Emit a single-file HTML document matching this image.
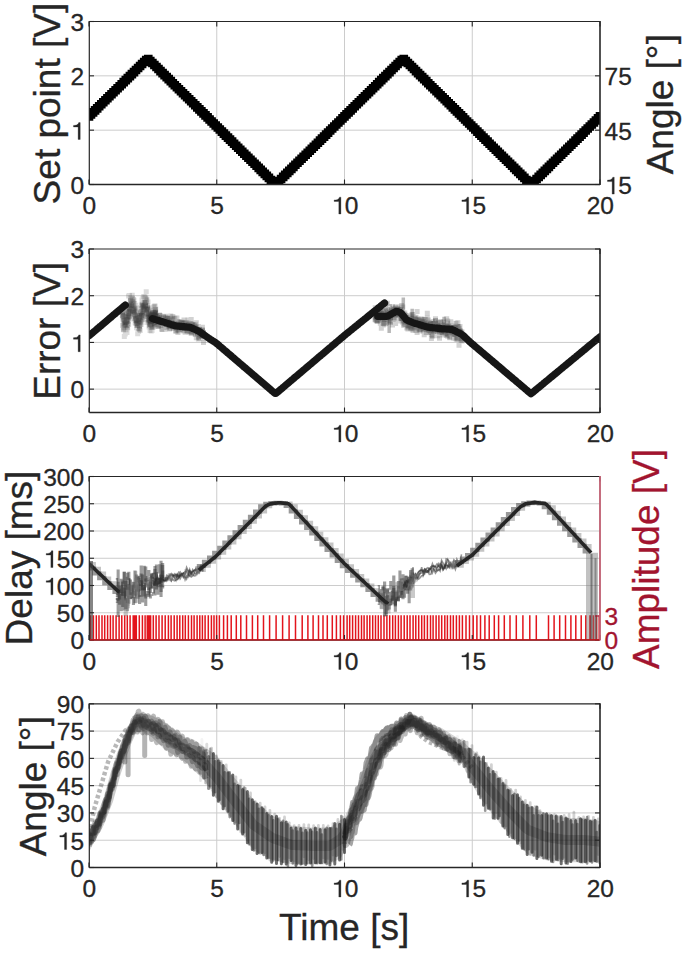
<!DOCTYPE html>
<html><head><meta charset="utf-8"><style>
html,body{margin:0;padding:0;background:#fff;}
svg{display:block;}
.tk{font-family:"Liberation Sans",sans-serif;font-size:24.5px;fill:#262626;stroke:#262626;stroke-width:0.3px;}
.lb{font-family:"Liberation Sans",sans-serif;font-size:37px;fill:#262626;stroke:#262626;stroke-width:0.3px;}
</style></head><body>
<svg width="685" height="953" viewBox="0 0 685 953">
<rect width="685" height="953" fill="#fff"/>
<defs>
<clipPath id="c0"><rect x="89.0" y="21.5" width="511.0" height="163.0"/></clipPath>
<clipPath id="c1"><rect x="89.0" y="249.0" width="511.0" height="163.5"/></clipPath>
<clipPath id="c2"><rect x="89.0" y="476.5" width="511.0" height="163.5"/></clipPath>
<clipPath id="c3"><rect x="89.0" y="703.8" width="511.0" height="163.70000000000005"/></clipPath>
</defs>
<line x1="216.75" y1="21.5" x2="216.75" y2="184.5" stroke="#cccccc" stroke-width="1"/>
<line x1="344.50" y1="21.5" x2="344.50" y2="184.5" stroke="#cccccc" stroke-width="1"/>
<line x1="472.25" y1="21.5" x2="472.25" y2="184.5" stroke="#cccccc" stroke-width="1"/>
<line x1="89.0" y1="130.17" x2="600.0" y2="130.17" stroke="#cccccc" stroke-width="1"/>
<line x1="89.0" y1="75.83" x2="600.0" y2="75.83" stroke="#cccccc" stroke-width="1"/>
<g clip-path="url(#c0)"><path d="M84.7 112.1h8.6v8.6h-8.6zM86.7 110.1h8.6v8.6h-8.6zM88.8 108.1h8.6v8.6h-8.6zM90.8 106.1h8.6v8.6h-8.6zM92.9 104.1h8.6v8.6h-8.6zM94.9 102.0h8.6v8.6h-8.6zM97.0 100.0h8.6v8.6h-8.6zM99.0 98.0h8.6v8.6h-8.6zM101.1 96.0h8.6v8.6h-8.6zM103.1 94.0h8.6v8.6h-8.6zM105.1 92.0h8.6v8.6h-8.6zM107.2 89.9h8.6v8.6h-8.6zM109.2 87.9h8.6v8.6h-8.6zM111.3 85.9h8.6v8.6h-8.6zM113.3 83.9h8.6v8.6h-8.6zM115.4 81.9h8.6v8.6h-8.6zM117.4 79.9h8.6v8.6h-8.6zM119.4 77.8h8.6v8.6h-8.6zM121.5 75.8h8.6v8.6h-8.6zM123.5 73.8h8.6v8.6h-8.6zM125.6 71.8h8.6v8.6h-8.6zM127.6 69.8h8.6v8.6h-8.6zM129.7 67.8h8.6v8.6h-8.6zM131.7 65.7h8.6v8.6h-8.6zM133.8 63.7h8.6v8.6h-8.6zM135.8 61.7h8.6v8.6h-8.6zM137.8 59.7h8.6v8.6h-8.6zM139.9 57.7h8.6v8.6h-8.6zM141.9 55.7h8.6v8.6h-8.6zM144.0 54.7h8.6v8.6h-8.6zM146.0 56.7h8.6v8.6h-8.6zM148.1 58.7h8.6v8.6h-8.6zM150.1 60.7h8.6v8.6h-8.6zM152.2 62.7h8.6v8.6h-8.6zM154.2 64.7h8.6v8.6h-8.6zM156.2 66.8h8.6v8.6h-8.6zM158.3 68.8h8.6v8.6h-8.6zM160.3 70.8h8.6v8.6h-8.6zM162.4 72.8h8.6v8.6h-8.6zM164.4 74.8h8.6v8.6h-8.6zM166.5 76.8h8.6v8.6h-8.6zM168.5 78.9h8.6v8.6h-8.6zM170.5 80.9h8.6v8.6h-8.6zM172.6 82.9h8.6v8.6h-8.6zM174.6 84.9h8.6v8.6h-8.6zM176.7 86.9h8.6v8.6h-8.6zM178.7 88.9h8.6v8.6h-8.6zM180.8 91.0h8.6v8.6h-8.6zM182.8 93.0h8.6v8.6h-8.6zM184.9 95.0h8.6v8.6h-8.6zM186.9 97.0h8.6v8.6h-8.6zM188.9 99.0h8.6v8.6h-8.6zM191.0 101.0h8.6v8.6h-8.6zM193.0 103.1h8.6v8.6h-8.6zM195.1 105.1h8.6v8.6h-8.6zM197.1 107.1h8.6v8.6h-8.6zM199.2 109.1h8.6v8.6h-8.6zM201.2 111.1h8.6v8.6h-8.6zM203.3 113.1h8.6v8.6h-8.6zM205.3 115.2h8.6v8.6h-8.6zM207.3 117.2h8.6v8.6h-8.6zM209.4 119.2h8.6v8.6h-8.6zM211.4 121.2h8.6v8.6h-8.6zM213.5 123.2h8.6v8.6h-8.6zM215.5 125.2h8.6v8.6h-8.6zM217.6 127.3h8.6v8.6h-8.6zM219.6 129.3h8.6v8.6h-8.6zM221.6 131.3h8.6v8.6h-8.6zM223.7 133.3h8.6v8.6h-8.6zM225.7 135.3h8.6v8.6h-8.6zM227.8 137.3h8.6v8.6h-8.6zM229.8 139.4h8.6v8.6h-8.6zM231.9 141.4h8.6v8.6h-8.6zM233.9 143.4h8.6v8.6h-8.6zM236.0 145.4h8.6v8.6h-8.6zM238.0 147.4h8.6v8.6h-8.6zM240.0 149.4h8.6v8.6h-8.6zM242.1 151.5h8.6v8.6h-8.6zM244.1 153.5h8.6v8.6h-8.6zM246.2 155.5h8.6v8.6h-8.6zM248.2 157.5h8.6v8.6h-8.6zM250.3 159.5h8.6v8.6h-8.6zM252.3 161.5h8.6v8.6h-8.6zM254.4 163.6h8.6v8.6h-8.6zM256.4 165.6h8.6v8.6h-8.6zM258.4 167.6h8.6v8.6h-8.6zM260.5 169.6h8.6v8.6h-8.6zM262.5 171.6h8.6v8.6h-8.6zM264.6 173.6h8.6v8.6h-8.6zM266.6 175.7h8.6v8.6h-8.6zM268.7 177.7h8.6v8.6h-8.6zM270.7 179.7h8.6v8.6h-8.6zM272.7 178.7h8.6v8.6h-8.6zM274.8 176.7h8.6v8.6h-8.6zM276.8 174.7h8.6v8.6h-8.6zM278.9 172.6h8.6v8.6h-8.6zM280.9 170.6h8.6v8.6h-8.6zM283.0 168.6h8.6v8.6h-8.6zM285.0 166.6h8.6v8.6h-8.6zM287.1 164.6h8.6v8.6h-8.6zM289.1 162.6h8.6v8.6h-8.6zM291.1 160.5h8.6v8.6h-8.6zM293.2 158.5h8.6v8.6h-8.6zM295.2 156.5h8.6v8.6h-8.6zM297.3 154.5h8.6v8.6h-8.6zM299.3 152.5h8.6v8.6h-8.6zM301.4 150.5h8.6v8.6h-8.6zM303.4 148.4h8.6v8.6h-8.6zM305.5 146.4h8.6v8.6h-8.6zM307.5 144.4h8.6v8.6h-8.6zM309.5 142.4h8.6v8.6h-8.6zM311.6 140.4h8.6v8.6h-8.6zM313.6 138.4h8.6v8.6h-8.6zM315.7 136.3h8.6v8.6h-8.6zM317.7 134.3h8.6v8.6h-8.6zM319.8 132.3h8.6v8.6h-8.6zM321.8 130.3h8.6v8.6h-8.6zM323.8 128.3h8.6v8.6h-8.6zM325.9 126.2h8.6v8.6h-8.6zM327.9 124.2h8.6v8.6h-8.6zM330.0 122.2h8.6v8.6h-8.6zM332.0 120.2h8.6v8.6h-8.6zM334.1 118.2h8.6v8.6h-8.6zM336.1 116.2h8.6v8.6h-8.6zM338.2 114.1h8.6v8.6h-8.6zM340.2 112.1h8.6v8.6h-8.6zM342.2 110.1h8.6v8.6h-8.6zM344.3 108.1h8.6v8.6h-8.6zM346.3 106.1h8.6v8.6h-8.6zM348.4 104.1h8.6v8.6h-8.6zM350.4 102.0h8.6v8.6h-8.6zM352.5 100.0h8.6v8.6h-8.6zM354.5 98.0h8.6v8.6h-8.6zM356.6 96.0h8.6v8.6h-8.6zM358.6 94.0h8.6v8.6h-8.6zM360.6 92.0h8.6v8.6h-8.6zM362.7 89.9h8.6v8.6h-8.6zM364.7 87.9h8.6v8.6h-8.6zM366.8 85.9h8.6v8.6h-8.6zM368.8 83.9h8.6v8.6h-8.6zM370.9 81.9h8.6v8.6h-8.6zM372.9 79.9h8.6v8.6h-8.6zM374.9 77.8h8.6v8.6h-8.6zM377.0 75.8h8.6v8.6h-8.6zM379.0 73.8h8.6v8.6h-8.6zM381.1 71.8h8.6v8.6h-8.6zM383.1 69.8h8.6v8.6h-8.6zM385.2 67.8h8.6v8.6h-8.6zM387.2 65.7h8.6v8.6h-8.6zM389.3 63.7h8.6v8.6h-8.6zM391.3 61.7h8.6v8.6h-8.6zM393.3 59.7h8.6v8.6h-8.6zM395.4 57.7h8.6v8.6h-8.6zM397.4 55.7h8.6v8.6h-8.6zM399.5 54.7h8.6v8.6h-8.6zM401.5 56.7h8.6v8.6h-8.6zM403.6 58.7h8.6v8.6h-8.6zM405.6 60.7h8.6v8.6h-8.6zM407.7 62.7h8.6v8.6h-8.6zM409.7 64.7h8.6v8.6h-8.6zM411.7 66.8h8.6v8.6h-8.6zM413.8 68.8h8.6v8.6h-8.6zM415.8 70.8h8.6v8.6h-8.6zM417.9 72.8h8.6v8.6h-8.6zM419.9 74.8h8.6v8.6h-8.6zM422.0 76.8h8.6v8.6h-8.6zM424.0 78.9h8.6v8.6h-8.6zM426.0 80.9h8.6v8.6h-8.6zM428.1 82.9h8.6v8.6h-8.6zM430.1 84.9h8.6v8.6h-8.6zM432.2 86.9h8.6v8.6h-8.6zM434.2 88.9h8.6v8.6h-8.6zM436.3 91.0h8.6v8.6h-8.6zM438.3 93.0h8.6v8.6h-8.6zM440.4 95.0h8.6v8.6h-8.6zM442.4 97.0h8.6v8.6h-8.6zM444.4 99.0h8.6v8.6h-8.6zM446.5 101.0h8.6v8.6h-8.6zM448.5 103.1h8.6v8.6h-8.6zM450.6 105.1h8.6v8.6h-8.6zM452.6 107.1h8.6v8.6h-8.6zM454.7 109.1h8.6v8.6h-8.6zM456.7 111.1h8.6v8.6h-8.6zM458.8 113.1h8.6v8.6h-8.6zM460.8 115.2h8.6v8.6h-8.6zM462.8 117.2h8.6v8.6h-8.6zM464.9 119.2h8.6v8.6h-8.6zM466.9 121.2h8.6v8.6h-8.6zM469.0 123.2h8.6v8.6h-8.6zM471.0 125.2h8.6v8.6h-8.6zM473.1 127.3h8.6v8.6h-8.6zM475.1 129.3h8.6v8.6h-8.6zM477.1 131.3h8.6v8.6h-8.6zM479.2 133.3h8.6v8.6h-8.6zM481.2 135.3h8.6v8.6h-8.6zM483.3 137.3h8.6v8.6h-8.6zM485.3 139.4h8.6v8.6h-8.6zM487.4 141.4h8.6v8.6h-8.6zM489.4 143.4h8.6v8.6h-8.6zM491.5 145.4h8.6v8.6h-8.6zM493.5 147.4h8.6v8.6h-8.6zM495.5 149.4h8.6v8.6h-8.6zM497.6 151.5h8.6v8.6h-8.6zM499.6 153.5h8.6v8.6h-8.6zM501.7 155.5h8.6v8.6h-8.6zM503.7 157.5h8.6v8.6h-8.6zM505.8 159.5h8.6v8.6h-8.6zM507.8 161.5h8.6v8.6h-8.6zM509.9 163.6h8.6v8.6h-8.6zM511.9 165.6h8.6v8.6h-8.6zM513.9 167.6h8.6v8.6h-8.6zM516.0 169.6h8.6v8.6h-8.6zM518.0 171.6h8.6v8.6h-8.6zM520.1 173.6h8.6v8.6h-8.6zM522.1 175.7h8.6v8.6h-8.6zM524.2 177.7h8.6v8.6h-8.6zM526.2 179.7h8.6v8.6h-8.6zM528.2 178.7h8.6v8.6h-8.6zM530.3 176.7h8.6v8.6h-8.6zM532.3 174.7h8.6v8.6h-8.6zM534.4 172.6h8.6v8.6h-8.6zM536.4 170.6h8.6v8.6h-8.6zM538.5 168.6h8.6v8.6h-8.6zM540.5 166.6h8.6v8.6h-8.6zM542.6 164.6h8.6v8.6h-8.6zM544.6 162.6h8.6v8.6h-8.6zM546.6 160.5h8.6v8.6h-8.6zM548.7 158.5h8.6v8.6h-8.6zM550.7 156.5h8.6v8.6h-8.6zM552.8 154.5h8.6v8.6h-8.6zM554.8 152.5h8.6v8.6h-8.6zM556.9 150.5h8.6v8.6h-8.6zM558.9 148.4h8.6v8.6h-8.6zM561.0 146.4h8.6v8.6h-8.6zM563.0 144.4h8.6v8.6h-8.6zM565.0 142.4h8.6v8.6h-8.6zM567.1 140.4h8.6v8.6h-8.6zM569.1 138.4h8.6v8.6h-8.6zM571.2 136.3h8.6v8.6h-8.6zM573.2 134.3h8.6v8.6h-8.6zM575.3 132.3h8.6v8.6h-8.6zM577.3 130.3h8.6v8.6h-8.6zM579.3 128.3h8.6v8.6h-8.6zM581.4 126.2h8.6v8.6h-8.6zM583.4 124.2h8.6v8.6h-8.6zM585.5 122.2h8.6v8.6h-8.6zM587.5 120.2h8.6v8.6h-8.6zM589.6 118.2h8.6v8.6h-8.6zM591.6 116.2h8.6v8.6h-8.6zM593.7 114.1h8.6v8.6h-8.6zM595.7 112.1h8.6v8.6h-8.6z" fill="#000"/></g>
<line x1="89.00" y1="184.5" x2="89.00" y2="179.5" stroke="#262626" stroke-width="1.1"/>
<line x1="89.00" y1="21.5" x2="89.00" y2="26.5" stroke="#262626" stroke-width="1.1"/>
<line x1="216.75" y1="184.5" x2="216.75" y2="179.5" stroke="#262626" stroke-width="1.1"/>
<line x1="216.75" y1="21.5" x2="216.75" y2="26.5" stroke="#262626" stroke-width="1.1"/>
<line x1="344.50" y1="184.5" x2="344.50" y2="179.5" stroke="#262626" stroke-width="1.1"/>
<line x1="344.50" y1="21.5" x2="344.50" y2="26.5" stroke="#262626" stroke-width="1.1"/>
<line x1="472.25" y1="184.5" x2="472.25" y2="179.5" stroke="#262626" stroke-width="1.1"/>
<line x1="472.25" y1="21.5" x2="472.25" y2="26.5" stroke="#262626" stroke-width="1.1"/>
<line x1="600.00" y1="184.5" x2="600.00" y2="179.5" stroke="#262626" stroke-width="1.1"/>
<line x1="600.00" y1="21.5" x2="600.00" y2="26.5" stroke="#262626" stroke-width="1.1"/>
<line x1="89.3" y1="184.50" x2="94.0" y2="184.50" stroke="#262626" stroke-width="1.1"/>
<line x1="89.3" y1="130.17" x2="94.0" y2="130.17" stroke="#262626" stroke-width="1.1"/>
<line x1="89.3" y1="75.83" x2="94.0" y2="75.83" stroke="#262626" stroke-width="1.1"/>
<line x1="89.3" y1="21.50" x2="94.0" y2="21.50" stroke="#262626" stroke-width="1.1"/>
<line x1="600.0" y1="184.50" x2="595.0" y2="184.50" stroke="#262626" stroke-width="1.1"/>
<line x1="600.0" y1="130.17" x2="595.0" y2="130.17" stroke="#262626" stroke-width="1.1"/>
<line x1="600.0" y1="75.83" x2="595.0" y2="75.83" stroke="#262626" stroke-width="1.1"/>
<polyline points="600.0,21.5 89.3,21.5 89.3,184.5" fill="none" stroke="#262626" stroke-width="1.2"/>
<line x1="89.3" y1="184.5" x2="600.0" y2="184.5" stroke="#262626" stroke-width="1.35"/>
<line x1="600.0" y1="20.9" x2="600.0" y2="185.1" stroke="#262626" stroke-width="1.6"/>
<text x="82.49" y="214.00" class="tk">0</text>
<text x="210.24" y="214.00" class="tk">5</text>
<path d="M640 0L815 0L815 1409L690 1409C670 1290 560 1190 380 1180L250 1175L250 1045L640 1045Z" transform="translate(331.17,214.00) scale(0.01196,-0.01196)" fill="#262626" stroke="#262626" stroke-width="25.1"/>
<text x="344.80" y="214.00" class="tk">0</text>
<path d="M640 0L815 0L815 1409L690 1409C670 1290 560 1190 380 1180L250 1175L250 1045L640 1045Z" transform="translate(458.92,214.00) scale(0.01196,-0.01196)" fill="#262626" stroke="#262626" stroke-width="25.1"/>
<text x="472.55" y="214.00" class="tk">5</text>
<text x="586.67" y="214.00" class="tk">2</text>
<text x="600.30" y="214.00" class="tk">0</text>
<text x="70.47" y="193.80" class="tk">0</text>
<path d="M640 0L815 0L815 1409L690 1409C670 1290 560 1190 380 1180L250 1175L250 1045L640 1045Z" transform="translate(70.47,139.47) scale(0.01196,-0.01196)" fill="#262626" stroke="#262626" stroke-width="25.1"/>
<text x="70.47" y="85.13" class="tk">2</text>
<text x="70.47" y="30.80" class="tk">3</text>
<path d="M640 0L815 0L815 1409L690 1409C670 1290 560 1190 380 1180L250 1175L250 1045L640 1045Z" transform="translate(604.50,194.10) scale(0.01196,-0.01196)" fill="#262626" stroke="#262626" stroke-width="25.1"/>
<text x="618.13" y="194.10" class="tk">5</text>
<text x="604.50" y="139.77" class="tk">4</text>
<text x="618.13" y="139.77" class="tk">5</text>
<text x="604.50" y="85.43" class="tk">7</text>
<text x="618.13" y="85.43" class="tk">5</text>
<text transform="translate(59.5,103.6) rotate(-90)" text-anchor="middle" class="lb">Set point [V]</text>
<text transform="translate(673.2,104.2) rotate(-90)" text-anchor="middle" class="lb">Angle [°]</text>
<line x1="216.75" y1="249.0" x2="216.75" y2="412.5" stroke="#cccccc" stroke-width="1"/>
<line x1="344.50" y1="249.0" x2="344.50" y2="412.5" stroke="#cccccc" stroke-width="1"/>
<line x1="472.25" y1="249.0" x2="472.25" y2="412.5" stroke="#cccccc" stroke-width="1"/>
<line x1="89.0" y1="389.14" x2="600.0" y2="389.14" stroke="#cccccc" stroke-width="1"/>
<line x1="89.0" y1="342.43" x2="600.0" y2="342.43" stroke="#cccccc" stroke-width="1"/>
<line x1="89.0" y1="295.71" x2="600.0" y2="295.71" stroke="#cccccc" stroke-width="1"/>
<g clip-path="url(#c1)">
<path d="M120.0 310.1h5v5h-5zM120.9 314.8h5v5h-5zM121.8 314.0h5v5h-5zM122.7 321.9h5v5h-5zM123.6 318.7h5v5h-5zM124.5 318.9h5v5h-5zM125.4 316.1h5v5h-5zM126.3 310.9h5v5h-5zM127.2 306.4h5v5h-5zM128.1 303.1h5v5h-5zM129.0 301.4h5v5h-5zM129.9 296.6h5v5h-5zM130.8 302.0h5v5h-5zM131.7 311.6h5v5h-5zM132.6 310.1h5v5h-5zM133.4 315.9h5v5h-5zM134.3 318.6h5v5h-5zM135.2 315.3h5v5h-5zM136.1 320.0h5v5h-5zM137.0 323.7h5v5h-5zM137.9 314.9h5v5h-5zM138.8 313.3h5v5h-5zM139.7 312.2h5v5h-5zM140.6 308.3h5v5h-5zM141.5 305.2h5v5h-5zM142.4 302.7h5v5h-5zM143.3 304.6h5v5h-5zM144.2 305.3h5v5h-5zM145.1 303.5h5v5h-5zM146.0 314.4h5v5h-5zM146.9 317.8h5v5h-5zM147.8 318.8h5v5h-5zM148.6 315.4h5v5h-5zM149.5 319.2h5v5h-5zM150.4 311.2h5v5h-5zM151.3 316.5h5v5h-5zM152.2 313.9h5v5h-5zM153.1 310.1h5v5h-5z" fill="#2a2a2a" fill-opacity="0.17"/>
<path d="M120.3 312.9h5v5h-5zM121.2 316.6h5v5h-5zM122.1 314.1h5v5h-5zM123.0 317.9h5v5h-5zM123.9 319.8h5v5h-5zM124.8 314.7h5v5h-5zM125.7 318.7h5v5h-5zM126.6 313.2h5v5h-5zM127.5 309.2h5v5h-5zM128.4 308.8h5v5h-5zM129.3 308.9h5v5h-5zM130.2 305.9h5v5h-5zM131.1 309.1h5v5h-5zM132.0 311.0h5v5h-5zM132.9 314.6h5v5h-5zM133.8 310.7h5v5h-5zM134.6 318.3h5v5h-5zM135.5 315.3h5v5h-5zM136.4 318.2h5v5h-5zM137.3 319.6h5v5h-5zM138.2 315.5h5v5h-5zM139.1 314.4h5v5h-5zM140.0 312.1h5v5h-5zM140.9 313.8h5v5h-5zM141.8 307.8h5v5h-5zM142.7 304.5h5v5h-5zM143.6 305.7h5v5h-5zM144.5 305.4h5v5h-5zM145.4 306.1h5v5h-5zM146.3 311.7h5v5h-5zM147.2 309.9h5v5h-5zM148.1 321.7h5v5h-5zM149.0 318.7h5v5h-5zM149.8 324.6h5v5h-5zM150.7 314.0h5v5h-5zM151.6 314.5h5v5h-5zM152.5 308.7h5v5h-5zM153.4 313.6h5v5h-5z" fill="#2a2a2a" fill-opacity="0.17"/>
<path d="M121.4 311.3h5v5h-5zM122.3 313.3h5v5h-5zM123.2 319.7h5v5h-5zM124.1 319.3h5v5h-5zM125.0 324.8h5v5h-5zM125.9 312.6h5v5h-5zM126.8 314.0h5v5h-5zM127.6 309.1h5v5h-5zM128.5 303.5h5v5h-5zM129.4 301.1h5v5h-5zM130.3 298.9h5v5h-5zM131.2 301.8h5v5h-5zM132.1 301.1h5v5h-5zM133.0 302.8h5v5h-5zM133.9 305.3h5v5h-5zM134.8 313.1h5v5h-5zM135.7 316.3h5v5h-5zM136.6 318.2h5v5h-5zM137.5 318.4h5v5h-5zM138.4 318.3h5v5h-5zM139.3 316.7h5v5h-5zM140.2 313.4h5v5h-5zM141.1 304.4h5v5h-5zM142.0 302.6h5v5h-5zM142.8 300.4h5v5h-5zM143.7 289.3h5v5h-5zM144.6 297.2h5v5h-5zM145.5 299.6h5v5h-5zM146.4 305.3h5v5h-5zM147.3 313.0h5v5h-5zM148.2 311.1h5v5h-5zM149.1 316.7h5v5h-5zM150.0 316.7h5v5h-5zM150.9 312.7h5v5h-5zM151.8 310.7h5v5h-5zM152.7 310.6h5v5h-5z" fill="#2a2a2a" fill-opacity="0.17"/>
<path d="M120.7 312.1h5v5h-5zM121.6 317.7h5v5h-5zM122.5 320.1h5v5h-5zM123.4 318.1h5v5h-5zM124.3 317.0h5v5h-5zM125.2 307.8h5v5h-5zM126.1 307.7h5v5h-5zM127.0 302.4h5v5h-5zM127.9 295.5h5v5h-5zM128.8 297.7h5v5h-5zM129.7 292.8h5v5h-5zM130.6 297.6h5v5h-5zM131.5 297.8h5v5h-5zM132.4 308.5h5v5h-5zM133.3 310.3h5v5h-5zM134.1 320.6h5v5h-5zM135.0 320.5h5v5h-5zM135.9 320.4h5v5h-5zM136.8 317.9h5v5h-5zM137.7 310.5h5v5h-5zM138.6 306.2h5v5h-5zM139.5 309.8h5v5h-5zM140.4 303.2h5v5h-5zM141.3 293.9h5v5h-5zM142.2 294.4h5v5h-5zM143.1 300.0h5v5h-5zM144.0 297.5h5v5h-5zM144.9 306.3h5v5h-5zM145.8 310.8h5v5h-5zM146.7 317.1h5v5h-5zM147.6 318.4h5v5h-5zM148.5 312.8h5v5h-5zM149.4 316.7h5v5h-5zM150.2 315.2h5v5h-5zM151.1 304.4h5v5h-5zM152.0 309.8h5v5h-5zM152.9 307.0h5v5h-5z" fill="#2a2a2a" fill-opacity="0.17"/>
<path d="M121.1 310.5h5v5h-5zM122.0 318.1h5v5h-5zM122.9 320.8h5v5h-5zM123.8 323.3h5v5h-5zM124.7 320.8h5v5h-5zM125.5 313.6h5v5h-5zM126.4 314.4h5v5h-5zM127.3 302.5h5v5h-5zM128.2 298.0h5v5h-5zM129.1 295.4h5v5h-5zM130.0 295.9h5v5h-5zM130.9 296.9h5v5h-5zM131.8 303.0h5v5h-5zM132.7 305.6h5v5h-5zM133.6 317.5h5v5h-5zM134.5 315.1h5v5h-5zM135.4 323.2h5v5h-5zM136.3 320.2h5v5h-5zM137.2 321.2h5v5h-5zM138.1 317.4h5v5h-5zM139.0 313.3h5v5h-5zM139.9 301.8h5v5h-5zM140.8 303.5h5v5h-5zM141.6 300.3h5v5h-5zM142.5 294.8h5v5h-5zM143.4 295.6h5v5h-5zM144.3 299.4h5v5h-5zM145.2 307.0h5v5h-5zM146.1 311.6h5v5h-5zM147.0 312.6h5v5h-5zM147.9 322.0h5v5h-5zM148.8 318.0h5v5h-5zM149.7 316.0h5v5h-5zM150.6 314.6h5v5h-5zM151.5 314.8h5v5h-5zM152.4 303.3h5v5h-5zM153.3 306.6h5v5h-5z" fill="#2a2a2a" fill-opacity="0.17"/>
<path d="M120.5 316.5h5v5h-5zM121.4 322.6h5v5h-5zM122.3 321.8h5v5h-5zM123.2 318.9h5v5h-5zM124.1 319.3h5v5h-5zM125.0 317.6h5v5h-5zM125.9 310.4h5v5h-5zM126.8 306.7h5v5h-5zM127.6 303.2h5v5h-5zM128.5 305.7h5v5h-5zM129.4 307.9h5v5h-5zM130.3 301.8h5v5h-5zM131.2 306.7h5v5h-5zM132.1 311.7h5v5h-5zM133.0 313.5h5v5h-5zM133.9 319.8h5v5h-5zM134.8 323.0h5v5h-5zM135.7 317.3h5v5h-5zM136.6 326.1h5v5h-5zM137.5 316.9h5v5h-5zM138.4 312.9h5v5h-5zM139.3 306.6h5v5h-5zM140.2 306.9h5v5h-5zM141.1 303.1h5v5h-5zM142.0 305.5h5v5h-5zM142.9 303.1h5v5h-5zM143.7 310.9h5v5h-5zM144.6 309.9h5v5h-5zM145.5 312.5h5v5h-5zM146.4 316.8h5v5h-5zM147.3 321.2h5v5h-5zM148.2 318.2h5v5h-5zM149.1 325.1h5v5h-5zM150.0 318.1h5v5h-5zM150.9 316.9h5v5h-5zM151.8 313.1h5v5h-5zM152.7 311.4h5v5h-5z" fill="#2a2a2a" fill-opacity="0.17"/>
<path d="M121.0 327.2h5v5h-5zM121.9 320.9h5v5h-5zM122.8 321.3h5v5h-5zM123.7 317.7h5v5h-5zM124.6 306.3h5v5h-5zM125.5 314.7h5v5h-5zM126.4 304.5h5v5h-5zM127.3 305.8h5v5h-5zM128.1 298.0h5v5h-5zM129.0 303.4h5v5h-5zM129.9 310.3h5v5h-5zM130.8 311.1h5v5h-5zM131.7 312.5h5v5h-5zM132.6 315.8h5v5h-5zM133.5 321.0h5v5h-5zM134.4 320.1h5v5h-5zM135.3 320.1h5v5h-5zM136.2 315.5h5v5h-5zM137.1 313.2h5v5h-5zM138.0 309.9h5v5h-5zM138.9 308.9h5v5h-5zM139.8 302.6h5v5h-5zM140.7 305.0h5v5h-5zM141.6 305.9h5v5h-5zM142.5 306.3h5v5h-5zM143.4 308.7h5v5h-5zM144.2 312.0h5v5h-5zM145.1 319.9h5v5h-5zM146.0 313.5h5v5h-5zM146.9 317.2h5v5h-5zM147.8 315.6h5v5h-5zM148.7 318.4h5v5h-5zM149.6 312.6h5v5h-5zM150.5 311.6h5v5h-5zM151.4 310.1h5v5h-5zM152.3 304.1h5v5h-5zM153.2 310.8h5v5h-5z" fill="#2a2a2a" fill-opacity="0.17"/>
<path d="M120.0 323.1h5v5h-5zM120.9 326.7h5v5h-5zM121.8 333.9h5v5h-5zM122.7 331.6h5v5h-5zM123.6 326.3h5v5h-5zM124.5 330.1h5v5h-5zM125.4 314.4h5v5h-5zM126.3 308.8h5v5h-5zM127.2 308.5h5v5h-5zM128.1 307.0h5v5h-5zM129.0 305.4h5v5h-5zM129.9 306.3h5v5h-5zM130.8 308.2h5v5h-5zM131.7 305.2h5v5h-5zM132.6 320.2h5v5h-5zM133.5 320.4h5v5h-5zM134.3 323.1h5v5h-5zM135.2 331.2h5v5h-5zM136.1 328.9h5v5h-5zM137.0 323.4h5v5h-5zM137.9 322.4h5v5h-5zM138.8 311.4h5v5h-5zM139.7 303.2h5v5h-5zM140.6 304.8h5v5h-5zM141.5 304.3h5v5h-5zM142.4 300.1h5v5h-5zM143.3 303.0h5v5h-5zM144.2 310.3h5v5h-5zM145.1 314.1h5v5h-5zM146.0 319.2h5v5h-5zM146.9 323.0h5v5h-5zM147.8 324.5h5v5h-5zM148.7 328.6h5v5h-5zM149.5 328.1h5v5h-5zM150.4 325.1h5v5h-5zM151.3 311.6h5v5h-5zM152.2 315.1h5v5h-5zM153.1 313.8h5v5h-5z" fill="#2a2a2a" fill-opacity="0.17"/>
<path d="M121.6 325.3h5v5h-5zM122.5 322.3h5v5h-5zM123.4 314.4h5v5h-5zM124.3 309.3h5v5h-5zM125.2 303.5h5v5h-5zM126.1 293.4h5v5h-5zM127.0 292.9h5v5h-5zM127.9 299.0h5v5h-5zM128.7 296.6h5v5h-5zM129.6 300.3h5v5h-5zM130.5 309.5h5v5h-5zM131.4 306.9h5v5h-5zM132.3 316.1h5v5h-5zM133.2 318.1h5v5h-5zM134.1 325.2h5v5h-5zM135.0 325.8h5v5h-5zM135.9 316.9h5v5h-5zM136.8 314.4h5v5h-5zM137.7 309.6h5v5h-5zM138.6 302.6h5v5h-5zM139.5 297.6h5v5h-5zM140.4 295.7h5v5h-5zM141.3 297.1h5v5h-5zM142.2 298.1h5v5h-5zM143.1 296.0h5v5h-5zM144.0 306.7h5v5h-5zM144.8 317.2h5v5h-5zM145.7 314.8h5v5h-5zM146.6 324.6h5v5h-5zM147.5 327.9h5v5h-5zM148.4 324.3h5v5h-5zM149.3 321.3h5v5h-5zM150.2 307.7h5v5h-5zM151.1 310.4h5v5h-5zM152.0 309.5h5v5h-5zM152.9 307.1h5v5h-5z" fill="#2a2a2a" fill-opacity="0.17"/>
<path d="M120.0 313.5h5v5h-5zM120.9 321.7h5v5h-5zM121.8 320.4h5v5h-5zM122.7 322.8h5v5h-5zM123.6 321.8h5v5h-5zM124.5 323.0h5v5h-5zM125.4 321.6h5v5h-5zM126.3 311.7h5v5h-5zM127.2 308.8h5v5h-5zM128.1 309.1h5v5h-5zM129.0 307.5h5v5h-5zM129.9 303.0h5v5h-5zM130.8 300.7h5v5h-5zM131.7 308.2h5v5h-5zM132.5 305.9h5v5h-5zM133.4 316.1h5v5h-5zM134.3 319.5h5v5h-5zM135.2 321.5h5v5h-5zM136.1 320.6h5v5h-5zM137.0 326.9h5v5h-5zM137.9 319.8h5v5h-5zM138.8 313.1h5v5h-5zM139.7 317.1h5v5h-5zM140.6 308.3h5v5h-5zM141.5 304.1h5v5h-5zM142.4 300.1h5v5h-5zM143.3 301.0h5v5h-5zM144.2 307.5h5v5h-5zM145.1 304.9h5v5h-5zM146.0 317.8h5v5h-5zM146.9 322.5h5v5h-5zM147.8 317.9h5v5h-5zM148.6 320.5h5v5h-5zM149.5 324.6h5v5h-5zM150.4 316.2h5v5h-5zM151.3 314.3h5v5h-5zM152.2 312.5h5v5h-5zM153.1 314.5h5v5h-5z" fill="#2a2a2a" fill-opacity="0.17"/>
<path d="M119.8 312.7h5v5h-5zM120.7 317.2h5v5h-5zM121.6 317.2h5v5h-5zM122.5 326.4h5v5h-5zM123.4 327.2h5v5h-5zM124.3 319.6h5v5h-5zM125.2 325.2h5v5h-5zM126.1 321.9h5v5h-5zM126.9 312.9h5v5h-5zM127.8 316.6h5v5h-5zM128.7 303.2h5v5h-5zM129.6 309.0h5v5h-5zM130.5 307.2h5v5h-5zM131.4 309.7h5v5h-5zM132.3 311.7h5v5h-5zM133.2 315.1h5v5h-5zM134.1 314.8h5v5h-5zM135.0 321.6h5v5h-5zM135.9 320.4h5v5h-5zM136.8 323.2h5v5h-5zM137.7 328.1h5v5h-5zM138.6 322.1h5v5h-5zM139.5 320.1h5v5h-5zM140.4 315.2h5v5h-5zM141.3 309.5h5v5h-5zM142.1 305.6h5v5h-5zM143.0 303.7h5v5h-5zM143.9 311.2h5v5h-5zM144.8 307.6h5v5h-5zM145.7 312.0h5v5h-5zM146.6 309.7h5v5h-5zM147.5 320.0h5v5h-5zM148.4 322.3h5v5h-5zM149.3 323.0h5v5h-5zM150.2 319.9h5v5h-5zM151.1 323.3h5v5h-5zM152.0 318.0h5v5h-5zM152.9 315.9h5v5h-5z" fill="#2a2a2a" fill-opacity="0.17"/>
<path d="M147.8 315.5h5v5h-5zM148.8 316.6h5v5h-5zM149.9 317.9h5v5h-5zM150.9 316.2h5v5h-5zM151.9 321.1h5v5h-5zM152.9 311.8h5v5h-5zM154.0 317.4h5v5h-5zM155.0 323.7h5v5h-5zM156.0 319.0h5v5h-5zM157.0 315.3h5v5h-5zM158.0 319.3h5v5h-5zM159.1 319.5h5v5h-5zM160.1 326.9h5v5h-5zM161.1 315.0h5v5h-5zM162.1 319.8h5v5h-5zM163.2 326.8h5v5h-5zM164.2 322.1h5v5h-5zM165.2 316.1h5v5h-5zM166.2 320.0h5v5h-5zM167.2 326.5h5v5h-5zM168.3 323.7h5v5h-5zM169.3 321.4h5v5h-5zM170.3 315.7h5v5h-5zM171.3 322.1h5v5h-5zM172.3 320.8h5v5h-5zM173.4 324.5h5v5h-5zM174.4 323.4h5v5h-5zM175.4 327.0h5v5h-5zM176.4 328.1h5v5h-5zM177.5 328.3h5v5h-5zM178.5 325.9h5v5h-5zM179.5 319.9h5v5h-5zM180.5 324.3h5v5h-5zM181.5 320.3h5v5h-5zM182.6 321.8h5v5h-5zM183.6 323.9h5v5h-5zM184.6 326.2h5v5h-5zM185.6 317.5h5v5h-5zM186.7 321.0h5v5h-5zM187.7 320.7h5v5h-5zM188.7 317.1h5v5h-5zM189.7 320.7h5v5h-5zM190.7 325.5h5v5h-5zM191.8 325.4h5v5h-5zM192.8 325.3h5v5h-5zM193.8 320.2h5v5h-5zM194.8 331.4h5v5h-5zM195.9 334.5h5v5h-5zM196.9 330.7h5v5h-5zM197.9 329.8h5v5h-5zM198.9 332.5h5v5h-5zM199.9 328.2h5v5h-5zM201.0 330.0h5v5h-5z" fill="#333" fill-opacity="0.22"/>
<path d="M147.8 315.5h5v5h-5zM148.8 315.5h5v5h-5zM149.9 309.8h5v5h-5zM150.9 309.8h5v5h-5zM151.9 311.0h5v5h-5zM152.9 318.3h5v5h-5zM154.0 313.3h5v5h-5zM155.0 321.5h5v5h-5zM156.0 324.1h5v5h-5zM157.0 312.7h5v5h-5zM158.0 315.8h5v5h-5zM159.1 316.7h5v5h-5zM160.1 314.6h5v5h-5zM161.1 314.1h5v5h-5zM162.1 319.0h5v5h-5zM163.2 319.3h5v5h-5zM164.2 318.6h5v5h-5zM165.2 318.1h5v5h-5zM166.2 320.6h5v5h-5zM167.2 325.9h5v5h-5zM168.3 313.6h5v5h-5zM169.3 324.6h5v5h-5zM170.3 324.4h5v5h-5zM171.3 320.8h5v5h-5zM172.3 323.3h5v5h-5zM173.4 321.6h5v5h-5zM174.4 315.5h5v5h-5zM175.4 318.9h5v5h-5zM176.4 325.2h5v5h-5zM177.5 322.7h5v5h-5zM178.5 324.1h5v5h-5zM179.5 319.8h5v5h-5zM180.5 327.0h5v5h-5zM181.5 327.3h5v5h-5zM182.6 329.8h5v5h-5zM183.6 322.7h5v5h-5zM184.6 323.2h5v5h-5zM185.6 322.2h5v5h-5zM186.7 321.9h5v5h-5zM187.7 328.7h5v5h-5zM188.7 326.4h5v5h-5zM189.7 329.2h5v5h-5zM190.7 322.1h5v5h-5zM191.8 323.7h5v5h-5zM192.8 331.8h5v5h-5zM193.8 325.7h5v5h-5zM194.8 327.6h5v5h-5zM195.9 328.0h5v5h-5zM196.9 326.7h5v5h-5zM197.9 331.7h5v5h-5zM198.9 331.5h5v5h-5zM199.9 333.4h5v5h-5zM201.0 334.1h5v5h-5z" fill="#333" fill-opacity="0.22"/>
<path d="M147.8 318.8h5v5h-5zM148.8 311.9h5v5h-5zM149.9 314.1h5v5h-5zM150.9 317.2h5v5h-5zM151.9 322.1h5v5h-5zM152.9 309.5h5v5h-5zM154.0 317.2h5v5h-5zM155.0 317.0h5v5h-5zM156.0 315.8h5v5h-5zM157.0 312.7h5v5h-5zM158.0 319.6h5v5h-5zM159.1 326.7h5v5h-5zM160.1 320.3h5v5h-5zM161.1 319.6h5v5h-5zM162.1 321.8h5v5h-5zM163.2 315.4h5v5h-5zM164.2 322.0h5v5h-5zM165.2 319.8h5v5h-5zM166.2 323.8h5v5h-5zM167.2 319.0h5v5h-5zM168.3 324.1h5v5h-5zM169.3 319.4h5v5h-5zM170.3 322.0h5v5h-5zM171.3 322.2h5v5h-5zM172.3 322.0h5v5h-5zM173.4 328.6h5v5h-5zM174.4 324.9h5v5h-5zM175.4 322.8h5v5h-5zM176.4 324.9h5v5h-5zM177.5 319.8h5v5h-5zM178.5 321.0h5v5h-5zM179.5 326.3h5v5h-5zM180.5 320.2h5v5h-5zM181.5 324.9h5v5h-5zM182.6 322.4h5v5h-5zM183.6 320.3h5v5h-5zM184.6 328.1h5v5h-5zM185.6 327.2h5v5h-5zM186.7 324.8h5v5h-5zM187.7 325.5h5v5h-5zM188.7 330.7h5v5h-5zM189.7 323.5h5v5h-5zM190.7 325.6h5v5h-5zM191.8 325.9h5v5h-5zM192.8 326.0h5v5h-5zM193.8 325.1h5v5h-5zM194.8 330.6h5v5h-5zM195.9 327.4h5v5h-5zM196.9 330.4h5v5h-5zM197.9 331.3h5v5h-5zM198.9 333.3h5v5h-5zM199.9 327.2h5v5h-5zM201.0 339.9h5v5h-5z" fill="#333" fill-opacity="0.22"/>
<path d="M147.8 317.7h5v5h-5zM148.8 313.4h5v5h-5zM149.9 317.1h5v5h-5zM150.9 318.5h5v5h-5zM151.9 313.2h5v5h-5zM152.9 320.1h5v5h-5zM154.0 318.2h5v5h-5zM155.0 316.3h5v5h-5zM156.0 319.7h5v5h-5zM157.0 320.0h5v5h-5zM158.0 318.4h5v5h-5zM159.1 315.7h5v5h-5zM160.1 322.3h5v5h-5zM161.1 317.8h5v5h-5zM162.1 320.1h5v5h-5zM163.2 321.3h5v5h-5zM164.2 324.9h5v5h-5zM165.2 315.2h5v5h-5zM166.2 319.3h5v5h-5zM167.2 320.6h5v5h-5zM168.3 322.8h5v5h-5zM169.3 316.8h5v5h-5zM170.3 324.6h5v5h-5zM171.3 326.1h5v5h-5zM172.3 325.7h5v5h-5zM173.4 323.5h5v5h-5zM174.4 322.4h5v5h-5zM175.4 330.1h5v5h-5zM176.4 322.7h5v5h-5zM177.5 322.9h5v5h-5zM178.5 320.3h5v5h-5zM179.5 325.0h5v5h-5zM180.5 319.2h5v5h-5zM181.5 317.6h5v5h-5zM182.6 326.0h5v5h-5zM183.6 325.2h5v5h-5zM184.6 321.2h5v5h-5zM185.6 320.6h5v5h-5zM186.7 324.6h5v5h-5zM187.7 321.0h5v5h-5zM188.7 330.3h5v5h-5zM189.7 322.6h5v5h-5zM190.7 324.7h5v5h-5zM191.8 323.6h5v5h-5zM192.8 325.4h5v5h-5zM193.8 325.3h5v5h-5zM194.8 329.4h5v5h-5zM195.9 323.9h5v5h-5zM196.9 335.8h5v5h-5zM197.9 328.9h5v5h-5zM198.9 332.5h5v5h-5zM199.9 324.8h5v5h-5zM201.0 335.6h5v5h-5z" fill="#333" fill-opacity="0.22"/>
<path d="M147.8 314.9h5v5h-5zM148.8 315.8h5v5h-5zM149.9 313.4h5v5h-5zM150.9 316.4h5v5h-5zM151.9 320.2h5v5h-5zM152.9 317.4h5v5h-5zM154.0 313.5h5v5h-5zM155.0 315.1h5v5h-5zM156.0 320.3h5v5h-5zM157.0 322.4h5v5h-5zM158.0 322.8h5v5h-5zM159.1 319.3h5v5h-5zM160.1 319.7h5v5h-5zM161.1 320.7h5v5h-5zM162.1 321.6h5v5h-5zM163.2 319.6h5v5h-5zM164.2 316.2h5v5h-5zM165.2 317.5h5v5h-5zM166.2 322.6h5v5h-5zM167.2 318.9h5v5h-5zM168.3 322.6h5v5h-5zM169.3 317.9h5v5h-5zM170.3 319.1h5v5h-5zM171.3 319.7h5v5h-5zM172.3 315.8h5v5h-5zM173.4 319.9h5v5h-5zM174.4 320.4h5v5h-5zM175.4 319.0h5v5h-5zM176.4 327.0h5v5h-5zM177.5 324.8h5v5h-5zM178.5 324.9h5v5h-5zM179.5 321.1h5v5h-5zM180.5 323.9h5v5h-5zM181.5 328.2h5v5h-5zM182.6 326.7h5v5h-5zM183.6 325.0h5v5h-5zM184.6 325.9h5v5h-5zM185.6 326.0h5v5h-5zM186.7 329.4h5v5h-5zM187.7 324.3h5v5h-5zM188.7 329.4h5v5h-5zM189.7 326.9h5v5h-5zM190.7 328.1h5v5h-5zM191.8 327.6h5v5h-5zM192.8 322.3h5v5h-5zM193.8 328.9h5v5h-5zM194.8 329.3h5v5h-5zM195.9 336.5h5v5h-5zM196.9 331.9h5v5h-5zM197.9 328.9h5v5h-5zM198.9 331.5h5v5h-5zM199.9 328.6h5v5h-5zM201.0 332.8h5v5h-5z" fill="#333" fill-opacity="0.22"/>
<path d="M147.8 312.7h5v5h-5zM148.8 314.8h5v5h-5zM149.9 312.5h5v5h-5zM150.9 317.2h5v5h-5zM151.9 313.7h5v5h-5zM152.9 318.5h5v5h-5zM154.0 319.8h5v5h-5zM155.0 313.9h5v5h-5zM156.0 322.4h5v5h-5zM157.0 321.3h5v5h-5zM158.0 313.2h5v5h-5zM159.1 318.3h5v5h-5zM160.1 318.0h5v5h-5zM161.1 318.8h5v5h-5zM162.1 320.0h5v5h-5zM163.2 313.7h5v5h-5zM164.2 320.4h5v5h-5zM165.2 316.1h5v5h-5zM166.2 321.2h5v5h-5zM167.2 323.7h5v5h-5zM168.3 322.7h5v5h-5zM169.3 321.9h5v5h-5zM170.3 314.0h5v5h-5zM171.3 324.7h5v5h-5zM172.3 321.6h5v5h-5zM173.4 328.4h5v5h-5zM174.4 321.6h5v5h-5zM175.4 324.0h5v5h-5zM176.4 322.3h5v5h-5zM177.5 323.4h5v5h-5zM178.5 325.3h5v5h-5zM179.5 323.7h5v5h-5zM180.5 324.0h5v5h-5zM181.5 320.7h5v5h-5zM182.6 324.4h5v5h-5zM183.6 324.7h5v5h-5zM184.6 328.7h5v5h-5zM185.6 321.6h5v5h-5zM186.7 325.2h5v5h-5zM187.7 327.7h5v5h-5zM188.7 321.2h5v5h-5zM189.7 322.6h5v5h-5zM190.7 326.2h5v5h-5zM191.8 326.4h5v5h-5zM192.8 331.4h5v5h-5zM193.8 335.2h5v5h-5zM194.8 327.5h5v5h-5zM195.9 333.3h5v5h-5zM196.9 326.9h5v5h-5zM197.9 330.9h5v5h-5zM198.9 329.7h5v5h-5zM199.9 333.0h5v5h-5zM201.0 330.5h5v5h-5z" fill="#333" fill-opacity="0.22"/>
<path d="M372.7 311.8h5v5h-5zM373.7 314.1h5v5h-5zM374.7 310.8h5v5h-5zM375.7 310.5h5v5h-5zM376.7 314.3h5v5h-5zM377.8 320.8h5v5h-5zM378.8 311.0h5v5h-5zM379.8 316.2h5v5h-5zM380.8 318.0h5v5h-5zM381.9 321.5h5v5h-5zM382.9 321.2h5v5h-5zM383.9 308.1h5v5h-5zM384.9 306.2h5v5h-5zM385.9 307.5h5v5h-5zM387.0 304.0h5v5h-5zM388.0 320.0h5v5h-5zM389.0 308.3h5v5h-5zM390.0 316.7h5v5h-5zM391.1 316.5h5v5h-5zM392.1 307.1h5v5h-5zM393.1 305.2h5v5h-5zM394.1 312.7h5v5h-5zM395.1 316.1h5v5h-5zM396.2 316.1h5v5h-5zM397.2 310.7h5v5h-5zM398.2 306.5h5v5h-5zM399.2 303.0h5v5h-5zM400.3 310.8h5v5h-5zM401.3 318.3h5v5h-5zM402.3 319.8h5v5h-5zM403.3 316.3h5v5h-5zM404.3 314.9h5v5h-5zM405.4 326.6h5v5h-5zM406.4 317.3h5v5h-5zM407.4 321.6h5v5h-5zM408.4 315.8h5v5h-5zM409.5 326.8h5v5h-5zM410.5 316.2h5v5h-5zM411.5 314.6h5v5h-5zM412.5 315.0h5v5h-5zM413.5 314.7h5v5h-5zM414.6 321.0h5v5h-5zM415.6 321.4h5v5h-5zM416.6 326.8h5v5h-5zM417.6 322.6h5v5h-5zM418.6 326.1h5v5h-5zM419.7 320.5h5v5h-5zM420.7 320.2h5v5h-5zM421.7 324.2h5v5h-5zM422.7 317.2h5v5h-5zM423.8 329.9h5v5h-5zM424.8 326.9h5v5h-5zM425.8 317.6h5v5h-5zM426.8 326.0h5v5h-5zM427.8 322.1h5v5h-5zM428.9 335.9h5v5h-5zM429.9 319.0h5v5h-5zM430.9 328.3h5v5h-5zM431.9 328.3h5v5h-5zM433.0 321.5h5v5h-5zM434.0 325.4h5v5h-5zM435.0 333.2h5v5h-5zM436.0 320.3h5v5h-5zM437.0 330.1h5v5h-5zM438.1 327.7h5v5h-5zM439.1 329.0h5v5h-5zM440.1 328.3h5v5h-5zM441.1 328.3h5v5h-5zM442.2 328.0h5v5h-5zM443.2 328.6h5v5h-5zM444.2 316.2h5v5h-5zM445.2 325.5h5v5h-5zM446.2 324.2h5v5h-5zM447.3 329.4h5v5h-5zM448.3 319.3h5v5h-5zM449.3 324.7h5v5h-5zM450.3 327.0h5v5h-5zM451.4 330.3h5v5h-5zM452.4 325.1h5v5h-5zM453.4 336.2h5v5h-5zM454.4 332.4h5v5h-5zM455.4 331.4h5v5h-5zM456.5 329.0h5v5h-5zM457.5 330.4h5v5h-5zM458.5 337.7h5v5h-5zM459.5 329.6h5v5h-5z" fill="#333" fill-opacity="0.22"/>
<path d="M372.7 317.2h5v5h-5zM373.7 316.9h5v5h-5zM374.7 313.6h5v5h-5zM375.7 315.2h5v5h-5zM376.7 315.7h5v5h-5zM377.8 315.5h5v5h-5zM378.8 311.0h5v5h-5zM379.8 313.7h5v5h-5zM380.8 312.9h5v5h-5zM381.9 316.6h5v5h-5zM382.9 309.0h5v5h-5zM383.9 313.3h5v5h-5zM384.9 317.0h5v5h-5zM385.9 308.7h5v5h-5zM387.0 318.5h5v5h-5zM388.0 315.1h5v5h-5zM389.0 308.2h5v5h-5zM390.0 312.8h5v5h-5zM391.1 311.7h5v5h-5zM392.1 311.4h5v5h-5zM393.1 309.2h5v5h-5zM394.1 307.0h5v5h-5zM395.1 306.7h5v5h-5zM396.2 312.4h5v5h-5zM397.2 312.0h5v5h-5zM398.2 318.5h5v5h-5zM399.2 313.6h5v5h-5zM400.3 310.8h5v5h-5zM401.3 313.9h5v5h-5zM402.3 310.4h5v5h-5zM403.3 317.8h5v5h-5zM404.3 316.6h5v5h-5zM405.4 314.5h5v5h-5zM406.4 323.3h5v5h-5zM407.4 313.3h5v5h-5zM408.4 325.2h5v5h-5zM409.5 321.0h5v5h-5zM410.5 327.9h5v5h-5zM411.5 321.8h5v5h-5zM412.5 325.1h5v5h-5zM413.5 317.2h5v5h-5zM414.6 330.0h5v5h-5zM415.6 319.9h5v5h-5zM416.6 320.6h5v5h-5zM417.6 320.1h5v5h-5zM418.6 318.6h5v5h-5zM419.7 319.6h5v5h-5zM420.7 327.2h5v5h-5zM421.7 321.1h5v5h-5zM422.7 327.1h5v5h-5zM423.8 327.1h5v5h-5zM424.8 325.8h5v5h-5zM425.8 326.9h5v5h-5zM426.8 327.5h5v5h-5zM427.8 320.8h5v5h-5zM428.9 324.9h5v5h-5zM429.9 333.2h5v5h-5zM430.9 328.7h5v5h-5zM431.9 327.6h5v5h-5zM433.0 316.2h5v5h-5zM434.0 324.7h5v5h-5zM435.0 328.1h5v5h-5zM436.0 324.1h5v5h-5zM437.0 335.7h5v5h-5zM438.1 319.8h5v5h-5zM439.1 327.7h5v5h-5zM440.1 330.4h5v5h-5zM441.1 323.1h5v5h-5zM442.2 329.8h5v5h-5zM443.2 331.2h5v5h-5zM444.2 323.3h5v5h-5zM445.2 318.5h5v5h-5zM446.2 328.2h5v5h-5zM447.3 327.1h5v5h-5zM448.3 327.4h5v5h-5zM449.3 325.2h5v5h-5zM450.3 329.2h5v5h-5zM451.4 327.4h5v5h-5zM452.4 331.7h5v5h-5zM453.4 329.5h5v5h-5zM454.4 326.1h5v5h-5zM455.4 336.3h5v5h-5zM456.5 327.5h5v5h-5zM457.5 323.9h5v5h-5zM458.5 334.4h5v5h-5zM459.5 333.6h5v5h-5z" fill="#333" fill-opacity="0.22"/>
<path d="M372.7 314.8h5v5h-5zM373.7 314.9h5v5h-5zM374.7 318.6h5v5h-5zM375.7 310.4h5v5h-5zM376.7 311.2h5v5h-5zM377.8 309.6h5v5h-5zM378.8 310.9h5v5h-5zM379.8 316.3h5v5h-5zM380.8 314.5h5v5h-5zM381.9 316.4h5v5h-5zM382.9 303.1h5v5h-5zM383.9 315.4h5v5h-5zM384.9 310.1h5v5h-5zM385.9 307.0h5v5h-5zM387.0 313.2h5v5h-5zM388.0 311.1h5v5h-5zM389.0 309.8h5v5h-5zM390.0 304.3h5v5h-5zM391.1 315.4h5v5h-5zM392.1 308.6h5v5h-5zM393.1 307.4h5v5h-5zM394.1 307.0h5v5h-5zM395.1 312.5h5v5h-5zM396.2 305.7h5v5h-5zM397.2 307.9h5v5h-5zM398.2 314.3h5v5h-5zM399.2 315.8h5v5h-5zM400.3 304.5h5v5h-5zM401.3 316.6h5v5h-5zM402.3 321.8h5v5h-5zM403.3 314.9h5v5h-5zM404.3 322.2h5v5h-5zM405.4 318.2h5v5h-5zM406.4 316.4h5v5h-5zM407.4 322.7h5v5h-5zM408.4 325.2h5v5h-5zM409.5 312.0h5v5h-5zM410.5 325.6h5v5h-5zM411.5 325.4h5v5h-5zM412.5 321.0h5v5h-5zM413.5 319.4h5v5h-5zM414.6 321.9h5v5h-5zM415.6 325.5h5v5h-5zM416.6 318.3h5v5h-5zM417.6 327.0h5v5h-5zM418.6 326.1h5v5h-5zM419.7 320.3h5v5h-5zM420.7 319.1h5v5h-5zM421.7 321.7h5v5h-5zM422.7 320.2h5v5h-5zM423.8 322.6h5v5h-5zM424.8 321.2h5v5h-5zM425.8 327.8h5v5h-5zM426.8 327.9h5v5h-5zM427.8 322.7h5v5h-5zM428.9 321.0h5v5h-5zM429.9 326.9h5v5h-5zM430.9 328.5h5v5h-5zM431.9 326.1h5v5h-5zM433.0 321.1h5v5h-5zM434.0 326.1h5v5h-5zM435.0 326.9h5v5h-5zM436.0 326.5h5v5h-5zM437.0 327.2h5v5h-5zM438.1 324.0h5v5h-5zM439.1 328.0h5v5h-5zM440.1 325.8h5v5h-5zM441.1 327.4h5v5h-5zM442.2 329.7h5v5h-5zM443.2 326.4h5v5h-5zM444.2 325.4h5v5h-5zM445.2 333.8h5v5h-5zM446.2 325.7h5v5h-5zM447.3 325.8h5v5h-5zM448.3 327.3h5v5h-5zM449.3 331.2h5v5h-5zM450.3 330.1h5v5h-5zM451.4 325.1h5v5h-5zM452.4 332.1h5v5h-5zM453.4 324.8h5v5h-5zM454.4 331.1h5v5h-5zM455.4 328.5h5v5h-5zM456.5 342.8h5v5h-5zM457.5 328.7h5v5h-5zM458.5 330.8h5v5h-5zM459.5 338.6h5v5h-5z" fill="#333" fill-opacity="0.22"/>
<path d="M372.7 311.1h5v5h-5zM373.7 316.7h5v5h-5zM374.7 318.9h5v5h-5zM375.7 308.1h5v5h-5zM376.7 308.0h5v5h-5zM377.8 309.5h5v5h-5zM378.8 310.3h5v5h-5zM379.8 309.1h5v5h-5zM380.8 321.0h5v5h-5zM381.9 314.4h5v5h-5zM382.9 308.0h5v5h-5zM383.9 311.4h5v5h-5zM384.9 313.2h5v5h-5zM385.9 314.2h5v5h-5zM387.0 314.0h5v5h-5zM388.0 315.2h5v5h-5zM389.0 311.9h5v5h-5zM390.0 322.6h5v5h-5zM391.1 306.0h5v5h-5zM392.1 309.7h5v5h-5zM393.1 321.1h5v5h-5zM394.1 308.8h5v5h-5zM395.1 308.3h5v5h-5zM396.2 310.0h5v5h-5zM397.2 307.0h5v5h-5zM398.2 306.9h5v5h-5zM399.2 309.0h5v5h-5zM400.3 319.7h5v5h-5zM401.3 322.9h5v5h-5zM402.3 318.5h5v5h-5zM403.3 312.9h5v5h-5zM404.3 325.4h5v5h-5zM405.4 320.2h5v5h-5zM406.4 320.9h5v5h-5zM407.4 319.5h5v5h-5zM408.4 326.0h5v5h-5zM409.5 317.4h5v5h-5zM410.5 321.3h5v5h-5zM411.5 316.8h5v5h-5zM412.5 320.3h5v5h-5zM413.5 321.3h5v5h-5zM414.6 317.3h5v5h-5zM415.6 316.4h5v5h-5zM416.6 320.0h5v5h-5zM417.6 325.3h5v5h-5zM418.6 321.2h5v5h-5zM419.7 318.6h5v5h-5zM420.7 320.0h5v5h-5zM421.7 316.8h5v5h-5zM422.7 319.0h5v5h-5zM423.8 325.7h5v5h-5zM424.8 315.6h5v5h-5zM425.8 321.8h5v5h-5zM426.8 322.0h5v5h-5zM427.8 324.1h5v5h-5zM428.9 330.1h5v5h-5zM429.9 333.4h5v5h-5zM430.9 322.5h5v5h-5zM431.9 321.2h5v5h-5zM433.0 318.5h5v5h-5zM434.0 329.1h5v5h-5zM435.0 326.1h5v5h-5zM436.0 327.9h5v5h-5zM437.0 323.2h5v5h-5zM438.1 329.2h5v5h-5zM439.1 329.6h5v5h-5zM440.1 332.4h5v5h-5zM441.1 327.1h5v5h-5zM442.2 322.3h5v5h-5zM443.2 331.5h5v5h-5zM444.2 328.3h5v5h-5zM445.2 320.7h5v5h-5zM446.2 329.9h5v5h-5zM447.3 335.3h5v5h-5zM448.3 330.7h5v5h-5zM449.3 323.5h5v5h-5zM450.3 327.2h5v5h-5zM451.4 331.7h5v5h-5zM452.4 331.1h5v5h-5zM453.4 323.7h5v5h-5zM454.4 335.1h5v5h-5zM455.4 324.1h5v5h-5zM456.5 332.1h5v5h-5zM457.5 328.5h5v5h-5zM458.5 335.9h5v5h-5zM459.5 335.6h5v5h-5z" fill="#333" fill-opacity="0.22"/>
<path d="M372.7 305.2h5v5h-5zM373.7 315.3h5v5h-5zM374.7 318.1h5v5h-5zM375.7 311.6h5v5h-5zM376.7 316.7h5v5h-5zM377.8 317.8h5v5h-5zM378.8 317.4h5v5h-5zM379.8 316.0h5v5h-5zM380.8 308.1h5v5h-5zM381.9 320.6h5v5h-5zM382.9 312.0h5v5h-5zM383.9 320.5h5v5h-5zM384.9 311.3h5v5h-5zM385.9 315.3h5v5h-5zM387.0 310.0h5v5h-5zM388.0 313.1h5v5h-5zM389.0 307.5h5v5h-5zM390.0 308.0h5v5h-5zM391.1 308.6h5v5h-5zM392.1 307.1h5v5h-5zM393.1 311.1h5v5h-5zM394.1 310.3h5v5h-5zM395.1 312.4h5v5h-5zM396.2 307.1h5v5h-5zM397.2 308.2h5v5h-5zM398.2 310.8h5v5h-5zM399.2 316.2h5v5h-5zM400.3 313.0h5v5h-5zM401.3 312.0h5v5h-5zM402.3 312.0h5v5h-5zM403.3 319.1h5v5h-5zM404.3 314.6h5v5h-5zM405.4 323.1h5v5h-5zM406.4 320.3h5v5h-5zM407.4 323.3h5v5h-5zM408.4 318.4h5v5h-5zM409.5 323.5h5v5h-5zM410.5 323.2h5v5h-5zM411.5 316.2h5v5h-5zM412.5 316.5h5v5h-5zM413.5 328.1h5v5h-5zM414.6 317.0h5v5h-5zM415.6 318.2h5v5h-5zM416.6 318.2h5v5h-5zM417.6 324.2h5v5h-5zM418.6 317.0h5v5h-5zM419.7 320.5h5v5h-5zM420.7 328.8h5v5h-5zM421.7 332.3h5v5h-5zM422.7 328.1h5v5h-5zM423.8 322.1h5v5h-5zM424.8 310.8h5v5h-5zM425.8 330.3h5v5h-5zM426.8 322.7h5v5h-5zM427.8 324.3h5v5h-5zM428.9 324.4h5v5h-5zM429.9 322.4h5v5h-5zM430.9 320.9h5v5h-5zM431.9 325.0h5v5h-5zM433.0 318.1h5v5h-5zM434.0 322.2h5v5h-5zM435.0 320.7h5v5h-5zM436.0 320.7h5v5h-5zM437.0 329.8h5v5h-5zM438.1 319.2h5v5h-5zM439.1 329.9h5v5h-5zM440.1 325.6h5v5h-5zM441.1 327.3h5v5h-5zM442.2 330.0h5v5h-5zM443.2 326.8h5v5h-5zM444.2 332.9h5v5h-5zM445.2 324.1h5v5h-5zM446.2 327.0h5v5h-5zM447.3 329.6h5v5h-5zM448.3 326.0h5v5h-5zM449.3 325.4h5v5h-5zM450.3 327.9h5v5h-5zM451.4 335.7h5v5h-5zM452.4 326.5h5v5h-5zM453.4 327.7h5v5h-5zM454.4 321.1h5v5h-5zM455.4 320.2h5v5h-5zM456.5 325.5h5v5h-5zM457.5 328.6h5v5h-5zM458.5 329.6h5v5h-5zM459.5 333.8h5v5h-5z" fill="#333" fill-opacity="0.22"/>
<path d="M372.7 316.8h5v5h-5zM373.7 318.1h5v5h-5zM374.7 317.0h5v5h-5zM375.7 317.4h5v5h-5zM376.7 308.5h5v5h-5zM377.8 306.5h5v5h-5zM378.8 325.7h5v5h-5zM379.8 313.8h5v5h-5zM380.8 322.6h5v5h-5zM381.9 319.8h5v5h-5zM382.9 314.6h5v5h-5zM383.9 315.0h5v5h-5zM384.9 300.7h5v5h-5zM385.9 312.8h5v5h-5zM387.0 316.4h5v5h-5zM388.0 318.5h5v5h-5zM389.0 309.4h5v5h-5zM390.0 314.3h5v5h-5zM391.1 312.0h5v5h-5zM392.1 315.6h5v5h-5zM393.1 304.3h5v5h-5zM394.1 306.9h5v5h-5zM395.1 304.3h5v5h-5zM396.2 311.8h5v5h-5zM397.2 309.5h5v5h-5zM398.2 311.7h5v5h-5zM399.2 315.7h5v5h-5zM400.3 310.2h5v5h-5zM401.3 321.6h5v5h-5zM402.3 318.0h5v5h-5zM403.3 322.0h5v5h-5zM404.3 317.3h5v5h-5zM405.4 324.3h5v5h-5zM406.4 319.2h5v5h-5zM407.4 322.6h5v5h-5zM408.4 321.3h5v5h-5zM409.5 321.6h5v5h-5zM410.5 312.0h5v5h-5zM411.5 324.6h5v5h-5zM412.5 315.6h5v5h-5zM413.5 322.8h5v5h-5zM414.6 309.1h5v5h-5zM415.6 320.9h5v5h-5zM416.6 317.8h5v5h-5zM417.6 328.2h5v5h-5zM418.6 316.4h5v5h-5zM419.7 323.4h5v5h-5zM420.7 326.5h5v5h-5zM421.7 323.3h5v5h-5zM422.7 317.0h5v5h-5zM423.8 326.7h5v5h-5zM424.8 323.6h5v5h-5zM425.8 319.8h5v5h-5zM426.8 320.4h5v5h-5zM427.8 329.1h5v5h-5zM428.9 331.6h5v5h-5zM429.9 321.0h5v5h-5zM430.9 323.1h5v5h-5zM431.9 322.1h5v5h-5zM433.0 321.2h5v5h-5zM434.0 325.3h5v5h-5zM435.0 322.8h5v5h-5zM436.0 328.2h5v5h-5zM437.0 326.9h5v5h-5zM438.1 325.4h5v5h-5zM439.1 328.7h5v5h-5zM440.1 327.1h5v5h-5zM441.1 319.4h5v5h-5zM442.2 326.8h5v5h-5zM443.2 323.0h5v5h-5zM444.2 325.4h5v5h-5zM445.2 331.9h5v5h-5zM446.2 323.6h5v5h-5zM447.3 334.6h5v5h-5zM448.3 325.1h5v5h-5zM449.3 327.3h5v5h-5zM450.3 331.0h5v5h-5zM451.4 325.0h5v5h-5zM452.4 330.3h5v5h-5zM453.4 320.7h5v5h-5zM454.4 337.0h5v5h-5zM455.4 324.0h5v5h-5zM456.5 326.3h5v5h-5zM457.5 329.0h5v5h-5zM458.5 336.6h5v5h-5zM459.5 337.3h5v5h-5z" fill="#333" fill-opacity="0.22"/>
<line x1="403.3" y1="309.7" x2="403.3" y2="297.6" stroke="#333" stroke-opacity="0.35" stroke-width="3.5"/>
<line x1="412.2" y1="319.1" x2="412.2" y2="308.8" stroke="#333" stroke-opacity="0.35" stroke-width="3.5"/>
<line x1="389.2" y1="316.7" x2="389.2" y2="333.1" stroke="#333" stroke-opacity="0.35" stroke-width="3.5"/>
<line x1="444.1" y1="326.1" x2="444.1" y2="316.7" stroke="#333" stroke-opacity="0.35" stroke-width="3.5"/>
<polyline points="89.0,335.9 90.0,335.0 91.0,334.2 92.1,333.3 93.1,332.4 94.1,331.5 95.1,330.7 96.2,329.8 97.2,328.9 98.2,328.1 99.2,327.2 100.2,326.3 101.3,325.5 102.3,324.6 103.3,323.7 104.3,322.9 105.4,322.0 106.4,321.1 107.4,320.3 108.4,319.4 109.4,318.5 110.5,317.7 111.5,316.8 112.5,315.9 113.5,315.0 114.6,314.2 115.6,313.3 116.6,312.4 117.6,311.6 118.6,310.7 119.7,309.8 120.7,309.0 121.7,308.1 122.7,307.2 123.7,306.4 124.8,305.5 125.3,305.1" fill="none" stroke="#161616" stroke-width="7.2" stroke-linejoin="round" stroke-linecap="round"/>
<polyline points="152.4,318.6 153.4,318.9 154.4,319.2 155.4,319.6 156.5,319.9 157.5,320.2 158.5,320.5 159.5,320.8 160.5,321.2 161.6,321.5 162.6,321.8 163.6,322.1 164.6,322.4 165.7,322.8 166.7,323.1 167.7,323.4 168.7,323.7 169.7,324.0 170.8,324.4 171.8,324.7 172.8,325.0 173.8,325.3 174.8,325.7 175.9,325.9 176.9,326.0 177.9,326.1 178.9,326.2 180.0,326.3 181.0,326.4 182.0,326.5 183.0,326.6 184.0,326.7 185.1,326.8 186.1,326.9 187.1,327.0 188.1,327.1 189.2,327.2 190.2,327.3 191.2,327.8 192.2,328.2 193.2,328.7 194.3,329.1 195.3,329.6 196.3,330.1 197.3,330.5 198.4,331.0 199.4,331.6 200.4,332.3 201.4,333.0 202.4,333.7 203.5,334.5 204.5,335.2 205.5,335.9 206.5,336.6 207.6,337.4 208.6,338.1 209.6,338.8 210.6,339.5 211.6,340.1 212.7,340.8 213.7,341.4 214.7,342.1 215.7,342.7 216.8,343.6 217.8,344.4 218.8,345.3 219.8,346.2 220.8,347.0 221.9,347.9 222.9,348.8 223.9,349.7 224.9,350.5 225.9,351.4 227.0,352.3 228.0,353.2 229.0,354.0 230.0,354.9 231.1,355.8 232.1,356.7 233.1,357.5 234.1,358.4 235.1,359.3 236.2,360.2 237.2,361.0 238.2,361.9 239.2,362.8 240.3,363.7 241.3,364.5 242.3,365.4 243.3,366.3 244.3,367.2 245.4,368.0 246.4,368.9 247.4,369.8 248.4,370.6 249.5,371.5 250.5,372.4 251.5,373.3 252.5,374.1 253.5,375.0 254.6,375.9 255.6,376.8 256.6,377.6 257.6,378.5 258.7,379.4 259.7,380.3 260.7,381.1 261.7,382.0 262.7,382.9 263.8,383.8 264.8,384.6 265.8,385.5 266.8,386.4 267.9,387.3 268.9,388.1 269.9,389.0 270.9,389.9 271.9,390.8 273.0,391.6 274.0,392.5 275.0,393.4 276.0,393.4 277.0,392.5 278.1,391.7 279.1,390.8 280.1,389.9 281.1,389.1 282.2,388.2 283.2,387.3 284.2,386.5 285.2,385.6 286.2,384.7 287.3,383.9 288.3,383.0 289.3,382.1 290.3,381.3 291.4,380.4 292.4,379.5 293.4,378.7 294.4,377.8 295.4,376.9 296.5,376.1 297.5,375.2 298.5,374.4 299.5,373.5 300.6,372.6 301.6,371.8 302.6,370.9 303.6,370.0 304.6,369.2 305.7,368.3 306.7,367.4 307.7,366.6 308.7,365.7 309.8,364.8 310.8,364.0 311.8,363.1 312.8,362.2 313.8,361.4 314.9,360.5 315.9,359.6 316.9,358.8 317.9,357.9 318.9,357.0 320.0,356.2 321.0,355.3 322.0,354.5 323.0,353.6 324.1,352.7 325.1,351.9 326.1,351.0 327.1,350.1 328.1,349.3 329.2,348.4 330.2,347.5 331.2,346.7 332.2,345.8 333.3,344.9 334.3,344.1 335.3,343.2 336.3,342.3 337.3,341.5 338.4,340.6 339.4,339.7 340.4,338.9 341.4,338.0 342.5,337.2 343.5,336.3 344.5,335.4 345.5,334.6 346.5,333.8 347.6,332.9 348.6,332.1 349.6,331.3 350.6,330.5 351.7,329.6 352.7,328.8 353.7,328.0 354.7,327.1 355.7,326.3 356.8,325.5 357.8,324.7 358.8,323.8 359.8,323.0 360.9,322.2 361.9,321.4 362.9,320.5 363.9,319.7 364.9,318.9 366.0,318.1 367.0,317.2 368.0,316.4 369.0,315.6 370.0,314.7 371.1,313.9 372.1,313.1 373.1,312.3 374.1,311.4 375.2,310.6 376.2,309.8 377.2,309.0 378.2,308.1 379.2,307.3 380.3,306.5 381.3,305.6 382.3,304.8 383.3,304.0 384.4,303.2 384.6,303.0" fill="none" stroke="#161616" stroke-width="7.2" stroke-linejoin="round" stroke-linecap="round"/>
<polyline points="377.7,316.3 378.7,316.3 379.8,316.3 380.8,316.3 381.8,316.3 382.8,316.3 383.8,316.3 384.9,316.3 385.9,316.3 386.9,316.3 387.9,316.0 389.0,315.4 390.0,314.8 391.0,314.3 392.0,313.7 393.0,313.1 394.1,312.6 395.1,312.0 396.1,311.4 397.1,311.5 398.2,311.8 399.2,312.2 400.2,312.5 401.2,313.3 402.2,314.6 403.3,315.9 404.3,317.1 405.3,318.4 406.3,319.7 407.4,320.3 408.4,320.8 409.4,321.2 410.4,321.6 411.4,322.0 412.5,322.5 413.5,322.9 414.5,323.2 415.5,323.5 416.6,323.8 417.6,324.1 418.6,324.4 419.6,324.7 420.6,325.0 421.7,325.3 422.7,325.6 423.7,325.9 424.7,326.2 425.7,326.5 426.8,326.8 427.8,327.1 428.8,327.3 429.8,327.5 430.9,327.6 431.9,327.7 432.9,327.8 433.9,327.9 434.9,328.0 436.0,328.1 437.0,328.2 438.0,328.3 439.0,328.4 440.1,328.6 441.1,328.7 442.1,328.8 443.1,328.9 444.1,328.9 445.2,329.0 446.2,329.0 447.2,329.1 448.2,329.2 449.3,329.2 450.3,329.3 451.3,329.3 452.3,329.6 453.3,330.1 454.4,330.6 455.4,331.1 456.4,331.7 457.4,332.2 458.5,332.7 459.5,333.2 460.5,333.7 461.5,334.2 462.5,335.0 463.6,335.9 464.6,336.9 465.6,337.9 466.6,338.8 467.7,339.8 468.7,340.8 469.7,341.7 470.7,342.6 471.7,343.5 472.8,344.3 473.8,345.2 474.8,346.1 475.8,347.0 476.8,347.8 477.9,348.7 478.9,349.6 479.9,350.4 480.9,351.3 482.0,352.2 483.0,353.0 484.0,353.9 485.0,354.8 486.0,355.6 487.1,356.5 488.1,357.4 489.1,358.2 490.1,359.1 491.2,360.0 492.2,360.8 493.2,361.7 494.2,362.6 495.2,363.4 496.3,364.3 497.3,365.2 498.3,366.0 499.3,366.9 500.4,367.8 501.4,368.6 502.4,369.5 503.4,370.4 504.4,371.3 505.5,372.1 506.5,373.0 507.5,373.9 508.5,374.7 509.6,375.6 510.6,376.5 511.6,377.3 512.6,378.2 513.6,379.1 514.7,379.9 515.7,380.8 516.7,381.7 517.7,382.5 518.8,383.4 519.8,384.3 520.8,385.1 521.8,386.0 522.8,386.9 523.9,387.7 524.9,388.6 525.9,389.5 526.9,390.3 527.9,391.2 529.0,392.1 530.0,392.9 531.0,393.8 532.0,393.0 533.1,392.1 534.1,391.3 535.1,390.4 536.1,389.6 537.1,388.7 538.2,387.9 539.2,387.1 540.2,386.2 541.2,385.4 542.3,384.5 543.3,383.7 544.3,382.8 545.3,382.0 546.3,381.1 547.4,380.3 548.4,379.5 549.4,378.6 550.4,377.8 551.5,376.9 552.5,376.1 553.5,375.2 554.5,374.4 555.5,373.6 556.6,372.7 557.6,371.9 558.6,371.0 559.6,370.2 560.7,369.3 561.7,368.5 562.7,367.6 563.7,366.8 564.7,366.0 565.8,365.1 566.8,364.3 567.8,363.4 568.8,362.6 569.9,361.7 570.9,360.9 571.9,360.0 572.9,359.2 573.9,358.4 575.0,357.5 576.0,356.7 577.0,355.8 578.0,355.0 579.0,354.1 580.1,353.3 581.1,352.4 582.1,351.6 583.1,350.8 584.2,349.9 585.2,349.1 586.2,348.2 587.2,347.4 588.2,346.5 589.3,345.7 590.3,344.8 591.3,344.0 592.3,343.2 593.4,342.3 594.4,341.5 595.4,340.6 596.4,339.8 597.4,338.9 598.5,338.1 599.5,337.2 600.0,336.8" fill="none" stroke="#161616" stroke-width="7.2" stroke-linejoin="round" stroke-linecap="round"/>
</g>
<line x1="89.00" y1="412.5" x2="89.00" y2="407.5" stroke="#262626" stroke-width="1.1"/>
<line x1="89.00" y1="249.0" x2="89.00" y2="254.0" stroke="#262626" stroke-width="1.1"/>
<line x1="216.75" y1="412.5" x2="216.75" y2="407.5" stroke="#262626" stroke-width="1.1"/>
<line x1="216.75" y1="249.0" x2="216.75" y2="254.0" stroke="#262626" stroke-width="1.1"/>
<line x1="344.50" y1="412.5" x2="344.50" y2="407.5" stroke="#262626" stroke-width="1.1"/>
<line x1="344.50" y1="249.0" x2="344.50" y2="254.0" stroke="#262626" stroke-width="1.1"/>
<line x1="472.25" y1="412.5" x2="472.25" y2="407.5" stroke="#262626" stroke-width="1.1"/>
<line x1="472.25" y1="249.0" x2="472.25" y2="254.0" stroke="#262626" stroke-width="1.1"/>
<line x1="600.00" y1="412.5" x2="600.00" y2="407.5" stroke="#262626" stroke-width="1.1"/>
<line x1="600.00" y1="249.0" x2="600.00" y2="254.0" stroke="#262626" stroke-width="1.1"/>
<line x1="89.3" y1="389.14" x2="94.0" y2="389.14" stroke="#262626" stroke-width="1.1"/>
<line x1="600.0" y1="389.14" x2="595.0" y2="389.14" stroke="#262626" stroke-width="1.1"/>
<line x1="89.3" y1="342.43" x2="94.0" y2="342.43" stroke="#262626" stroke-width="1.1"/>
<line x1="600.0" y1="342.43" x2="595.0" y2="342.43" stroke="#262626" stroke-width="1.1"/>
<line x1="89.3" y1="295.71" x2="94.0" y2="295.71" stroke="#262626" stroke-width="1.1"/>
<line x1="600.0" y1="295.71" x2="595.0" y2="295.71" stroke="#262626" stroke-width="1.1"/>
<line x1="89.3" y1="249.00" x2="94.0" y2="249.00" stroke="#262626" stroke-width="1.1"/>
<line x1="600.0" y1="249.00" x2="595.0" y2="249.00" stroke="#262626" stroke-width="1.1"/>
<polyline points="600.0,249.0 89.3,249.0 89.3,412.5" fill="none" stroke="#262626" stroke-width="1.2"/>
<line x1="89.3" y1="412.5" x2="600.0" y2="412.5" stroke="#262626" stroke-width="1.35"/>
<line x1="600.0" y1="248.4" x2="600.0" y2="413.1" stroke="#262626" stroke-width="1.6"/>
<text x="82.49" y="442.00" class="tk">0</text>
<text x="210.24" y="442.00" class="tk">5</text>
<path d="M640 0L815 0L815 1409L690 1409C670 1290 560 1190 380 1180L250 1175L250 1045L640 1045Z" transform="translate(331.17,442.00) scale(0.01196,-0.01196)" fill="#262626" stroke="#262626" stroke-width="25.1"/>
<text x="344.80" y="442.00" class="tk">0</text>
<path d="M640 0L815 0L815 1409L690 1409C670 1290 560 1190 380 1180L250 1175L250 1045L640 1045Z" transform="translate(458.92,442.00) scale(0.01196,-0.01196)" fill="#262626" stroke="#262626" stroke-width="25.1"/>
<text x="472.55" y="442.00" class="tk">5</text>
<text x="586.67" y="442.00" class="tk">2</text>
<text x="600.30" y="442.00" class="tk">0</text>
<text x="70.47" y="398.44" class="tk">0</text>
<path d="M640 0L815 0L815 1409L690 1409C670 1290 560 1190 380 1180L250 1175L250 1045L640 1045Z" transform="translate(70.47,351.73) scale(0.01196,-0.01196)" fill="#262626" stroke="#262626" stroke-width="25.1"/>
<text x="70.47" y="305.01" class="tk">2</text>
<text x="70.47" y="258.30" class="tk">3</text>
<text transform="translate(59.5,330.9) rotate(-90)" text-anchor="middle" class="lb">Error [V]</text>
<line x1="216.75" y1="476.5" x2="216.75" y2="640.0" stroke="#cccccc" stroke-width="1"/>
<line x1="344.50" y1="476.5" x2="344.50" y2="640.0" stroke="#cccccc" stroke-width="1"/>
<line x1="472.25" y1="476.5" x2="472.25" y2="640.0" stroke="#cccccc" stroke-width="1"/>
<line x1="89.0" y1="612.75" x2="600.0" y2="612.75" stroke="#cccccc" stroke-width="1"/>
<line x1="89.0" y1="585.50" x2="600.0" y2="585.50" stroke="#cccccc" stroke-width="1"/>
<line x1="89.0" y1="558.25" x2="600.0" y2="558.25" stroke="#cccccc" stroke-width="1"/>
<line x1="89.0" y1="531.00" x2="600.0" y2="531.00" stroke="#cccccc" stroke-width="1"/>
<line x1="89.0" y1="503.75" x2="600.0" y2="503.75" stroke="#cccccc" stroke-width="1"/>
<g clip-path="url(#c2)">
<path d="M90.5 615.2V640M93.4 615.2V640M96.3 615.2V640M99.0 615.2V640M102.0 615.2V640M104.7 615.2V640M107.6 615.2V640M110.4 615.2V640M113.1 615.2V640M116.1 615.2V640M119.1 615.2V640M121.8 615.2V640M124.7 615.2V640M127.3 615.2V640M130.1 615.2V640M133.2 615.2V640M136.3 615.2V640M139.3 615.2V640M142.4 615.2V640M145.1 615.2V640M147.8 615.2V640M150.6 615.2V640M153.3 615.2V640M156.1 615.2V640M159.0 615.2V640M162.1 615.2V640M165.2 615.2V640M168.4 615.2V640M171.1 615.2V640M174.2 615.2V640M177.1 615.2V640M179.8 615.2V640M182.7 615.2V640M185.3 615.2V640M188.4 615.2V640M191.5 615.2V640M194.1 615.2V640M197.1 615.2V640M199.8 615.2V640M202.4 615.2V640M205.1 615.2V640M208.3 615.2V640M211.4 615.2V640M214.0 615.2V640M216.6 615.2V640M219.4 615.2V640M223.6 615.2V640M227.4 615.2V640M231.2 615.2V640M236.3 615.2V640M240.8 615.2V640M246.5 615.2V640M252.4 615.2V640M257.7 615.2V640M263.5 615.2V640M269.6 615.2V640M276.1 615.2V640M282.6 615.2V640M289.1 615.2V640M295.5 615.2V640M302.2 615.2V640M307.9 615.2V640M313.1 615.2V640M318.5 615.2V640M323.0 615.2V640M327.3 615.2V640M332.3 615.2V640M336.4 615.2V640M340.4 615.2V640M343.6 615.2V640M347.1 615.2V640M349.7 615.2V640M352.6 615.2V640M355.6 615.2V640M358.5 615.2V640M361.5 615.2V640M364.1 615.2V640M367.1 615.2V640M369.8 615.2V640M372.7 615.2V640M375.5 615.2V640M378.3 615.2V640M381.0 615.2V640M384.0 615.2V640M386.9 615.2V640M389.7 615.2V640M392.7 615.2V640M395.4 615.2V640M398.4 615.2V640M401.1 615.2V640M404.2 615.2V640M407.2 615.2V640M410.0 615.2V640M413.1 615.2V640M415.8 615.2V640M418.7 615.2V640M421.7 615.2V640M424.4 615.2V640M427.4 615.2V640M430.5 615.2V640M433.1 615.2V640M436.1 615.2V640M438.9 615.2V640M441.7 615.2V640M444.8 615.2V640M447.4 615.2V640M450.5 615.2V640M453.3 615.2V640M456.4 615.2V640M459.4 615.2V640M462.4 615.2V640M466.0 615.2V640M469.5 615.2V640M473.2 615.2V640M476.9 615.2V640M480.5 615.2V640M484.9 615.2V640M489.2 615.2V640M494.3 615.2V640M498.6 615.2V640M504.3 615.2V640M510.0 615.2V640M516.3 615.2V640M522.9 615.2V640M529.8 615.2V640M536.3 615.2V640M548.5 615.2V640M554.1 615.2V640M559.7 615.2V640M565.5 615.2V640M570.9 615.2V640M575.8 615.2V640M581.2 615.2V640M585.8 615.2V640M589.9 615.2V640M133.7 615.2V640M134.7 615.2V640M135.8 615.2V640M147.3 615.2V640M148.3 615.2V640M149.3 615.2V640M590.3 615.2V640M593.4 615.2V640M596.4 615.2V640M599.2 615.2V640" stroke="#e3141c" stroke-width="1.5" fill="none"/>
<polyline points="115.8,598.8 117.4,598.8 117.4,600.0 118.9,600.0 118.9,586.6 120.4,586.6 120.4,610.5 122.0,610.5 122.0,592.6 123.5,592.6 123.5,609.6 125.0,609.6 125.0,581.8 126.6,581.8 126.6,588.9 128.1,588.9 128.1,579.1 129.6,579.1 129.6,594.0 131.2,594.0 131.2,586.2 132.7,586.2 132.7,591.3 134.2,591.3 134.2,594.6 135.8,594.6 135.8,586.9 137.3,586.9 137.3,597.9 138.8,597.9 138.8,590.0 140.4,590.0 140.4,580.9 141.9,580.9 141.9,585.7 143.4,585.7 143.4,589.1 145.0,589.1 145.0,567.3 146.5,567.3 146.5,584.3 148.0,584.3 148.0,589.1 149.6,589.1 149.6,582.5 151.1,582.5 151.1,587.6 152.6,587.6 152.6,586.0 154.2,586.0 154.2,585.3 155.7,585.3 155.7,565.4 157.2,565.4 157.2,581.3 158.8,581.3 158.8,579.6 160.3,579.6 160.3,575.0 161.8,575.0 161.8,563.7 163.4,563.7 163.4,581.6" fill="none" stroke="#3a3a3a" stroke-opacity="0.5" stroke-width="1.6"/>
<polyline points="115.8,594.2 117.4,594.2 117.4,570.4 118.9,570.4 118.9,604.0 120.4,604.0 120.4,594.7 122.0,594.7 122.0,586.0 123.5,586.0 123.5,572.5 125.0,572.5 125.0,598.6 126.6,598.6 126.6,610.4 128.1,610.4 128.1,584.8 129.6,584.8 129.6,594.2 131.2,594.2 131.2,592.6 132.7,592.6 132.7,585.2 134.2,585.2 134.2,586.7 135.8,586.7 135.8,585.7 137.3,585.7 137.3,591.1 138.8,591.1 138.8,576.6 140.4,576.6 140.4,574.3 141.9,574.3 141.9,585.9 143.4,585.9 143.4,589.4 145.0,589.4 145.0,579.2 146.5,579.2 146.5,580.9 148.0,580.9 148.0,592.8 149.6,592.8 149.6,587.6 151.1,587.6 151.1,574.8 152.6,574.8 152.6,583.7 154.2,583.7 154.2,585.1 155.7,585.1 155.7,580.2 157.2,580.2 157.2,581.7 158.8,581.7 158.8,581.0 160.3,581.0 160.3,596.3 161.8,596.3 161.8,565.9 163.4,565.9 163.4,578.1" fill="none" stroke="#3a3a3a" stroke-opacity="0.5" stroke-width="1.6"/>
<polyline points="115.8,596.3 117.4,596.3 117.4,582.6 118.9,582.6 118.9,589.5 120.4,589.5 120.4,591.6 122.0,591.6 122.0,582.9 123.5,582.9 123.5,572.6 125.0,572.6 125.0,586.3 126.6,586.3 126.6,577.6 128.1,577.6 128.1,572.6 129.6,572.6 129.6,598.3 131.2,598.3 131.2,593.7 132.7,593.7 132.7,582.7 134.2,582.7 134.2,602.5 135.8,602.5 135.8,590.2 137.3,590.2 137.3,577.0 138.8,577.0 138.8,578.6 140.4,578.6 140.4,581.9 141.9,581.9 141.9,601.7 143.4,601.7 143.4,566.5 145.0,566.5 145.0,580.7 146.5,580.7 146.5,578.5 148.0,578.5 148.0,580.2 149.6,580.2 149.6,597.8 151.1,597.8 151.1,595.1 152.6,595.1 152.6,592.8 154.2,592.8 154.2,566.7 155.7,566.7 155.7,588.7 157.2,588.7 157.2,583.4 158.8,583.4 158.8,583.1 160.3,583.1 160.3,575.9 161.8,575.9 161.8,576.1 163.4,576.1 163.4,577.6" fill="none" stroke="#3a3a3a" stroke-opacity="0.5" stroke-width="1.6"/>
<polyline points="115.8,599.4 117.4,599.4 117.4,616.2 118.9,616.2 118.9,590.7 120.4,590.7 120.4,589.5 122.0,589.5 122.0,581.4 123.5,581.4 123.5,592.0 125.0,592.0 125.0,595.8 126.6,595.8 126.6,587.2 128.1,587.2 128.1,602.9 129.6,602.9 129.6,598.4 131.2,598.4 131.2,597.7 132.7,597.7 132.7,586.6 134.2,586.6 134.2,571.4 135.8,571.4 135.8,581.8 137.3,581.8 137.3,578.2 138.8,578.2 138.8,585.2 140.4,585.2 140.4,584.4 141.9,584.4 141.9,589.8 143.4,589.8 143.4,588.0 145.0,588.0 145.0,605.1 146.5,605.1 146.5,594.6 148.0,594.6 148.0,594.8 149.6,594.8 149.6,577.0 151.1,577.0 151.1,577.9 152.6,577.9 152.6,573.5 154.2,573.5 154.2,569.7 155.7,569.7 155.7,584.4 157.2,584.4 157.2,572.8 158.8,572.8 158.8,565.0 160.3,565.0 160.3,580.6 161.8,580.6 161.8,571.3 163.4,571.3 163.4,581.1" fill="none" stroke="#3a3a3a" stroke-opacity="0.5" stroke-width="1.6"/>
<polyline points="115.8,602.3 117.4,602.3 117.4,589.6 118.9,589.6 118.9,598.8 120.4,598.8 120.4,590.8 122.0,590.8 122.0,595.2 123.5,595.2 123.5,588.5 125.0,588.5 125.0,608.3 126.6,608.3 126.6,573.5 128.1,573.5 128.1,579.1 129.6,579.1 129.6,592.8 131.2,592.8 131.2,596.9 132.7,596.9 132.7,589.0 134.2,589.0 134.2,583.0 135.8,583.0 135.8,584.6 137.3,584.6 137.3,584.3 138.8,584.3 138.8,603.2 140.4,603.2 140.4,595.9 141.9,595.9 141.9,575.2 143.4,575.2 143.4,583.7 145.0,583.7 145.0,597.7 146.5,597.7 146.5,591.9 148.0,591.9 148.0,596.1 149.6,596.1 149.6,592.2 151.1,592.2 151.1,573.7 152.6,573.7 152.6,584.7 154.2,584.7 154.2,573.2 155.7,573.2 155.7,580.4 157.2,580.4 157.2,593.9 158.8,593.9 158.8,586.4 160.3,586.4 160.3,561.6 161.8,561.6 161.8,586.5 163.4,586.5 163.4,588.5" fill="none" stroke="#3a3a3a" stroke-opacity="0.5" stroke-width="1.6"/>
<polyline points="115.8,578.9 117.4,578.9 117.4,589.8 118.9,589.8 118.9,592.1 120.4,592.1 120.4,579.5 122.0,579.5 122.0,606.1 123.5,606.1 123.5,587.7 125.0,587.7 125.0,599.6 126.6,599.6 126.6,602.2 128.1,602.2 128.1,597.0 129.6,597.0 129.6,580.3 131.2,580.3 131.2,590.6 132.7,590.6 132.7,604.3 134.2,604.3 134.2,597.8 135.8,597.8 135.8,575.3 137.3,575.3 137.3,579.0 138.8,579.0 138.8,596.2 140.4,596.2 140.4,566.4 141.9,566.4 141.9,589.2 143.4,589.2 143.4,595.7 145.0,595.7 145.0,586.4 146.5,586.4 146.5,576.9 148.0,576.9 148.0,570.8 149.6,570.8 149.6,575.2 151.1,575.2 151.1,586.9 152.6,586.9 152.6,587.6 154.2,587.6 154.2,594.6 155.7,594.6 155.7,582.5 157.2,582.5 157.2,586.4 158.8,586.4 158.8,578.9 160.3,578.9 160.3,591.1 161.8,591.1 161.8,584.5 163.4,584.5 163.4,587.1" fill="none" stroke="#3a3a3a" stroke-opacity="0.5" stroke-width="1.6"/>
<rect x="146.1" y="577.4" width="5.2" height="10.3" fill="#777" fill-opacity="0.4"/>
<rect x="123.6" y="598.3" width="4.3" height="17.8" fill="#777" fill-opacity="0.4"/>
<rect x="126.5" y="590.1" width="3.1" height="15.7" fill="#777" fill-opacity="0.4"/>
<rect x="126.8" y="596.7" width="3.2" height="11.6" fill="#777" fill-opacity="0.4"/>
<rect x="131.2" y="581.5" width="3.1" height="15.6" fill="#777" fill-opacity="0.4"/>
<rect x="134.3" y="577.7" width="4.8" height="17.1" fill="#777" fill-opacity="0.4"/>
<rect x="127.4" y="584.6" width="4.2" height="13.3" fill="#777" fill-opacity="0.4"/>
<rect x="135.7" y="582.8" width="3.3" height="20.0" fill="#777" fill-opacity="0.4"/>
<rect x="134.0" y="571.1" width="3.3" height="16.5" fill="#777" fill-opacity="0.4"/>
<polyline points="377.7,592.6 379.2,592.6 379.2,601.2 380.8,601.2 380.8,589.8 382.3,589.8 382.3,586.5 383.8,586.5 383.8,603.9 385.4,603.9 385.4,613.3 386.9,613.3 386.9,596.1 388.4,596.1 388.4,605.1 390.0,605.1 390.0,604.6 391.5,604.6 391.5,591.7 393.0,591.7 393.0,588.7 394.6,588.7 394.6,610.9 396.1,610.9 396.1,599.9 397.6,599.9 397.6,581.9 399.2,581.9 399.2,591.7 400.7,591.7 400.7,597.1 402.2,597.1 402.2,575.1 403.8,575.1 403.8,582.7 405.3,582.7 405.3,585.1 406.8,585.1 406.8,593.0 408.4,593.0 408.4,586.9 409.9,586.9 409.9,575.6 411.4,575.6 411.4,573.2 413.0,573.2 413.0,574.5" fill="none" stroke="#3a3a3a" stroke-opacity="0.5" stroke-width="1.6"/>
<polyline points="377.7,599.1 379.2,599.1 379.2,600.9 380.8,600.9 380.8,595.6 382.3,595.6 382.3,604.0 383.8,604.0 383.8,582.2 385.4,582.2 385.4,615.1 386.9,615.1 386.9,590.0 388.4,590.0 388.4,592.7 390.0,592.7 390.0,604.2 391.5,604.2 391.5,598.9 393.0,598.9 393.0,576.2 394.6,576.2 394.6,601.9 396.1,601.9 396.1,592.8 397.6,592.8 397.6,600.0 399.2,600.0 399.2,571.3 400.7,571.3 400.7,594.0 402.2,594.0 402.2,586.9 403.8,586.9 403.8,589.7 405.3,589.7 405.3,584.6 406.8,584.6 406.8,589.6 408.4,589.6 408.4,588.3 409.9,588.3 409.9,585.3 411.4,585.3 411.4,569.0 413.0,569.0 413.0,579.3" fill="none" stroke="#3a3a3a" stroke-opacity="0.5" stroke-width="1.6"/>
<polyline points="377.7,595.8 379.2,595.8 379.2,601.8 380.8,601.8 380.8,598.8 382.3,598.8 382.3,587.8 383.8,587.8 383.8,605.4 385.4,605.4 385.4,601.8 386.9,601.8 386.9,596.8 388.4,596.8 388.4,588.9 390.0,588.9 390.0,581.7 391.5,581.7 391.5,600.3 393.0,600.3 393.0,586.8 394.6,586.8 394.6,604.6 396.1,604.6 396.1,591.3 397.6,591.3 397.6,600.7 399.2,600.7 399.2,596.9 400.7,596.9 400.7,579.4 402.2,579.4 402.2,579.1 403.8,579.1 403.8,588.9 405.3,588.9 405.3,576.8 406.8,576.8 406.8,587.1 408.4,587.1 408.4,577.9 409.9,577.9 409.9,589.7 411.4,589.7 411.4,582.4 413.0,582.4 413.0,587.4" fill="none" stroke="#3a3a3a" stroke-opacity="0.5" stroke-width="1.6"/>
<polyline points="377.7,585.8 379.2,585.8 379.2,597.9 380.8,597.9 380.8,598.7 382.3,598.7 382.3,599.2 383.8,599.2 383.8,592.7 385.4,592.7 385.4,589.1 386.9,589.1 386.9,609.8 388.4,609.8 388.4,602.0 390.0,602.0 390.0,599.6 391.5,599.6 391.5,596.4 393.0,596.4 393.0,603.5 394.6,603.5 394.6,604.4 396.1,604.4 396.1,598.0 397.6,598.0 397.6,596.9 399.2,596.9 399.2,595.8 400.7,595.8 400.7,582.3 402.2,582.3 402.2,590.9 403.8,590.9 403.8,596.9 405.3,596.9 405.3,576.4 406.8,576.4 406.8,582.1 408.4,582.1 408.4,577.4 409.9,577.4 409.9,580.7 411.4,580.7 411.4,583.2 413.0,583.2 413.0,574.2" fill="none" stroke="#3a3a3a" stroke-opacity="0.5" stroke-width="1.6"/>
<polyline points="377.7,604.2 379.2,604.2 379.2,601.5 380.8,601.5 380.8,595.3 382.3,595.3 382.3,596.1 383.8,596.1 383.8,615.8 385.4,615.8 385.4,596.9 386.9,596.9 386.9,596.1 388.4,596.1 388.4,608.8 390.0,608.8 390.0,601.8 391.5,601.8 391.5,599.7 393.0,599.7 393.0,592.5 394.6,592.5 394.6,605.6 396.1,605.6 396.1,599.6 397.6,599.6 397.6,586.7 399.2,586.7 399.2,587.7 400.7,587.7 400.7,582.9 402.2,582.9 402.2,598.5 403.8,598.5 403.8,587.0 405.3,587.0 405.3,586.5 406.8,586.5 406.8,587.4 408.4,587.4 408.4,602.4 409.9,602.4 409.9,570.9 411.4,570.9 411.4,581.0 413.0,581.0 413.0,566.9" fill="none" stroke="#3a3a3a" stroke-opacity="0.5" stroke-width="1.6"/>
<rect x="385.6" y="592.2" width="4.9" height="21.4" fill="#777" fill-opacity="0.4"/>
<rect x="403.2" y="576.8" width="5.8" height="11.8" fill="#777" fill-opacity="0.4"/>
<rect x="399.6" y="579.1" width="4.2" height="11.9" fill="#777" fill-opacity="0.4"/>
<rect x="400.0" y="579.9" width="4.1" height="10.9" fill="#777" fill-opacity="0.4"/>
<rect x="379.8" y="590.3" width="4.7" height="18.9" fill="#777" fill-opacity="0.4"/>
<rect x="409.1" y="571.5" width="3.9" height="17.2" fill="#777" fill-opacity="0.4"/>
<rect x="395.2" y="582.2" width="5.8" height="14.5" fill="#777" fill-opacity="0.4"/>
<rect x="379.7" y="592.7" width="4.9" height="16.1" fill="#777" fill-opacity="0.4"/>
<rect x="410.3" y="580.5" width="4.7" height="17.5" fill="#777" fill-opacity="0.4"/>
<polyline points="152.9,577.1 154.4,579.4 155.9,578.9 157.5,579.3 159.0,579.4 160.5,578.3 162.1,579.3 163.6,580.2 165.1,580.2 166.7,580.3 168.2,577.1 169.7,576.1 171.3,573.6 172.8,575.4 174.3,575.5 175.9,574.4 177.4,575.3 178.9,578.5 180.5,572.5 182.0,575.0 183.5,573.3 185.1,573.9 186.6,567.3 188.1,570.4 189.7,571.4 191.2,574.0 192.7,569.7 194.3,572.8 195.8,568.4 197.3,573.3 198.9,569.2 200.4,566.0 201.9,568.3 203.5,565.1" fill="none" stroke="#2e2e2e" stroke-opacity="0.5" stroke-width="1.6"/>
<polyline points="152.9,580.1 154.4,582.4 155.9,579.6 157.5,576.4 159.0,583.0 160.5,581.3 162.1,578.3 163.6,580.2 165.1,581.1 166.7,575.3 168.2,575.8 169.7,575.1 171.3,574.8 172.8,575.1 174.3,577.8 175.9,580.5 177.4,574.4 178.9,577.2 180.5,574.5 182.0,573.5 183.5,576.4 185.1,574.2 186.6,569.7 188.1,571.2 189.7,575.6 191.2,572.4 192.7,571.6 194.3,570.1 195.8,569.3 197.3,570.6 198.9,569.7 200.4,566.2 201.9,569.6 203.5,563.2" fill="none" stroke="#2e2e2e" stroke-opacity="0.5" stroke-width="1.6"/>
<polyline points="152.9,582.5 154.4,582.2 155.9,580.1 157.5,583.0 159.0,584.3 160.5,578.4 162.1,575.9 163.6,578.8 165.1,578.0 166.7,577.7 168.2,579.3 169.7,576.2 171.3,575.0 172.8,576.1 174.3,574.0 175.9,577.5 177.4,574.6 178.9,576.2 180.5,575.3 182.0,573.4 183.5,573.3 185.1,571.5 186.6,571.5 188.1,574.8 189.7,569.5 191.2,574.8 192.7,571.5 194.3,570.4 195.8,570.7 197.3,569.2 198.9,568.9 200.4,569.7 201.9,564.9 203.5,565.4" fill="none" stroke="#2e2e2e" stroke-opacity="0.5" stroke-width="1.6"/>
<polyline points="152.9,584.7 154.4,584.4 155.9,583.2 157.5,584.5 159.0,582.6 160.5,582.8 162.1,579.0 163.6,582.4 165.1,578.8 166.7,581.1 168.2,578.4 169.7,575.7 171.3,580.6 172.8,579.2 174.3,580.8 175.9,580.1 177.4,579.4 178.9,577.7 180.5,575.7 182.0,575.4 183.5,577.7 185.1,576.1 186.6,578.9 188.1,574.5 189.7,575.7 191.2,577.0 192.7,575.9 194.3,573.0 195.8,573.5 197.3,572.1 198.9,573.0 200.4,570.6 201.9,570.1 203.5,571.4" fill="none" stroke="#2e2e2e" stroke-opacity="0.5" stroke-width="1.6"/>
<polyline points="152.9,583.4 154.4,584.0 155.9,580.7 157.5,577.6 159.0,578.5 160.5,580.7 162.1,582.7 163.6,580.4 165.1,580.9 166.7,579.0 168.2,576.6 169.7,578.6 171.3,580.9 172.8,575.2 174.3,577.3 175.9,574.4 177.4,578.3 178.9,571.4 180.5,578.2 182.0,575.2 183.5,573.5 185.1,579.7 186.6,575.9 188.1,577.1 189.7,570.3 191.2,571.9 192.7,574.7 194.3,575.8 195.8,575.5 197.3,571.4 198.9,572.0 200.4,568.5 201.9,569.0 203.5,570.0" fill="none" stroke="#2e2e2e" stroke-opacity="0.5" stroke-width="1.6"/>
<rect x="196.2" y="566.2" width="4" height="8" fill="#888" fill-opacity="0.35"/>
<rect x="168.8" y="573.0" width="4" height="8" fill="#888" fill-opacity="0.35"/>
<rect x="167.7" y="573.2" width="4" height="8" fill="#888" fill-opacity="0.35"/>
<rect x="184.2" y="569.1" width="4" height="8" fill="#888" fill-opacity="0.35"/>
<rect x="195.9" y="566.2" width="4" height="8" fill="#888" fill-opacity="0.35"/>
<polyline points="403.3,584.3 404.8,585.5 406.3,580.9 407.9,582.8 409.4,579.7 410.9,578.3 412.5,578.2 414.0,574.2 415.5,577.7 417.1,573.7 418.6,572.1 420.1,570.3 421.7,570.7 423.2,571.6 424.7,570.4 426.3,568.6 427.8,567.8 429.3,569.4 430.9,568.4 432.4,563.7 433.9,568.1 435.5,566.1 437.0,564.0 438.5,566.3 440.1,567.7 441.6,560.3 443.1,563.0 444.7,566.7 446.2,563.4 447.7,559.7 449.3,565.9 450.8,564.8 452.3,564.8 453.9,559.9 455.4,561.6 456.9,563.7 458.5,562.7 460.0,562.4 461.5,554.3" fill="none" stroke="#2e2e2e" stroke-opacity="0.5" stroke-width="1.6"/>
<polyline points="403.3,586.5 404.8,586.7 406.3,586.8 407.9,585.4 409.4,580.7 410.9,580.4 412.5,577.6 414.0,582.4 415.5,577.6 417.1,577.7 418.6,579.2 420.1,577.7 421.7,575.7 423.2,575.6 424.7,569.6 426.3,572.2 427.8,571.0 429.3,574.4 430.9,574.2 432.4,568.6 433.9,569.6 435.5,573.1 437.0,571.1 438.5,570.3 440.1,569.3 441.6,566.6 443.1,569.1 444.7,565.8 446.2,565.3 447.7,565.4 449.3,567.8 450.8,566.0 452.3,566.8 453.9,564.6 455.4,569.3 456.9,564.7 458.5,563.9 460.0,563.1 461.5,563.1" fill="none" stroke="#2e2e2e" stroke-opacity="0.5" stroke-width="1.6"/>
<polyline points="403.3,585.2 404.8,585.0 406.3,580.8 407.9,581.3 409.4,581.3 410.9,583.5 412.5,580.5 414.0,578.5 415.5,574.5 417.1,577.9 418.6,577.1 420.1,573.4 421.7,567.2 423.2,575.3 424.7,571.3 426.3,572.2 427.8,572.2 429.3,569.0 430.9,568.7 432.4,566.9 433.9,565.6 435.5,567.3 437.0,570.5 438.5,569.1 440.1,571.1 441.6,564.5 443.1,570.1 444.7,568.2 446.2,563.5 447.7,567.2 449.3,563.5 450.8,565.7 452.3,567.7 453.9,562.3 455.4,566.4 456.9,564.9 458.5,564.4 460.0,564.4 461.5,558.8" fill="none" stroke="#2e2e2e" stroke-opacity="0.5" stroke-width="1.6"/>
<polyline points="403.3,588.6 404.8,582.4 406.3,585.8 407.9,581.3 409.4,579.6 410.9,577.0 412.5,580.4 414.0,576.7 415.5,573.9 417.1,576.5 418.6,571.7 420.1,570.7 421.7,569.8 423.2,570.7 424.7,568.9 426.3,570.7 427.8,570.4 429.3,571.6 430.9,566.8 432.4,565.8 433.9,566.5 435.5,566.5 437.0,567.4 438.5,566.5 440.1,563.6 441.6,565.5 443.1,568.2 444.7,568.2 446.2,558.9 447.7,559.7 449.3,561.5 450.8,563.1 452.3,566.6 453.9,567.9 455.4,566.0 456.9,559.3 458.5,563.1 460.0,562.5 461.5,558.9" fill="none" stroke="#2e2e2e" stroke-opacity="0.5" stroke-width="1.6"/>
<polyline points="403.3,586.2 404.8,582.7 406.3,585.4 407.9,579.4 409.4,582.8 410.9,577.9 412.5,577.8 414.0,577.5 415.5,577.7 417.1,579.5 418.6,574.8 420.1,573.2 421.7,573.0 423.2,570.9 424.7,573.8 426.3,569.8 427.8,572.0 429.3,568.1 430.9,569.4 432.4,572.9 433.9,569.3 435.5,571.2 437.0,568.4 438.5,564.0 440.1,568.1 441.6,563.0 443.1,569.0 444.7,565.3 446.2,568.8 447.7,565.8 449.3,566.9 450.8,563.2 452.3,565.3 453.9,566.7 455.4,566.4 456.9,565.7 458.5,565.2 460.0,561.9 461.5,564.1" fill="none" stroke="#2e2e2e" stroke-opacity="0.5" stroke-width="1.6"/>
<rect x="413.5" y="574.1" width="4" height="8" fill="#888" fill-opacity="0.35"/>
<rect x="411.9" y="575.2" width="4" height="8" fill="#888" fill-opacity="0.35"/>
<rect x="451.6" y="561.2" width="4" height="8" fill="#888" fill-opacity="0.35"/>
<rect x="408.5" y="577.5" width="4" height="8" fill="#888" fill-opacity="0.35"/>
<rect x="449.9" y="561.4" width="4" height="8" fill="#888" fill-opacity="0.35"/>
<polyline points="89.0,563.7 89.0,568.5 94.1,568.5 94.1,573.4 99.2,573.4 99.2,578.2 104.3,578.2 104.3,583.1 109.4,583.1 109.4,587.9 114.5,587.9 114.5,591.9 119.7,591.9" fill="none" stroke="#555" stroke-opacity="0.6" stroke-width="4.2"/>
<polyline points="89.0,563.7 94.1,563.7 94.1,568.5 99.2,568.5 99.2,573.4 104.3,573.4 104.3,578.2 109.4,578.2 109.4,583.1 114.5,583.1 114.5,587.9 119.7,587.9 119.7,591.9" fill="none" stroke="#555" stroke-opacity="0.35" stroke-width="3.6"/>
<polyline points="89.0,563.7 90.3,564.9 91.6,566.1 92.8,567.3 94.1,568.5 95.4,569.8 96.7,571.0 97.9,572.2 99.2,573.4 100.5,574.6 101.8,575.8 103.1,577.0 104.3,578.2 105.6,579.4 106.9,580.7 108.2,581.9 109.4,583.1 110.7,584.3 112.0,585.5 113.3,586.7 114.6,587.9 115.8,589.1 117.1,590.3 118.4,591.6 119.7,591.9" fill="none" stroke="#262626" stroke-width="3.6" stroke-linejoin="round"/>
<polyline points="198.9,570.1 198.9,566.0 204.0,566.0 204.0,561.9 209.1,561.9 209.1,557.7 214.2,557.7 214.2,552.9 219.3,552.9 219.3,547.8 224.4,547.8 224.4,542.6 229.5,542.6 229.5,537.4 234.6,537.4 234.6,532.3 239.7,532.3 239.7,527.1 244.9,527.1 244.9,521.9 250.0,521.9 250.0,516.8 255.1,516.8 255.1,511.6 260.2,511.6 260.2,506.4 265.3,506.4 265.3,503.8 270.4,503.8 270.4,503.1 275.5,503.1 275.5,502.8 280.6,502.8 280.6,503.4 285.7,503.4 285.7,506.0 290.8,506.0 290.8,511.5 296.0,511.5 296.0,517.0 301.1,517.0 301.1,522.5 306.2,522.5 306.2,528.0 311.3,528.0 311.3,533.5 316.4,533.5 316.4,539.0 321.5,539.0 321.5,544.4 326.6,544.4 326.6,549.9 331.7,549.9 331.7,555.4 336.8,555.4 336.8,560.9 341.9,560.9 341.9,566.1 347.1,566.1 347.1,570.9 352.2,570.9 352.2,575.7 357.3,575.7 357.3,580.4 362.4,580.4 362.4,585.2 367.5,585.2 367.5,590.0 372.6,590.0 372.6,594.8 377.7,594.8 377.7,599.6 382.8,599.6 382.8,601.4 387.9,601.4" fill="none" stroke="#555" stroke-opacity="0.6" stroke-width="4.2"/>
<polyline points="198.9,570.1 204.0,570.1 204.0,566.0 209.1,566.0 209.1,561.9 214.2,561.9 214.2,557.7 219.3,557.7 219.3,552.9 224.4,552.9 224.4,547.8 229.5,547.8 229.5,542.6 234.6,542.6 234.6,537.4 239.7,537.4 239.7,532.3 244.9,532.3 244.9,527.1 250.0,527.1 250.0,521.9 255.1,521.9 255.1,516.8 260.2,516.8 260.2,511.6 265.3,511.6 265.3,506.4 270.4,506.4 270.4,503.8 275.5,503.8 275.5,503.1 280.6,503.1 280.6,502.8 285.7,502.8 285.7,503.4 290.8,503.4 290.8,506.0 296.0,506.0 296.0,511.5 301.1,511.5 301.1,517.0 306.2,517.0 306.2,522.5 311.3,522.5 311.3,528.0 316.4,528.0 316.4,533.5 321.5,533.5 321.5,539.0 326.6,539.0 326.6,544.4 331.7,544.4 331.7,549.9 336.8,549.9 336.8,555.4 341.9,555.4 341.9,560.9 347.1,560.9 347.1,566.1 352.2,566.1 352.2,570.9 357.3,570.9 357.3,575.7 362.4,575.7 362.4,580.4 367.5,580.4 367.5,585.2 372.6,585.2 372.6,590.0 377.7,590.0 377.7,594.8 382.8,594.8 382.8,599.6 387.9,599.6 387.9,601.4" fill="none" stroke="#555" stroke-opacity="0.35" stroke-width="3.6"/>
<polyline points="198.9,570.1 200.1,569.1 201.4,568.0 202.7,567.0 204.0,566.0 205.3,564.9 206.5,563.9 207.8,562.9 209.1,561.9 210.4,560.8 211.6,559.8 212.9,558.8 214.2,557.7 215.5,556.7 216.7,555.5 218.0,554.2 219.3,552.9 220.6,551.6 221.9,550.3 223.1,549.1 224.4,547.8 225.7,546.5 227.0,545.2 228.2,543.9 229.5,542.6 230.8,541.3 232.1,540.0 233.4,538.7 234.6,537.4 235.9,536.1 237.2,534.9 238.5,533.6 239.7,532.3 241.0,531.0 242.3,529.7 243.6,528.4 244.9,527.1 246.1,525.8 247.4,524.5 248.7,523.2 250.0,521.9 251.2,520.7 252.5,519.4 253.8,518.1 255.1,516.8 256.4,515.5 257.6,514.2 258.9,512.9 260.2,511.6 261.5,510.3 262.7,509.0 264.0,507.7 265.3,506.4 266.6,505.6 267.8,505.0 269.1,504.4 270.4,503.8 271.7,503.6 273.0,503.4 274.2,503.3 275.5,503.1 276.8,503.0 278.1,502.8 279.3,502.7 280.6,502.8 281.9,503.0 283.2,503.1 284.5,503.2 285.7,503.4 287.0,503.5 288.3,503.7 289.6,504.6 290.8,505.9 292.1,507.3 293.4,508.7 294.7,510.1 296.0,511.4 297.2,512.8 298.5,514.2 299.8,515.6 301.1,516.9 302.3,518.3 303.6,519.7 304.9,521.1 306.2,522.4 307.5,523.8 308.7,525.2 310.0,526.6 311.3,527.9 312.6,529.3 313.8,530.7 315.1,532.1 316.4,533.4 317.7,534.8 318.9,536.2 320.2,537.6 321.5,539.0 322.8,540.3 324.1,541.7 325.3,543.1 326.6,544.5 327.9,545.8 329.2,547.2 330.4,548.6 331.7,550.0 333.0,551.3 334.3,552.7 335.6,554.1 336.8,555.5 338.1,556.8 339.4,558.2 340.7,559.6 341.9,561.0 343.2,562.3 344.5,563.7 345.8,564.9 347.1,566.1 348.3,567.3 349.6,568.5 350.9,569.7 352.2,570.9 353.4,572.1 354.7,573.3 356.0,574.5 357.3,575.7 358.6,576.9 359.8,578.1 361.1,579.3 362.4,580.4 363.7,581.6 364.9,582.8 366.2,584.0 367.5,585.2 368.8,586.4 370.1,587.6 371.3,588.8 372.6,590.0 373.9,591.2 375.2,592.4 376.4,593.6 377.7,594.8 379.0,596.0 380.3,597.2 381.5,598.4 382.8,599.6 384.1,600.8 385.4,602.0 386.7,602.7 387.9,601.4" fill="none" stroke="#262626" stroke-width="3.6" stroke-linejoin="round"/>
<polyline points="456.9,565.9 456.9,562.2 462.0,562.2 462.0,558.6 467.1,558.6 467.1,555.0 472.2,555.0 472.2,549.9 477.4,549.9 477.4,544.8 482.5,544.8 482.5,539.7 487.6,539.7 487.6,534.6 492.7,534.6 492.7,529.5 497.8,529.5 497.8,524.3 502.9,524.3 502.9,519.2 508.0,519.2 508.0,514.1 513.1,514.1 513.1,509.0 518.2,509.0 518.2,505.1 523.3,505.1 523.3,503.4 528.5,503.4 528.5,502.6 533.6,502.6 533.6,502.9 538.7,502.9 538.7,503.5 543.8,503.5 543.8,507.1 548.9,507.1 548.9,512.6 554.0,512.6 554.0,518.2 559.1,518.2 559.1,523.7 564.2,523.7 564.2,529.2 569.3,529.2 569.3,534.8 574.4,534.8 574.4,540.3 579.6,540.3 579.6,545.9 584.7,545.9 584.7,551.4 589.8,551.4" fill="none" stroke="#555" stroke-opacity="0.6" stroke-width="4.2"/>
<polyline points="456.9,565.9 462.0,565.9 462.0,562.2 467.1,562.2 467.1,558.6 472.2,558.6 472.2,555.0 477.4,555.0 477.4,549.9 482.5,549.9 482.5,544.8 487.6,544.8 487.6,539.7 492.7,539.7 492.7,534.6 497.8,534.6 497.8,529.5 502.9,529.5 502.9,524.3 508.0,524.3 508.0,519.2 513.1,519.2 513.1,514.1 518.2,514.1 518.2,509.0 523.3,509.0 523.3,505.1 528.5,505.1 528.5,503.4 533.6,503.4 533.6,502.6 538.7,502.6 538.7,502.9 543.8,502.9 543.8,503.5 548.9,503.5 548.9,507.1 554.0,507.1 554.0,512.6 559.1,512.6 559.1,518.2 564.2,518.2 564.2,523.7 569.3,523.7 569.3,529.2 574.4,529.2 574.4,534.8 579.6,534.8 579.6,540.3 584.7,540.3 584.7,545.9 589.8,545.9 589.8,551.4" fill="none" stroke="#555" stroke-opacity="0.35" stroke-width="3.6"/>
<polyline points="456.9,565.9 458.2,565.0 459.5,564.1 460.8,563.2 462.0,562.2 463.3,561.3 464.6,560.4 465.9,559.5 467.1,558.6 468.4,557.7 469.7,556.8 471.0,555.9 472.3,555.0 473.5,553.7 474.8,552.4 476.1,551.2 477.4,549.9 478.6,548.6 479.9,547.3 481.2,546.0 482.5,544.8 483.7,543.5 485.0,542.2 486.3,540.9 487.6,539.7 488.9,538.4 490.1,537.1 491.4,535.8 492.7,534.6 494.0,533.3 495.2,532.0 496.5,530.7 497.8,529.5 499.1,528.2 500.4,526.9 501.6,525.6 502.9,524.3 504.2,523.1 505.5,521.8 506.7,520.5 508.0,519.2 509.3,518.0 510.6,516.7 511.9,515.4 513.1,514.1 514.4,512.9 515.7,511.6 517.0,510.3 518.2,509.0 519.5,507.8 520.8,506.5 522.1,505.8 523.4,505.1 524.6,504.4 525.9,503.7 527.2,503.6 528.5,503.4 529.7,503.2 531.0,503.0 532.3,502.8 533.6,502.6 534.8,502.4 536.1,502.5 537.4,502.7 538.7,502.9 540.0,503.0 541.2,503.2 542.5,503.3 543.8,503.5 545.1,503.7 546.3,504.3 547.6,505.7 548.9,507.1 550.2,508.5 551.5,509.8 552.7,511.2 554.0,512.6 555.3,514.0 556.6,515.4 557.8,516.8 559.1,518.2 560.4,519.5 561.7,520.9 563.0,522.3 564.2,523.7 565.5,525.1 566.8,526.5 568.1,527.9 569.3,529.2 570.6,530.6 571.9,532.0 573.2,533.4 574.5,534.8 575.7,536.2 577.0,537.5 578.3,538.9 579.6,540.3 580.8,541.7 582.1,543.1 583.4,544.5 584.7,545.9 585.9,547.2 587.2,548.6 588.5,550.0 589.8,551.4 591.1,552.8" fill="none" stroke="#262626" stroke-width="3.6" stroke-linejoin="round"/>
<rect x="586" y="552.8" width="12" height="87.2" fill="#777" fill-opacity="0.45"/>
<rect x="590.5" y="553.9" width="2" height="86.1" fill="#333" fill-opacity="0.5"/>
<rect x="594.5" y="558.2" width="2" height="81.8" fill="#333" fill-opacity="0.4"/>
<rect x="89.0" y="561.0" width="4" height="79.0" fill="#444" fill-opacity="0.65"/>
</g>
<line x1="89.00" y1="640.0" x2="89.00" y2="635.0" stroke="#262626" stroke-width="1.1"/>
<line x1="89.00" y1="476.5" x2="89.00" y2="481.5" stroke="#262626" stroke-width="1.1"/>
<line x1="216.75" y1="640.0" x2="216.75" y2="635.0" stroke="#262626" stroke-width="1.1"/>
<line x1="216.75" y1="476.5" x2="216.75" y2="481.5" stroke="#262626" stroke-width="1.1"/>
<line x1="344.50" y1="640.0" x2="344.50" y2="635.0" stroke="#262626" stroke-width="1.1"/>
<line x1="344.50" y1="476.5" x2="344.50" y2="481.5" stroke="#262626" stroke-width="1.1"/>
<line x1="472.25" y1="640.0" x2="472.25" y2="635.0" stroke="#262626" stroke-width="1.1"/>
<line x1="472.25" y1="476.5" x2="472.25" y2="481.5" stroke="#262626" stroke-width="1.1"/>
<line x1="600.00" y1="640.0" x2="600.00" y2="635.0" stroke="#262626" stroke-width="1.1"/>
<line x1="600.00" y1="476.5" x2="600.00" y2="481.5" stroke="#262626" stroke-width="1.1"/>
<line x1="89.3" y1="640.00" x2="94.0" y2="640.00" stroke="#262626" stroke-width="1.1"/>
<line x1="89.3" y1="612.75" x2="94.0" y2="612.75" stroke="#262626" stroke-width="1.1"/>
<line x1="89.3" y1="585.50" x2="94.0" y2="585.50" stroke="#262626" stroke-width="1.1"/>
<line x1="89.3" y1="558.25" x2="94.0" y2="558.25" stroke="#262626" stroke-width="1.1"/>
<line x1="89.3" y1="531.00" x2="94.0" y2="531.00" stroke="#262626" stroke-width="1.1"/>
<line x1="89.3" y1="503.75" x2="94.0" y2="503.75" stroke="#262626" stroke-width="1.1"/>
<line x1="89.3" y1="476.50" x2="94.0" y2="476.50" stroke="#262626" stroke-width="1.1"/>
<line x1="600.0" y1="616.00" x2="595.0" y2="616.00" stroke="#a2142f" stroke-width="1.1"/>
<line x1="600.0" y1="640.00" x2="595.0" y2="640.00" stroke="#a2142f" stroke-width="1.1"/>
<polyline points="600.0,476.5 89.3,476.5 89.3,640.0" fill="none" stroke="#262626" stroke-width="1.2"/>
<line x1="89.3" y1="640.0" x2="600.0" y2="640.0" stroke="#262626" stroke-width="1.35"/>
<line x1="600.0" y1="475.9" x2="600.0" y2="640.6" stroke="#fff" stroke-width="1.6"/>
<line x1="600.0" y1="475.9" x2="600.0" y2="640.6" stroke="#a2142f" stroke-opacity="0.78" stroke-width="1.6"/>
<line x1="90.0" y1="639.8" x2="599.5" y2="639.8" stroke="#e3141c" stroke-width="1.2"/>
<text x="82.49" y="669.50" class="tk">0</text>
<text x="210.24" y="669.50" class="tk">5</text>
<path d="M640 0L815 0L815 1409L690 1409C670 1290 560 1190 380 1180L250 1175L250 1045L640 1045Z" transform="translate(331.17,669.50) scale(0.01196,-0.01196)" fill="#262626" stroke="#262626" stroke-width="25.1"/>
<text x="344.80" y="669.50" class="tk">0</text>
<path d="M640 0L815 0L815 1409L690 1409C670 1290 560 1190 380 1180L250 1175L250 1045L640 1045Z" transform="translate(458.92,669.50) scale(0.01196,-0.01196)" fill="#262626" stroke="#262626" stroke-width="25.1"/>
<text x="472.55" y="669.50" class="tk">5</text>
<text x="586.67" y="669.50" class="tk">2</text>
<text x="600.30" y="669.50" class="tk">0</text>
<text x="70.47" y="649.30" class="tk">0</text>
<text x="56.85" y="622.05" class="tk">5</text>
<text x="70.47" y="622.05" class="tk">0</text>
<path d="M640 0L815 0L815 1409L690 1409C670 1290 560 1190 380 1180L250 1175L250 1045L640 1045Z" transform="translate(43.22,594.80) scale(0.01196,-0.01196)" fill="#262626" stroke="#262626" stroke-width="25.1"/>
<text x="56.85" y="594.80" class="tk">0</text>
<text x="70.47" y="594.80" class="tk">0</text>
<path d="M640 0L815 0L815 1409L690 1409C670 1290 560 1190 380 1180L250 1175L250 1045L640 1045Z" transform="translate(43.22,567.55) scale(0.01196,-0.01196)" fill="#262626" stroke="#262626" stroke-width="25.1"/>
<text x="56.85" y="567.55" class="tk">5</text>
<text x="70.47" y="567.55" class="tk">0</text>
<text x="43.22" y="540.30" class="tk">2</text>
<text x="56.85" y="540.30" class="tk">0</text>
<text x="70.47" y="540.30" class="tk">0</text>
<text x="43.22" y="513.05" class="tk">2</text>
<text x="56.85" y="513.05" class="tk">5</text>
<text x="70.47" y="513.05" class="tk">0</text>
<text x="43.22" y="485.80" class="tk">3</text>
<text x="56.85" y="485.80" class="tk">0</text>
<text x="70.47" y="485.80" class="tk">0</text>
<text x="604.50" y="625.30" class="tk" style="fill:#a2142f;stroke:#a2142f">3</text>
<text x="604.50" y="649.30" class="tk" style="fill:#a2142f;stroke:#a2142f">0</text>
<text transform="translate(32,558) rotate(-90)" text-anchor="middle" class="lb">Delay [ms]</text>
<text transform="translate(659,559) rotate(-90)" text-anchor="middle" class="lb" style="fill:#a2142f;stroke:#a2142f">Amplitude [V]</text>
<line x1="216.75" y1="703.8" x2="216.75" y2="867.5" stroke="#cccccc" stroke-width="1"/>
<line x1="344.50" y1="703.8" x2="344.50" y2="867.5" stroke="#cccccc" stroke-width="1"/>
<line x1="472.25" y1="703.8" x2="472.25" y2="867.5" stroke="#cccccc" stroke-width="1"/>
<line x1="89.0" y1="840.22" x2="600.0" y2="840.22" stroke="#cccccc" stroke-width="1"/>
<line x1="89.0" y1="812.93" x2="600.0" y2="812.93" stroke="#cccccc" stroke-width="1"/>
<line x1="89.0" y1="785.65" x2="600.0" y2="785.65" stroke="#cccccc" stroke-width="1"/>
<line x1="89.0" y1="758.37" x2="600.0" y2="758.37" stroke="#cccccc" stroke-width="1"/>
<line x1="89.0" y1="731.08" x2="600.0" y2="731.08" stroke="#cccccc" stroke-width="1"/>
<g clip-path="url(#c3)">
<polygon points="89.0,830.2 90.3,828.2 91.6,826.3 92.8,824.3 94.1,822.3 95.4,820.4 96.7,818.4 97.9,816.4 99.2,813.7 100.5,810.3 101.8,807.0 103.1,803.6 104.3,800.2 105.6,796.9 106.9,793.5 108.2,790.2 109.4,786.0 110.7,781.7 112.0,777.5 113.3,773.2 114.5,769.0 115.8,764.7 117.1,761.0 118.4,757.3 119.7,753.6 120.9,749.9 122.2,746.2 123.5,742.7 124.8,739.1 126.0,735.6 127.3,732.0 128.6,729.0 129.9,725.9 131.2,722.9 132.4,719.9 133.7,716.8 135.0,713.8 136.3,712.1 137.5,712.4 138.8,712.7 140.1,713.0 141.4,713.3 142.7,713.6 143.9,713.9 145.2,714.2 146.5,714.4 147.8,714.7 149.0,715.0 150.3,715.2 151.6,715.5 152.9,716.0 154.2,716.7 155.4,717.4 156.7,718.1 158.0,718.8 159.3,719.5 160.5,720.2 161.8,720.9 163.1,721.6 164.4,722.3 165.7,723.1 166.9,724.1 168.2,725.0 169.5,726.0 170.8,727.0 172.0,727.9 173.3,728.9 174.6,729.9 175.9,730.9 177.1,731.8 178.4,732.8 179.7,733.8 181.0,734.7 182.3,735.7 183.5,736.7 184.8,737.5 186.1,737.8 187.4,738.0 188.6,738.3 189.9,738.5 191.2,738.8 192.5,739.1 193.8,739.5 195.0,740.4 196.3,741.3 197.6,742.2 198.9,743.1 200.1,744.0 201.4,744.9 202.7,745.8 204.0,746.7 205.3,747.6 206.5,748.5 207.8,749.4 209.1,750.3 210.4,751.2 211.6,752.1 212.9,753.0 214.2,753.9 215.5,754.7 216.8,755.6 218.0,757.2 219.3,758.8 220.6,760.5 221.9,762.1 223.1,763.7 224.4,765.3 225.7,766.9 227.0,768.5 228.2,770.1 229.5,771.7 230.8,773.3 232.1,774.9 233.4,776.5 234.6,778.0 235.9,779.5 237.2,781.0 238.5,782.4 239.7,783.9 241.0,785.3 242.3,786.8 243.6,788.2 244.9,789.7 246.1,791.1 247.4,792.6 248.7,794.1 250.0,795.5 251.2,797.0 252.5,798.4 253.8,799.7 255.1,800.8 256.4,801.9 257.6,803.0 258.9,804.1 260.2,805.2 261.5,806.3 262.7,807.4 264.0,808.5 265.3,809.6 266.6,810.6 267.9,811.7 269.1,812.8 270.4,813.9 271.7,815.0 273.0,815.9 274.2,816.6 275.5,817.3 276.8,817.9 278.1,818.6 279.3,819.3 280.6,819.9 281.9,820.6 283.2,821.3 284.5,821.9 285.7,822.6 287.0,823.3 288.3,823.9 289.6,824.6 290.8,825.3 292.1,825.7 293.4,825.8 294.7,826.0 296.0,826.1 297.2,826.2 298.5,826.3 299.8,826.4 301.1,826.6 302.3,826.7 303.6,826.8 304.9,826.9 306.2,827.0 307.5,827.2 308.7,827.3 310.0,827.4 311.3,827.5 312.6,827.5 313.8,827.5 315.1,827.5 316.4,827.5 317.7,827.5 318.9,827.5 320.2,827.5 321.5,827.5 322.8,827.5 324.1,827.5 325.3,827.5 326.6,827.5 327.9,827.5 329.2,827.5 330.4,827.1 331.7,826.2 333.0,825.3 334.3,824.4 335.6,823.5 336.8,822.6 338.1,821.7 339.4,820.8 340.7,819.8 341.9,819.0 343.2,818.2 344.5,817.5 345.8,814.6 347.1,811.7 348.3,808.9 349.6,806.0 350.9,803.1 352.2,800.2 353.4,797.4 354.7,794.2 356.0,790.5 357.3,786.7 358.6,783.0 359.8,779.3 361.1,775.6 362.4,771.9 363.7,768.2 364.9,764.5 366.2,760.8 367.5,757.2 368.8,753.6 370.1,750.1 371.3,746.6 372.6,743.1 373.9,739.6 375.2,736.9 376.4,735.6 377.7,734.3 379.0,732.9 380.3,731.6 381.5,730.3 382.8,728.9 384.1,727.6 385.4,726.4 386.7,726.0 387.9,725.5 389.2,725.0 390.5,724.6 391.8,724.1 393.0,723.6 394.3,723.2 395.6,722.6 396.9,721.8 398.2,721.1 399.4,720.3 400.7,719.6 402.0,718.8 403.3,718.0 404.5,717.3 405.8,716.5 407.1,715.8 408.4,715.3 409.7,714.9 410.9,714.6 412.2,714.2 413.5,713.8 414.8,714.6 416.0,715.3 417.3,716.1 418.6,716.8 419.9,717.6 421.1,718.4 422.4,719.1 423.7,719.9 425.0,720.6 426.3,721.3 427.5,721.9 428.8,722.4 430.1,723.0 431.4,723.6 432.6,724.1 433.9,724.7 435.2,725.3 436.5,725.9 437.8,726.4 439.0,727.0 440.3,727.6 441.6,728.1 442.9,728.8 444.1,729.6 445.4,730.4 446.7,731.2 448.0,732.0 449.3,732.8 450.5,733.6 451.8,734.4 453.1,735.2 454.4,736.0 455.6,736.8 456.9,737.6 458.2,738.4 459.5,739.2 460.8,740.0 462.0,740.8 463.3,741.8 464.6,743.0 465.9,744.2 467.1,745.5 468.4,746.7 469.7,747.9 471.0,748.9 472.2,749.9 473.5,750.9 474.8,751.8 476.1,752.8 477.4,753.7 478.6,754.7 479.9,755.6 481.2,757.1 482.5,758.6 483.7,760.1 485.0,761.5 486.3,763.0 487.6,764.5 488.9,766.0 490.1,767.4 491.4,768.7 492.7,770.0 494.0,771.4 495.2,772.7 496.5,774.0 497.8,775.4 499.1,776.7 500.4,778.0 501.6,779.4 502.9,780.7 504.2,782.0 505.5,783.4 506.7,784.7 508.0,786.0 509.3,787.3 510.6,788.5 511.9,789.7 513.1,790.9 514.4,792.1 515.7,793.3 517.0,794.6 518.2,795.8 519.5,797.0 520.8,798.2 522.1,799.4 523.4,800.6 524.6,801.8 525.9,803.1 527.2,804.3 528.5,805.1 529.7,805.7 531.0,806.3 532.3,806.9 533.6,807.5 534.8,808.1 536.1,808.7 537.4,809.4 538.7,810.0 540.0,810.6 541.2,811.2 542.5,811.8 543.8,812.4 545.1,813.0 546.3,813.6 547.6,814.0 548.9,814.3 550.2,814.6 551.5,814.8 552.7,815.1 554.0,815.4 555.3,815.7 556.6,816.0 557.8,816.2 559.1,816.5 560.4,816.8 561.7,817.1 563.0,817.4 564.2,817.6 565.5,817.9 566.8,818.0 568.1,818.0 569.3,818.0 570.6,818.0 571.9,818.0 573.2,818.0 574.5,818.0 575.7,818.0 577.0,818.0 578.3,818.0 579.6,818.0 580.8,818.0 582.1,818.0 583.4,818.0 584.7,818.0 585.9,818.2 587.2,818.5 588.5,818.7 589.8,819.0 591.1,819.3 592.3,819.5 593.6,819.8 594.9,820.1 596.2,820.3 597.4,820.6 598.7,820.9 600.0,821.1 600.0,862.2 598.7,862.2 597.4,862.2 596.2,862.2 594.9,862.2 593.6,862.2 592.3,862.2 591.1,862.2 589.8,862.2 588.5,862.2 587.2,862.2 585.9,862.2 584.7,862.2 583.4,862.2 582.1,862.2 580.8,862.2 579.6,862.2 578.3,862.2 577.0,862.2 575.7,862.2 574.5,862.2 573.2,862.2 571.9,862.2 570.6,862.2 569.3,862.2 568.1,862.2 566.8,862.2 565.5,862.2 564.2,862.1 563.0,861.9 561.7,861.8 560.4,861.7 559.1,861.6 557.8,861.4 556.6,861.3 555.3,861.2 554.0,861.1 552.7,861.0 551.5,860.8 550.2,860.7 548.9,860.6 547.6,860.5 546.3,860.3 545.1,859.9 543.8,859.5 542.5,859.1 541.2,858.7 540.0,858.3 538.7,857.9 537.4,857.5 536.1,857.1 534.8,856.8 533.6,856.4 532.3,856.0 531.0,855.6 529.7,855.2 528.5,854.8 527.2,854.0 525.9,852.7 524.6,851.3 523.4,849.9 522.1,848.5 520.8,847.1 519.5,845.7 518.2,844.4 517.0,843.0 515.7,841.6 514.4,840.2 513.1,838.8 511.9,837.4 510.6,836.1 509.3,834.7 508.0,833.2 506.7,831.6 505.5,830.1 504.2,828.5 502.9,826.9 501.6,825.3 500.4,823.8 499.1,822.2 497.8,820.6 496.5,819.0 495.2,817.5 494.0,815.9 492.7,814.3 491.4,812.7 490.1,811.2 488.9,809.5 487.6,807.8 486.3,806.1 485.0,804.4 483.7,802.6 482.5,800.9 481.2,799.2 479.9,797.5 478.6,795.3 477.4,793.2 476.1,791.0 474.8,788.9 473.5,786.7 472.2,784.5 471.0,782.4 469.7,780.0 468.4,777.3 467.1,774.6 465.9,771.8 464.6,769.1 463.3,766.4 462.0,764.3 460.8,763.1 459.5,762.0 458.2,760.9 456.9,759.7 455.6,758.6 454.4,757.5 453.1,756.3 451.8,755.2 450.5,754.0 449.3,752.9 448.0,751.8 446.7,750.6 445.4,749.5 444.1,748.4 442.9,747.2 441.6,746.2 440.3,745.4 439.0,744.5 437.8,743.6 436.5,742.8 435.2,741.9 433.9,741.1 432.6,740.2 431.4,739.4 430.1,738.5 428.8,737.7 427.5,736.8 426.3,736.0 425.0,735.1 423.7,734.1 422.4,733.2 421.1,732.2 419.9,731.3 418.6,730.3 417.3,729.4 416.0,728.4 414.8,727.5 413.5,726.5 412.2,726.9 410.9,727.3 409.7,727.7 408.4,728.1 407.1,728.7 405.8,730.2 404.5,731.7 403.3,733.2 402.0,734.7 400.7,736.2 399.4,737.8 398.2,739.3 396.9,740.8 395.6,742.3 394.3,743.9 393.0,745.5 391.8,747.2 390.5,748.8 389.2,750.4 387.9,752.0 386.7,753.7 385.4,755.3 384.1,757.9 382.8,760.8 381.5,763.7 380.3,766.6 379.0,769.5 377.7,772.4 376.4,775.2 375.2,778.1 373.9,781.7 372.6,785.9 371.3,790.0 370.1,794.1 368.8,798.2 367.5,802.3 366.2,805.6 364.9,807.9 363.7,810.1 362.4,812.3 361.1,814.5 359.8,816.8 358.6,819.0 357.3,821.2 356.0,823.5 354.7,825.7 353.4,828.4 352.2,831.6 350.9,834.7 349.6,837.8 348.3,840.9 347.1,844.0 345.8,847.1 344.5,850.2 343.2,853.3 341.9,856.3 340.7,857.9 339.4,858.7 338.1,859.4 336.8,860.2 335.6,860.9 334.3,861.7 333.0,862.4 331.7,863.2 330.4,863.9 329.2,864.2 327.9,864.2 326.6,864.2 325.3,864.2 324.1,864.2 322.8,864.2 321.5,864.2 320.2,864.2 318.9,864.2 317.7,864.2 316.4,864.2 315.1,864.2 313.8,864.2 312.6,864.2 311.3,864.2 310.0,864.2 308.7,864.2 307.5,864.2 306.2,864.2 304.9,864.2 303.6,864.2 302.3,864.2 301.1,864.2 299.8,864.2 298.5,864.2 297.2,864.2 296.0,864.2 294.7,864.2 293.4,864.2 292.1,864.2 290.8,864.1 289.6,863.8 288.3,863.5 287.0,863.3 285.7,863.0 284.5,862.7 283.2,862.5 281.9,862.2 280.6,861.9 279.3,861.7 278.1,861.4 276.8,861.1 275.5,860.9 274.2,860.6 273.0,860.3 271.7,859.8 270.4,859.2 269.1,858.5 267.9,857.8 266.6,857.2 265.3,856.5 264.0,855.8 262.7,855.2 261.5,854.5 260.2,853.8 258.9,853.2 257.6,852.5 256.4,851.8 255.1,851.2 253.8,850.5 252.5,849.1 251.2,847.3 250.0,845.5 248.7,843.7 247.4,841.9 246.1,840.0 244.9,838.2 243.6,836.4 242.3,834.6 241.0,832.8 239.7,830.9 238.5,829.1 237.2,827.3 235.9,825.5 234.6,823.7 233.4,821.9 232.1,820.2 230.8,818.4 229.5,816.7 228.2,814.9 227.0,813.2 225.7,811.5 224.4,809.7 223.1,808.0 221.9,806.2 220.6,804.5 219.3,802.8 218.0,801.0 216.8,799.3 215.5,797.3 214.2,795.4 212.9,793.4 211.6,791.4 210.4,789.5 209.1,787.5 207.8,785.6 206.5,783.6 205.3,781.6 204.0,779.7 202.7,778.4 201.4,777.2 200.1,776.1 198.9,775.0 197.6,773.8 196.3,772.7 195.0,771.6 193.8,770.4 192.5,769.2 191.2,767.9 189.9,766.6 188.6,765.3 187.4,764.0 186.1,762.7 184.8,761.4 183.5,760.5 182.3,759.8 181.0,759.1 179.7,758.3 178.4,757.6 177.1,756.9 175.9,756.1 174.6,755.4 173.3,754.7 172.0,754.0 170.8,753.2 169.5,752.5 168.2,751.8 166.9,751.1 165.7,750.3 164.4,749.2 163.1,748.0 161.8,746.8 160.5,745.5 159.3,744.3 158.0,743.1 156.7,741.9 155.4,740.6 154.2,739.4 152.9,738.2 151.6,737.1 150.3,736.3 149.0,735.5 147.8,734.7 146.5,733.9 145.2,733.1 143.9,732.3 142.7,732.0 141.4,732.0 140.1,732.0 138.8,732.0 137.5,732.0 136.3,732.0 135.0,733.5 133.7,736.0 132.4,738.4 131.2,740.9 129.9,743.4 128.6,745.9 127.3,748.4 126.0,751.5 124.8,754.7 123.5,757.9 122.2,761.0 120.9,764.6 119.7,768.7 118.4,772.8 117.1,777.0 115.8,781.1 114.5,786.0 113.3,790.8 112.0,795.7 110.7,800.5 109.4,805.4 108.2,810.2 106.9,813.3 105.6,816.4 104.3,819.5 103.1,822.7 101.8,825.8 100.5,828.9 99.2,832.0 97.9,834.8 96.7,837.3 95.4,839.7 94.1,842.2 92.8,844.7 91.6,847.1 90.3,849.6 89.0,852.0" fill="#000" fill-opacity="0.16"/>
<polyline points="89.0,841.1 90.3,838.9 91.6,836.7 92.8,834.5 94.1,832.3 95.4,830.1 96.7,827.9 97.9,825.6 99.2,822.8 100.5,819.6 101.8,816.4 103.1,813.1 104.3,809.9 105.6,806.7 106.9,803.4 108.2,800.2 109.4,795.7 110.7,791.1 112.0,786.6 113.3,782.0 114.5,777.5 115.8,772.9 117.1,769.0 118.4,765.1 119.7,761.1 120.9,757.2 122.2,753.6 123.5,750.3 124.8,746.9 126.0,743.5 127.3,740.2 128.6,737.4 129.9,734.7 131.2,731.9 132.4,729.2 133.7,726.4 135.0,723.6 136.3,722.0 137.5,722.2 138.8,722.4 140.1,722.5 141.4,722.7 142.7,722.8 143.9,723.1 145.2,723.6 146.5,724.2 147.8,724.7 149.0,725.3 150.3,725.8 151.6,726.3 152.9,727.1 154.2,728.1 155.4,729.0 156.7,730.0 158.0,731.0 159.3,731.9 160.5,732.9 161.8,733.8 163.1,734.8 164.4,735.8 165.7,736.7 166.9,737.6 168.2,738.4 169.5,739.3 170.8,740.1 172.0,741.0 173.3,741.8 174.6,742.7 175.9,743.5 177.1,744.3 178.4,745.2 179.7,746.0 181.0,746.9 182.3,747.7 183.5,748.6 184.8,749.4 186.1,750.2 187.4,751.0 188.6,751.8 189.9,752.5 191.2,753.3 192.5,754.1 193.8,754.9 195.0,756.0 196.3,757.0 197.6,758.0 198.9,759.0 200.1,760.0 201.4,761.1 202.7,762.1 204.0,763.2 205.3,764.6 206.5,766.1 207.8,767.5 209.1,768.9 210.4,770.3 211.6,771.8 212.9,773.2 214.2,774.6 215.5,776.0 216.8,777.5 218.0,779.1 219.3,780.8 220.6,782.5 221.9,784.2 223.1,785.8 224.4,787.5 225.7,789.2 227.0,790.8 228.2,792.5 229.5,794.2 230.8,795.9 232.1,797.5 233.4,799.2 234.6,800.9 235.9,802.5 237.2,804.1 238.5,805.8 239.7,807.4 241.0,809.0 242.3,810.7 243.6,812.3 244.9,814.0 246.1,815.6 247.4,817.2 248.7,818.9 250.0,820.5 251.2,822.1 252.5,823.8 253.8,825.1 255.1,826.0 256.4,826.9 257.6,827.7 258.9,828.6 260.2,829.5 261.5,830.4 262.7,831.3 264.0,832.1 265.3,833.0 266.6,833.9 267.9,834.8 269.1,835.7 270.4,836.5 271.7,837.4 273.0,838.1 274.2,838.6 275.5,839.1 276.8,839.5 278.1,840.0 279.3,840.5 280.6,840.9 281.9,841.4 283.2,841.9 284.5,842.3 285.7,842.8 287.0,843.3 288.3,843.7 289.6,844.2 290.8,844.7 292.1,845.0 293.4,845.0 294.7,845.1 296.0,845.2 297.2,845.2 298.5,845.3 299.8,845.3 301.1,845.4 302.3,845.5 303.6,845.5 304.9,845.6 306.2,845.6 307.5,845.7 308.7,845.8 310.0,845.8 311.3,845.9 312.6,845.9 313.8,845.9 315.1,845.9 316.4,845.9 317.7,845.9 318.9,845.9 320.2,845.9 321.5,845.9 322.8,845.9 324.1,845.9 325.3,845.9 326.6,845.9 327.9,845.9 329.2,845.9 330.4,845.5 331.7,844.7 333.0,843.9 334.3,843.0 335.6,842.2 336.8,841.4 338.1,840.6 339.4,839.7 340.7,838.9 341.9,837.6 343.2,835.7 344.5,833.9 345.8,830.9 347.1,827.9 348.3,824.9 349.6,821.9 350.9,818.9 352.2,815.9 353.4,812.9 354.7,809.9 356.0,807.0 357.3,804.0 358.6,801.0 359.8,798.0 361.1,795.1 362.4,792.1 363.7,789.1 364.9,786.2 366.2,783.2 367.5,779.7 368.8,775.9 370.1,772.1 371.3,768.3 372.6,764.5 373.9,760.7 375.2,757.5 376.4,755.4 377.7,753.3 379.0,751.2 380.3,749.1 381.5,747.0 382.8,744.9 384.1,742.8 385.4,740.9 386.7,739.8 387.9,738.8 389.2,737.7 390.5,736.7 391.8,735.6 393.0,734.6 394.3,733.5 395.6,732.4 396.9,731.3 398.2,730.2 399.4,729.0 400.7,727.9 402.0,726.8 403.3,725.6 404.5,724.5 405.8,723.4 407.1,722.2 408.4,721.7 409.7,721.3 410.9,720.9 412.2,720.5 413.5,720.2 414.8,721.0 416.0,721.9 417.3,722.7 418.6,723.6 419.9,724.4 421.1,725.3 422.4,726.1 423.7,727.0 425.0,727.8 426.3,728.6 427.5,729.3 428.8,730.1 430.1,730.8 431.4,731.5 432.6,732.2 433.9,732.9 435.2,733.6 436.5,734.3 437.8,735.0 439.0,735.7 440.3,736.5 441.6,737.2 442.9,738.0 444.1,739.0 445.4,740.0 446.7,740.9 448.0,741.9 449.3,742.9 450.5,743.8 451.8,744.8 453.1,745.8 454.4,746.7 455.6,747.7 456.9,748.7 458.2,749.6 459.5,750.6 460.8,751.6 462.0,752.5 463.3,754.1 464.6,756.1 465.9,758.0 467.1,760.0 468.4,762.0 469.7,763.9 471.0,765.7 472.2,767.2 473.5,768.8 474.8,770.3 476.1,771.9 477.4,773.4 478.6,775.0 479.9,776.6 481.2,778.2 482.5,779.8 483.7,781.3 485.0,782.9 486.3,784.5 487.6,786.1 488.9,787.7 490.1,789.3 491.4,790.7 492.7,792.2 494.0,793.6 495.2,795.1 496.5,796.5 497.8,798.0 499.1,799.4 500.4,800.9 501.6,802.3 502.9,803.8 504.2,805.3 505.5,806.7 506.7,808.2 508.0,809.6 509.3,811.0 510.6,812.3 511.9,813.6 513.1,814.9 514.4,816.2 515.7,817.5 517.0,818.8 518.2,820.1 519.5,821.4 520.8,822.7 522.1,824.0 523.4,825.3 524.6,826.6 525.9,827.9 527.2,829.1 528.5,830.0 529.7,830.5 531.0,831.0 532.3,831.5 533.6,832.0 534.8,832.5 536.1,832.9 537.4,833.4 538.7,833.9 540.0,834.4 541.2,834.9 542.5,835.4 543.8,835.9 545.1,836.4 546.3,836.9 547.6,837.2 548.9,837.4 550.2,837.6 551.5,837.8 552.7,838.0 554.0,838.2 555.3,838.4 556.6,838.6 557.8,838.8 559.1,839.0 560.4,839.2 561.7,839.4 563.0,839.6 564.2,839.8 565.5,840.0 566.8,840.1 568.1,840.1 569.3,840.1 570.6,840.1 571.9,840.1 573.2,840.1 574.5,840.1 575.7,840.1 577.0,840.1 578.3,840.1 579.6,840.1 580.8,840.1 582.1,840.1 583.4,840.1 584.7,840.1 585.9,840.2 587.2,840.3 588.5,840.5 589.8,840.6 591.1,840.7 592.3,840.9 593.6,841.0 594.9,841.1 596.2,841.3 597.4,841.4 598.7,841.5 600.0,841.7" fill="none" stroke="#000" stroke-opacity="0.2" stroke-width="10" stroke-linejoin="round"/>
<polyline points="89.0,843.5 89.6,837.9 90.3,836.1 90.9,834.7 91.6,837.2 92.2,836.8 92.8,837.0 93.5,836.2 94.1,832.4 94.7,828.0 95.4,825.5 96.0,828.2 96.7,823.4 97.3,827.6 97.9,826.4 98.6,826.5 99.2,822.5 99.9,818.6 100.5,814.3 101.1,815.9 101.8,816.2 102.4,817.0 103.1,815.7 103.7,811.8 104.3,809.4 105.0,804.3 105.6,802.6 106.2,805.6 106.9,806.2 107.5,806.0 108.2,803.0 108.8,799.0 109.4,793.9 110.1,784.9 110.7,786.1 111.4,789.3 112.0,789.5 112.6,788.5 113.3,783.2 113.9,777.3 114.6,772.0 115.2,771.0 115.8,774.1 116.5,770.7 117.1,774.8 117.7,767.2 118.4,765.3 119.0,760.9 119.7,756.9 120.3,753.6 120.9,761.1 121.6,756.8 122.2,757.1 122.9,753.4 123.5,751.2 124.1,747.4 124.8,743.6 125.4,742.8 126.0,746.3 126.7,741.4 127.3,742.8 128.0,740.2 128.6,735.4 129.2,731.8 129.9,729.2 130.5,731.5 131.2,732.8 131.8,731.7 132.4,732.0 133.1,727.0 133.7,723.6 134.4,722.1 135.0,721.7 135.6,723.0 136.3,724.9 136.9,724.0 137.5,723.4 138.2,716.5 138.8,718.1 139.5,719.9 140.1,720.0 140.7,724.1 141.4,727.3 142.0,722.9 142.7,723.0 143.3,720.6 143.9,718.1 144.6,720.3 145.2,723.0 145.8,723.0 146.5,727.2 147.1,724.5 147.8,722.7 148.4,721.1 149.0,722.2 149.7,723.7 150.3,727.2 151.0,729.0 151.6,731.9 152.2,725.6 152.9,726.4 153.5,723.2 154.2,723.8 154.8,727.8 155.4,728.3 156.1,729.1 156.7,730.9 157.3,730.4 158.0,726.6 158.6,724.9 159.3,728.0 159.9,732.3 160.5,731.7 161.2,736.4 161.8,735.5 162.5,733.0 163.1,730.3 163.7,730.9 164.4,732.6 165.0,737.0 165.6,739.1 166.3,739.8 166.9,736.0 167.6,736.6 168.2,734.3 168.8,734.5 169.5,738.3 170.1,741.6 170.8,742.0 171.4,739.5 172.0,738.1 172.7,739.1 173.3,738.2 174.0,736.4 174.6,742.6 175.2,744.8 175.9,745.6 176.5,742.3 177.1,740.8 177.8,740.2 178.4,742.7 179.1,742.7 179.7,746.1 180.3,747.7 181.0,745.1 181.6,748.8 182.3,745.5 182.9,745.7 183.5,746.3 184.2,749.0 184.8,750.9 185.5,751.9 186.1,748.8 186.7,749.6 187.4,746.6 188.0,747.4 188.6,750.7 189.3,753.9 189.9,754.7 190.6,755.7 191.2,752.0 191.8,750.5 192.5,751.9 193.1,751.6 193.8,751.8 194.4,758.0 195.0,758.7 195.7,759.6 196.3,753.9 196.9,754.1 197.6,754.8 198.2,758.6 198.9,757.8 199.5,762.3 200.1,761.0 200.8,763.0 201.4,760.0 202.1,758.0 202.7,759.5 203.3,759.5 204.0,764.3 204.6,766.1 205.3,768.5 205.9,767.4 206.5,760.4" fill="none" stroke="#1e1e1e" stroke-opacity="0.3" stroke-width="5" stroke-linejoin="round"/>
<polyline points="89.0,841.0 89.6,843.1 90.3,837.9 90.9,833.6 91.6,830.8 92.2,827.8 92.8,829.2 93.5,831.9 94.1,832.1 94.7,832.5 95.4,831.3 96.0,828.5 96.7,824.9 97.3,821.3 97.9,821.6 98.6,824.1 99.2,821.8 99.9,821.9 100.5,817.8 101.1,812.6 101.8,812.3 102.4,812.8 103.1,809.5 103.7,812.5 104.3,809.1 105.0,808.1 105.6,803.0 106.2,799.4 106.9,801.0 107.5,796.6 108.2,799.6 108.8,799.9 109.4,797.7 110.1,792.0 110.7,787.0 111.4,782.7 112.0,784.4 112.6,782.5 113.3,785.5 113.9,781.6 114.6,777.9 115.2,775.4 115.8,769.2 116.5,765.9 117.1,763.7 117.7,766.8 118.4,767.3 119.0,766.1 119.7,759.2 120.3,755.7 120.9,753.3 121.6,750.5 122.2,750.5 122.9,751.3 123.5,752.1 124.1,750.5 124.8,748.2 125.4,743.0 126.0,736.4 126.7,736.7 127.3,737.9 128.0,739.3 128.6,738.7 129.2,736.0 129.9,733.6 130.5,728.6 131.2,726.3 131.8,727.6 132.4,728.8 133.1,729.8 133.7,728.9 134.4,723.0 135.0,723.7 135.6,717.3 136.3,716.8 136.9,718.9 137.5,720.6 138.2,720.8 138.8,721.9 139.5,720.1 140.1,718.4 140.7,716.5 141.4,716.0 142.0,720.4 142.7,724.0 143.3,725.1 143.9,723.7 144.6,721.8 145.2,716.2 145.8,717.1 146.5,719.9 147.1,720.3 147.8,725.5 148.4,723.6 149.0,721.8 149.7,722.9 150.3,721.5 151.0,721.3 151.6,721.1 152.2,723.3 152.9,728.5 153.5,724.8 154.2,724.9 154.8,723.0 155.4,722.8 156.1,724.2 156.7,729.4 157.3,730.8 158.0,732.0 158.6,728.3 159.3,723.8 159.9,721.4 160.5,726.3 161.2,730.7 161.8,731.9 162.5,734.7 163.1,730.4 163.7,730.7 164.4,730.5 165.0,727.3 165.6,729.2 166.3,735.2 166.9,736.5 167.6,737.3 168.2,736.1 168.8,733.8 169.5,732.8 170.1,732.0 170.8,735.2 171.4,738.8 172.0,737.6 172.7,739.7 173.3,738.1 174.0,738.8 174.6,735.6 175.2,735.1 175.9,740.8 176.5,740.3 177.1,744.2 177.8,742.6 178.4,741.4 179.1,738.9 179.7,737.1 180.3,741.1 181.0,741.3 181.6,747.3 182.3,748.4 182.9,744.8 183.5,745.2 184.2,742.7 184.8,741.3 185.5,743.2 186.1,750.4 186.7,749.0 187.4,746.9 188.0,746.0 188.6,745.8 189.3,745.5 189.9,746.2 190.6,750.2 191.2,751.6 191.8,752.7 192.5,751.6 193.1,747.5 193.8,747.6 194.4,749.5 195.0,748.0 195.7,754.2 196.3,755.7 196.9,755.7 197.6,754.5 198.2,753.4 198.9,751.2 199.5,748.6 200.1,755.4 200.8,757.7 201.4,757.6 202.1,757.8 202.7,755.8 203.3,753.8 204.0,757.6 204.6,757.9 205.3,759.6 205.9,761.9 206.5,761.8" fill="none" stroke="#1e1e1e" stroke-opacity="0.3" stroke-width="5" stroke-linejoin="round"/>
<polyline points="89.0,846.3 89.6,844.5 90.3,840.5 90.9,835.4 91.6,836.9 92.2,835.7 92.8,838.9 93.5,839.5 94.1,837.7 94.7,835.1 95.4,831.7 96.0,828.1 96.7,827.0 97.3,826.9 97.9,830.8 98.6,828.4 99.2,827.8 99.9,821.2 100.5,817.7 101.1,815.2 101.8,817.4 102.4,818.5 103.1,820.2 103.7,816.5 104.3,814.8 105.0,810.2 105.6,804.8 106.2,801.3 106.9,803.0 107.5,807.4 108.2,804.0 108.8,799.3 109.4,794.9 110.1,791.5 110.7,784.6 111.4,786.4 112.0,785.8 112.6,785.7 113.3,784.9 113.9,782.1 114.6,773.8 115.2,770.4 115.8,772.0 116.5,768.4 117.1,769.2 117.7,768.9 118.4,767.8 119.0,763.8 119.7,758.3 120.3,753.5 120.9,751.4 121.6,757.4 122.2,754.9 122.9,754.5 123.5,752.8 124.1,750.5 124.8,745.2 125.4,743.4 126.0,741.8 126.7,743.4 127.3,742.6 128.0,742.9 128.6,742.0 129.2,736.4 129.9,732.6 130.5,731.4 131.2,732.1 131.8,731.5 132.4,730.9 133.1,732.4 133.7,728.2 134.4,724.5 135.0,722.1 135.6,725.2 136.3,727.2 136.9,730.9 137.5,732.0 138.2,728.5 138.8,728.1 139.5,723.4 140.1,721.9 140.7,725.8 141.4,728.1 142.0,731.2 142.7,732.8 143.3,728.0 143.9,727.2 144.6,724.8 145.2,725.5 145.8,727.5 146.5,728.8 147.1,732.9 147.8,731.7 148.4,732.4 149.0,727.0 149.7,729.6 150.3,731.4 151.0,731.7 151.6,739.5 152.2,736.2 152.9,734.4 153.5,733.8 154.2,729.5 154.8,733.6 155.4,734.5 156.1,740.7 156.7,742.6 157.3,738.1 158.0,736.4 158.6,737.7 159.3,735.4 159.9,739.8 160.5,742.3 161.2,741.9 161.8,743.1 162.5,742.8 163.1,741.5 163.7,739.8 164.4,741.4 165.0,740.7 165.6,746.1 166.3,748.2 166.9,745.6 167.6,746.7 168.2,744.9 168.8,740.9 169.5,745.4 170.1,747.3 170.8,754.2 171.4,746.9 172.0,751.5 172.7,749.8 173.3,745.8 174.0,750.0 174.6,745.8 175.2,750.5 175.9,753.3 176.5,754.9 177.1,752.8 177.8,749.9 178.4,748.3 179.1,748.1 179.7,751.1 180.3,754.3 181.0,755.2 181.6,757.5 182.3,758.3 182.9,752.6 183.5,756.2 184.2,755.4 184.8,758.2 185.5,761.3 186.1,758.7 186.7,758.5 187.4,757.3 188.0,756.2 188.6,755.3 189.3,758.8 189.9,762.4 190.6,763.7 191.2,766.1 191.8,762.4 192.5,757.1 193.1,758.3 193.8,762.3 194.4,762.8 195.0,767.8 195.7,769.0 196.3,768.1 196.9,763.6 197.6,765.0 198.2,764.3 198.9,766.1 199.5,770.2 200.1,770.5 200.8,772.2 201.4,770.2 202.1,768.7 202.7,767.8 203.3,770.4 204.0,769.9 204.6,776.7 205.3,773.4 205.9,776.3 206.5,775.6" fill="none" stroke="#1e1e1e" stroke-opacity="0.3" stroke-width="5" stroke-linejoin="round"/>
<polyline points="89.0,839.7 89.6,839.8 90.3,841.2 90.9,842.3 91.6,835.9 92.2,832.2 92.8,831.6 93.5,827.5 94.1,832.0 94.7,833.3 95.4,832.4 96.0,830.3 96.7,826.6 97.3,822.2 97.9,820.3 98.6,821.9 99.2,822.3 99.9,824.1 100.5,819.3 101.1,817.3 101.8,811.7 102.4,810.5 103.1,809.3 103.7,809.0 104.3,811.9 105.0,805.7 105.6,806.4 106.2,802.3 106.9,799.5 107.5,793.5 108.2,793.2 108.8,795.1 109.4,797.1 110.1,793.5 110.7,787.6 111.4,784.4 112.0,781.5 112.6,779.7 113.3,779.0 113.9,778.1 114.6,778.0 115.2,774.2 115.8,765.7 116.5,762.8 117.1,764.2 117.7,761.5 118.4,762.4 119.0,763.0 119.7,759.7 120.3,758.1 120.9,753.8 121.6,750.3 122.2,748.2 122.9,746.5 123.5,748.2 124.1,751.2 124.8,747.7 125.4,744.3 126.0,737.8 126.7,736.1 127.3,734.6 128.0,737.1 128.6,740.8 129.2,736.8 129.9,734.4 130.5,730.1 131.2,729.2 131.8,725.5 132.4,726.9 133.1,728.1 133.7,727.1 134.4,725.7 135.0,725.3 135.6,723.9 136.3,723.5 136.9,721.3 137.5,721.1 138.2,725.5 138.8,729.9 139.5,727.1 140.1,722.8 140.7,718.7 141.4,718.7 142.0,721.2 142.7,724.3 143.3,728.6 143.9,728.3 144.6,726.8 145.2,725.1 145.8,722.2 146.5,723.2 147.1,724.4 147.8,725.7 148.4,728.6 149.0,728.8 149.7,727.8 150.3,727.4 151.0,724.5 151.6,725.0 152.2,730.1 152.9,729.7 153.5,733.3 154.2,731.5 154.8,730.4 155.4,730.1 156.1,725.4 156.7,732.2 157.3,732.3 158.0,736.9 158.6,736.1 159.3,736.2 159.9,733.5 160.5,730.5 161.2,730.0 161.8,736.7 162.5,738.5 163.1,738.8 163.7,740.7 164.4,736.8 165.0,737.0 165.6,734.6 166.3,736.6 166.9,738.4 167.6,742.3 168.2,745.3 168.8,741.4 169.5,741.7 170.1,737.6 170.8,736.9 171.4,740.7 172.0,745.4 172.7,744.8 173.3,746.2 174.0,746.5 174.6,743.1 175.2,739.7 175.9,743.5 176.5,745.8 177.1,749.3 177.8,752.4 178.4,749.8 179.1,746.4 179.7,744.9 180.3,745.5 181.0,750.4 181.6,748.6 182.3,751.6 182.9,751.6 183.5,749.6 184.2,749.9 184.8,749.0 185.5,748.6 186.1,749.2 186.7,757.1 187.4,756.6 188.0,756.8 188.6,752.9 189.3,749.6 189.9,751.8 190.6,754.9 191.2,756.0 191.8,759.0 192.5,761.7 193.1,757.0 193.8,757.0 194.4,753.8 195.0,757.3 195.7,756.3 196.3,763.1 196.9,761.6 197.6,765.8 198.2,759.4 198.9,759.9 199.5,761.0 200.1,760.5 200.8,762.6 201.4,767.4 202.1,768.0 202.7,766.2 203.3,765.0 204.0,767.8 204.6,764.3 205.3,765.5 205.9,769.0 206.5,770.6" fill="none" stroke="#1e1e1e" stroke-opacity="0.3" stroke-width="5" stroke-linejoin="round"/>
<polyline points="89.0,833.5 89.6,830.7 90.3,832.0 90.9,833.5 91.6,832.8 92.2,833.0 92.8,833.8 93.5,828.2 94.1,824.8 94.7,823.1 95.4,822.1 96.0,823.6 96.7,825.3 97.3,824.2 97.9,823.3 98.6,821.2 99.2,815.8 99.9,813.1 100.5,814.2 101.1,814.1 101.8,815.2 102.4,814.7 103.1,812.4 103.7,806.4 104.3,803.5 105.0,801.1 105.6,799.4 106.2,804.9 106.9,803.3 107.5,798.1 108.2,794.0 108.8,792.0 109.4,788.5 110.1,787.3 110.7,785.7 111.4,789.0 112.0,787.6 112.6,781.2 113.3,778.7 113.9,773.6 114.6,769.3 115.2,771.4 115.8,771.6 116.5,770.8 117.1,769.9 117.7,764.1 118.4,759.3 119.0,759.1 119.7,756.6 120.3,757.0 120.9,756.2 121.6,754.7 122.2,752.8 122.9,745.3 123.5,746.5 124.1,742.5 124.8,741.1 125.4,743.2 126.0,744.1 126.7,741.6 127.3,737.7 128.0,733.4 128.6,729.2 129.2,732.0 129.9,730.0 130.5,731.9 131.2,731.3 131.8,726.3 132.4,723.4 133.1,720.0 133.7,722.3 134.4,717.9 135.0,722.2 135.6,721.9 136.3,720.1 136.9,714.9 137.5,717.7 138.2,711.5 138.8,711.1 139.5,714.0 140.1,717.7 140.7,718.1 141.4,720.3 142.0,717.4 142.7,714.3 143.3,714.9 143.9,715.1 144.6,717.0 145.2,720.7 145.8,719.5 146.5,720.2 147.1,718.9 147.8,715.8 148.4,716.1 149.0,718.6 149.7,719.1 150.3,719.5 151.0,722.8 151.6,720.6 152.2,718.2 152.9,718.4 153.5,716.1 154.2,720.2 154.8,721.4 155.4,725.1 156.1,724.2 156.7,719.7 157.3,720.4 158.0,719.4 158.6,719.8 159.3,725.0 159.9,725.9 160.5,729.2 161.2,727.0 161.8,725.2 162.5,721.8 163.1,724.1 163.7,726.9 164.4,728.2 165.0,728.6 165.6,732.4 166.3,725.8 166.9,729.0 167.6,727.1 168.2,728.9 168.8,728.1 169.5,732.6 170.1,734.1 170.8,731.8 171.4,730.3 172.0,730.1 172.7,730.9 173.3,734.4 174.0,733.6 174.6,738.1 175.2,738.2 175.9,736.2 176.5,733.3 177.1,732.1 177.8,733.1 178.4,733.9 179.1,738.4 179.7,743.0 180.3,740.2 181.0,740.4 181.6,739.0 182.3,736.1 182.9,739.8 183.5,742.3 184.2,742.9 184.8,743.5 185.5,743.5 186.1,742.5 186.7,743.5 187.4,739.5 188.0,744.3 188.6,745.3 189.3,747.0 189.9,747.2 190.6,743.4 191.2,742.7 191.8,741.9 192.5,743.8 193.1,744.0 193.8,747.2 194.4,751.6 195.0,748.7 195.7,746.5 196.3,744.0 196.9,747.6 197.6,747.9 198.2,750.2 198.9,752.9 199.5,752.5 200.1,751.9 200.8,753.0 201.4,750.1 202.1,749.0 202.7,751.0 203.3,755.4 204.0,754.2 204.6,756.4 205.3,753.6 205.9,751.5 206.5,751.8" fill="none" stroke="#1e1e1e" stroke-opacity="0.3" stroke-width="5" stroke-linejoin="round"/>
<polyline points="344.5,835.3 345.1,838.6 345.8,834.6 346.4,829.6 347.1,825.5 347.7,823.1 348.3,821.9 349.0,826.8 349.6,826.5 350.2,826.7 350.9,823.6 351.5,815.4 352.2,817.8 352.8,812.3 353.4,814.8 354.1,812.2 354.7,812.9 355.4,814.5 356.0,807.6 356.6,806.5 357.3,801.4 357.9,801.6 358.6,803.5 359.2,804.4 359.8,804.1 360.5,801.1 361.1,798.1 361.7,790.9 362.4,792.1 363.0,792.1 363.7,793.5 364.3,794.5 364.9,794.8 365.6,791.4 366.2,784.6 366.9,781.7 367.5,779.8 368.1,778.8 368.8,778.5 369.4,779.1 370.1,776.8 370.7,774.7 371.3,769.8 372.0,767.1 372.6,764.7 373.2,766.1 373.9,766.0 374.5,765.5 375.2,763.5 375.8,760.0 376.4,756.8 377.1,752.3 377.7,754.9 378.4,757.4 379.0,756.6 379.6,757.6 380.3,754.8 380.9,749.3 381.5,748.9 382.2,750.1 382.8,745.9 383.5,746.3 384.1,750.6 384.7,748.0 385.4,743.0 386.0,743.6 386.7,740.3 387.3,741.2 387.9,741.6 388.6,745.9 389.2,741.9 389.9,741.5 390.5,737.7 391.1,735.9 391.8,737.6 392.4,735.8 393.0,739.6 393.7,738.9 394.3,739.5 395.0,736.1 395.6,732.7 396.2,729.1 396.9,729.1 397.5,733.3 398.2,733.8 398.8,732.2 399.4,732.0 400.1,730.7 400.7,726.9 401.3,725.9 402.0,724.8 402.6,728.0 403.3,729.1 403.9,726.1 404.5,729.0 405.2,725.2 405.8,723.8 406.5,723.1 407.1,721.2 407.7,724.5 408.4,723.8 409.0,728.3 409.7,724.3 410.3,718.2 410.9,717.5 411.6,718.5 412.2,720.7 412.8,724.1 413.5,725.3 414.1,724.3 414.8,721.0 415.4,720.8 416.0,720.2 416.7,720.7 417.3,727.5 418.0,729.3 418.6,727.7 419.2,727.3 419.9,725.0 420.5,720.6 421.2,724.0 421.8,728.0 422.4,728.7 423.1,728.2 423.7,733.0 424.3,730.3 425.0,727.2 425.6,728.0 426.3,725.6 426.9,731.0 427.5,734.8 428.2,734.2 428.8,734.7 429.5,732.2 430.1,729.7 430.7,726.9 431.4,736.0 432.0,735.1 432.6,735.6 433.3,736.3 433.9,732.7 434.6,732.7 435.2,732.4 435.8,734.1 436.5,738.0 437.1,737.1 437.8,742.3 438.4,739.8 439.0,738.1 439.7,736.8 440.3,738.9 441.0,738.3 441.6,740.6 442.2,742.9 442.9,742.3 443.5,742.2 444.1,740.8 444.8,738.4 445.4,739.0 446.1,744.0 446.7,747.9 447.3,748.8 448.0,745.3 448.6,743.5 449.3,744.4 449.9,742.7 450.5,743.5 451.2,745.8 451.8,751.4 452.4,751.6 453.1,748.0 453.7,744.4 454.4,744.3 455.0,748.8 455.6,749.0 456.3,753.2 456.9,754.9 457.6,755.7 458.2,753.7 458.8,751.0 459.5,747.7 460.1,750.8 460.8,754.1 461.4,757.6" fill="none" stroke="#1e1e1e" stroke-opacity="0.3" stroke-width="5" stroke-linejoin="round"/>
<polyline points="344.5,837.9 345.1,830.5 345.8,832.5 346.4,825.2 347.1,825.4 347.7,826.5 348.3,829.0 349.0,825.7 349.6,825.6 350.2,820.2 350.9,815.4 351.5,815.6 352.2,815.6 352.8,817.0 353.4,818.4 354.1,816.9 354.7,812.3 355.4,806.7 356.0,806.4 356.6,806.6 357.3,804.0 357.9,803.5 358.6,802.5 359.2,801.7 359.8,797.3 360.5,794.8 361.1,790.7 361.7,791.2 362.4,795.1 363.0,793.1 363.7,793.8 364.3,791.0 364.9,785.8 365.6,783.7 366.2,781.1 366.9,778.5 367.5,781.1 368.1,781.9 368.8,781.4 369.4,775.1 370.1,771.8 370.7,767.5 371.3,766.0 372.0,768.1 372.6,767.2 373.2,767.6 373.9,763.4 374.5,759.3 375.2,755.7 375.8,751.5 376.4,754.4 377.1,757.3 377.7,756.7 378.4,755.3 379.0,751.9 379.6,749.2 380.3,745.7 380.9,745.9 381.5,744.2 382.2,748.8 382.8,748.4 383.5,747.2 384.1,743.8 384.7,739.5 385.4,738.4 386.0,737.7 386.7,738.7 387.3,742.4 387.9,744.3 388.6,739.9 389.2,737.4 389.9,735.4 390.5,732.6 391.1,733.6 391.8,732.8 392.4,736.3 393.0,737.0 393.7,734.6 394.3,736.1 395.0,728.7 395.6,728.4 396.2,731.4 396.9,733.8 397.5,733.8 398.2,729.5 398.8,728.7 399.4,725.5 400.1,725.7 400.7,724.5 401.3,727.6 402.0,729.4 402.6,727.0 403.3,727.3 403.9,724.2 404.5,722.6 405.2,721.1 405.8,720.6 406.5,724.5 407.1,723.9 407.7,723.3 408.4,722.5 409.0,721.4 409.7,714.3 410.3,718.8 410.9,721.0 411.6,724.7 412.2,722.4 412.8,720.9 413.5,718.9 414.1,718.0 414.8,719.7 415.4,721.6 416.0,723.7 416.7,725.8 417.3,724.5 418.0,722.5 418.6,722.3 419.2,719.7 419.9,721.8 420.5,724.0 421.2,725.7 421.8,728.9 422.4,727.9 423.1,725.3 423.7,722.7 424.3,724.5 425.0,724.7 425.6,732.3 426.3,729.0 426.9,732.6 427.5,732.6 428.2,727.3 428.8,724.8 429.5,724.6 430.1,727.9 430.7,732.6 431.4,732.9 432.0,732.8 432.6,731.7 433.3,729.7 433.9,727.3 434.6,727.9 435.2,733.8 435.8,735.7 436.5,735.3 437.1,733.8 437.8,730.7 438.4,733.3 439.0,729.7 439.7,734.2 440.3,739.7 441.0,737.6 441.6,739.0 442.2,738.0 442.9,734.9 443.5,733.3 444.1,736.0 444.8,737.6 445.4,742.6 446.1,741.2 446.7,741.7 447.3,740.2 448.0,737.9 448.6,736.8 449.3,738.2 449.9,741.5 450.5,745.2 451.2,747.9 451.8,744.3 452.4,741.5 453.1,739.9 453.7,742.2 454.4,742.2 455.0,748.0 455.6,750.4 456.3,749.4 456.9,746.8 457.6,746.2 458.2,746.6 458.8,748.7 459.5,747.5 460.1,752.1 460.8,752.4 461.4,753.4" fill="none" stroke="#1e1e1e" stroke-opacity="0.3" stroke-width="5" stroke-linejoin="round"/>
<polyline points="344.5,842.4 345.1,845.6 345.8,845.5 346.4,844.0 347.1,844.3 347.7,842.6 348.3,839.7 349.0,832.9 349.6,829.7 350.2,834.0 350.9,836.5 351.5,832.7 352.2,832.3 352.8,828.2 353.4,824.1 354.1,822.2 354.7,819.5 355.4,819.7 356.0,821.6 356.6,822.5 357.3,817.7 357.9,815.5 358.6,811.0 359.2,811.5 359.8,809.5 360.5,810.7 361.1,810.6 361.7,811.2 362.4,807.4 363.0,805.0 363.7,800.0 364.3,799.3 364.9,799.7 365.6,803.1 366.2,804.4 366.9,800.6 367.5,797.1 368.1,794.2 368.8,789.4 369.4,788.1 370.1,789.5 370.7,788.7 371.3,788.2 372.0,786.6 372.6,781.4 373.2,777.1 373.9,773.6 374.5,773.2 375.2,774.9 375.8,773.3 376.4,774.0 377.1,769.5 377.7,763.4 378.4,762.3 379.0,761.0 379.6,766.4 380.3,767.2 380.9,765.6 381.5,760.4 382.2,755.7 382.8,755.5 383.5,754.3 384.1,754.6 384.7,755.8 385.4,754.4 386.0,754.4 386.7,748.2 387.3,746.5 387.9,746.2 388.6,744.6 389.2,746.7 389.9,747.2 390.5,747.6 391.1,747.9 391.8,743.0 392.4,740.3 393.0,739.7 393.7,739.8 394.3,741.0 395.0,744.0 395.6,744.2 396.2,739.2 396.9,737.7 397.5,735.9 398.2,733.7 398.8,737.7 399.4,737.5 400.1,740.5 400.7,738.0 401.3,737.1 402.0,732.4 402.6,728.1 403.3,729.8 403.9,733.0 404.5,730.5 405.2,734.1 405.8,729.2 406.5,728.8 407.1,727.3 407.7,721.4 408.4,725.6 409.0,726.0 409.7,727.2 410.3,730.6 410.9,726.5 411.6,724.6 412.2,721.1 412.8,722.2 413.5,726.0 414.1,726.4 414.8,726.5 415.4,727.5 416.0,724.4 416.7,724.0 417.3,722.8 418.0,724.0 418.6,727.2 419.2,728.3 419.9,729.7 420.5,728.7 421.2,726.7 421.8,726.0 422.4,728.3 423.1,727.5 423.7,729.6 424.3,733.9 425.0,734.6 425.6,732.5 426.3,728.7 426.9,729.2 427.5,732.2 428.2,733.9 428.8,737.5 429.5,738.0 430.1,738.1 430.7,736.0 431.4,730.8 432.0,731.3 432.6,737.1 433.3,739.2 433.9,740.8 434.6,741.2 435.2,741.1 435.8,735.6 436.5,737.9 437.1,735.4 437.8,738.0 438.4,742.5 439.0,744.6 439.7,743.1 440.3,741.0 441.0,742.2 441.6,740.5 442.2,739.6 442.9,743.4 443.5,746.5 444.1,748.3 444.8,746.8 445.4,744.8 446.1,738.3 446.7,744.6 447.3,743.1 448.0,747.7 448.6,750.3 449.3,750.4 449.9,749.6 450.5,744.7 451.2,745.5 451.8,747.7 452.4,750.7 453.1,753.2 453.7,756.5 454.4,754.7 455.0,753.1 455.6,749.6 456.3,749.7 456.9,755.4 457.6,756.2 458.2,757.0 458.8,760.8 459.5,759.2 460.1,754.0 460.8,754.5 461.4,755.9" fill="none" stroke="#1e1e1e" stroke-opacity="0.3" stroke-width="5" stroke-linejoin="round"/>
<polyline points="344.5,843.8 345.1,836.1 345.8,832.4 346.4,831.3 347.1,828.4 347.7,829.7 348.3,830.8 349.0,829.7 349.6,829.1 350.2,824.2 350.9,819.9 351.5,819.1 352.2,817.5 352.8,820.9 353.4,820.2 354.1,819.6 354.7,816.3 355.4,810.0 356.0,808.3 356.6,808.2 357.3,808.0 357.9,809.1 358.6,808.7 359.2,807.6 359.8,805.2 360.5,800.1 361.1,799.8 361.7,800.2 362.4,797.6 363.0,800.5 363.7,799.5 364.3,799.3 364.9,794.1 365.6,790.7 366.2,788.4 366.9,784.4 367.5,788.8 368.1,786.2 368.8,786.0 369.4,781.0 370.1,779.6 370.7,773.7 371.3,771.9 372.0,772.0 372.6,772.3 373.2,771.1 373.9,769.2 374.5,766.3 375.2,763.9 375.8,760.6 376.4,760.3 377.1,760.7 377.7,759.1 378.4,760.2 379.0,759.2 379.6,754.5 380.3,754.6 380.9,751.0 381.5,752.9 382.2,752.0 382.8,756.0 383.5,751.4 384.1,752.8 384.7,742.4 385.4,741.1 386.0,745.1 386.7,743.6 387.3,746.8 387.9,743.9 388.6,743.5 389.2,741.9 389.9,739.1 390.5,736.6 391.1,740.3 391.8,739.3 392.4,741.7 393.0,743.0 393.7,740.1 394.3,737.0 395.0,734.2 395.6,730.1 396.2,735.0 396.9,736.1 397.5,738.6 398.2,733.9 398.8,732.4 399.4,727.6 400.1,730.4 400.7,729.4 401.3,730.3 402.0,731.6 402.6,731.3 403.3,729.0 403.9,726.9 404.5,724.0 405.2,724.8 405.8,724.5 406.5,727.2 407.1,726.4 407.7,726.6 408.4,725.5 409.0,721.5 409.7,721.7 410.3,721.4 410.9,724.2 411.6,724.3 412.2,726.8 412.8,724.6 413.5,723.8 414.1,723.6 414.8,720.3 415.4,723.0 416.0,725.5 416.7,730.6 417.3,732.8 418.0,728.7 418.6,725.2 419.2,727.5 419.9,722.1 420.5,726.8 421.2,729.5 421.8,734.4 422.4,731.2 423.1,730.3 423.7,726.8 424.3,726.0 425.0,731.6 425.6,733.8 426.3,736.6 426.9,736.9 427.5,735.5 428.2,731.8 428.8,733.2 429.5,733.6 430.1,733.1 430.7,738.0 431.4,738.2 432.0,738.7 432.6,735.3 433.3,736.6 433.9,734.8 434.6,733.2 435.2,737.5 435.8,742.6 436.5,741.5 437.1,744.2 437.8,741.2 438.4,736.4 439.0,735.8 439.7,736.7 440.3,742.2 441.0,745.4 441.6,742.9 442.2,742.3 442.9,741.8 443.5,739.9 444.1,741.8 444.8,742.2 445.4,747.1 446.1,748.6 446.7,745.9 447.3,748.9 448.0,747.7 448.6,743.2 449.3,748.4 449.9,753.7 450.5,752.3 451.2,750.3 451.8,750.9 452.4,750.2 453.1,749.5 453.7,748.3 454.4,752.7 455.0,757.2 455.6,757.2 456.3,756.4 456.9,754.1 457.6,753.5 458.2,752.7 458.8,755.9 459.5,757.2 460.1,760.4 460.8,760.8 461.4,759.4" fill="none" stroke="#1e1e1e" stroke-opacity="0.3" stroke-width="5" stroke-linejoin="round"/>
<polyline points="344.5,834.4 345.1,832.0 345.8,831.8 346.4,828.2 347.1,823.2 347.7,819.0 348.3,818.7 349.0,817.8 349.6,822.8 350.2,820.0 350.9,818.0 351.5,817.0 352.2,809.0 352.8,810.5 353.4,809.8 354.1,804.8 354.7,807.6 355.4,808.2 356.0,803.8 356.6,800.0 357.3,799.7 357.9,795.6 358.6,794.5 359.2,797.9 359.8,797.9 360.5,797.0 361.1,791.7 361.7,789.5 362.4,786.5 363.0,786.6 363.7,786.9 364.3,786.2 364.9,785.5 365.6,784.2 366.2,781.0 366.9,774.7 367.5,772.1 368.1,770.3 368.8,773.5 369.4,773.6 370.1,770.6 370.7,765.5 371.3,763.3 372.0,759.6 372.6,759.1 373.2,758.5 373.9,757.3 374.5,757.9 375.2,755.9 375.8,756.6 376.4,749.4 377.1,749.9 377.7,747.7 378.4,753.4 379.0,751.4 379.6,752.2 380.3,746.6 380.9,744.7 381.5,739.8 382.2,741.1 382.8,738.3 383.5,743.4 384.1,740.8 384.7,743.4 385.4,741.6 386.0,735.7 386.7,735.7 387.3,735.3 387.9,738.9 388.6,739.5 389.2,739.4 389.9,739.0 390.5,734.5 391.1,735.6 391.8,729.7 392.4,732.5 393.0,731.8 393.7,736.1 394.3,736.3 395.0,733.7 395.6,729.4 396.2,726.6 396.9,727.7 397.5,729.7 398.2,730.0 398.8,730.3 399.4,732.9 400.1,729.1 400.7,725.4 401.3,720.3 402.0,721.4 402.6,724.0 403.3,726.2 403.9,728.7 404.5,723.5 405.2,722.6 405.8,720.5 406.5,715.6 407.1,722.2 407.7,720.4 408.4,723.8 409.0,725.1 409.7,721.2 410.3,719.9 410.9,716.8 411.6,718.4 412.2,721.3 412.8,718.1 413.5,724.3 414.1,721.5 414.8,721.0 415.4,718.0 416.0,720.6 416.7,722.1 417.3,728.4 418.0,724.6 418.6,726.1 419.2,727.2 419.9,722.0 420.5,721.0 421.2,718.2 421.8,724.6 422.4,726.6 423.1,729.0 423.7,728.5 424.3,727.8 425.0,726.3 425.6,723.9 426.3,724.5 426.9,730.9 427.5,733.5 428.2,733.0 428.8,729.2 429.5,729.9 430.1,730.4 430.7,726.8 431.4,728.9 432.0,730.2 432.6,734.9 433.3,732.5 433.9,734.7 434.6,730.1 435.2,730.1 435.8,733.0 436.5,734.3 437.1,734.8 437.8,736.5 438.4,738.1 439.0,733.8 439.7,732.1 440.3,731.8 441.0,734.4 441.6,737.4 442.2,741.6 442.9,741.3 443.5,739.7 444.1,738.8 444.8,736.8 445.4,736.8 446.1,739.3 446.7,741.1 447.3,746.1 448.0,745.1 448.6,742.3 449.3,741.2 449.9,739.5 450.5,742.2 451.2,742.7 451.8,747.6 452.4,750.1 453.1,746.4 453.7,743.0 454.4,746.6 455.0,744.2 455.6,746.1 456.3,747.8 456.9,749.4 457.6,752.2 458.2,752.7 458.8,747.3 459.5,745.8 460.1,747.7 460.8,751.0 461.4,755.3" fill="none" stroke="#1e1e1e" stroke-opacity="0.3" stroke-width="5" stroke-linejoin="round"/>
<polyline points="90.3,827.5 94.6,807.5 108.2,761.5 117.6,742.0 125.3,730.7 129.9,727.4" fill="none" stroke="#333" stroke-opacity="0.35" stroke-width="4.5" stroke-dasharray="3.5 2.5"/>
<polyline points="414.8,723.8 421.1,736.5 428.8,742.0 441.6,747.5 451.8,751.1 462.0,756.5 472.2,767.5" fill="none" stroke="#333" stroke-opacity="0.35" stroke-width="4.5" stroke-dasharray="3.5 2.5"/>
<polyline points="344.5,835.0 345.3,837.9 346.1,833.3 346.9,824.0 347.7,821.4 348.5,819.8 349.4,819.9 350.2,815.5 351.0,810.8 351.8,808.1 352.6,802.2 353.4,804.4 354.2,804.7 355.0,798.8 355.8,797.1 356.6,794.8 357.4,788.6 358.1,789.1 358.9,787.7 359.7,787.4 360.5,784.7 361.3,779.8 362.1,774.1 362.9,775.7 363.6,774.5 364.4,775.4 365.2,770.0 366.0,763.2 366.8,761.1 367.6,758.9 368.4,760.3 369.1,762.0 369.9,758.1 370.7,752.8 371.5,748.0 372.3,747.8 373.1,746.2 373.9,748.1 374.6,744.5 375.5,741.3 376.3,739.7 377.1,735.8 377.9,738.6 378.7,739.9 379.5,739.1 380.3,738.8 381.1,734.5 381.9,732.9 382.7,731.6 383.5,735.3 384.3,732.6 385.1,731.7 385.9,729.0 386.7,728.0 387.4,727.7 388.2,734.0 389.0,732.3 389.7,729.5 390.5,727.2 391.3,726.2 392.0,726.3 392.8,729.5 393.6,732.7 394.3,729.1 395.1,728.4 395.9,725.5 396.6,723.0 397.4,723.5 398.2,726.4 398.9,727.2 399.7,726.2 400.5,723.3 401.2,719.0 402.0,722.5 402.8,727.0 403.5,722.7 404.3,721.9 405.1,717.8 405.8,717.5 406.6,722.2 407.4,722.2 408.2,722.3 409.1,720.1 410.0,714.3 410.9,716.3 411.7,717.3 412.6,719.4" fill="none" stroke="#1e1e1e" stroke-opacity="0.4" stroke-width="5" stroke-linejoin="round"/>
<polyline points="349.6,844.7 350.4,843.9 351.1,840.0 351.9,837.8 352.7,831.4 353.4,832.4 354.2,832.3 355.0,832.9 355.7,827.7 356.5,824.7 357.3,821.8 358.0,819.3 358.8,819.6 359.6,819.2 360.3,817.1 361.1,813.2 361.9,806.9 362.6,805.9 363.4,809.2 364.2,810.0 364.9,805.7 365.7,801.6 366.5,799.2 367.3,791.9 368.1,798.0 368.9,796.0 369.7,792.3 370.4,786.5 371.2,785.6 372.0,780.6 372.8,777.3 373.6,777.4 374.4,777.9 375.2,773.0 376.0,769.3 376.8,764.1 377.6,765.5 378.4,767.1 379.2,764.7 380.0,758.1 380.8,755.0 381.6,749.5 382.4,749.9 383.2,752.1 384.0,752.8 384.8,749.8 385.6,747.4 386.3,744.4 387.1,745.4 387.9,746.7 388.7,749.8 389.5,747.2 390.3,744.1 391.1,739.0 391.9,739.6 392.7,743.3 393.5,744.3 394.3,741.9 395.1,736.2 395.9,734.9 396.7,735.1 397.5,737.6 398.4,737.6 399.2,733.1 400.0,732.8 400.8,729.8 401.6,727.0 402.4,730.2" fill="none" stroke="#1e1e1e" stroke-opacity="0.4" stroke-width="5" stroke-linejoin="round"/>
<line x1="128.1" y1="734.7" x2="128.1" y2="774.7" stroke="#444" stroke-opacity="0.4" stroke-width="5" stroke-linecap="round"/>
<line x1="144.7" y1="722.0" x2="144.7" y2="755.6" stroke="#444" stroke-opacity="0.4" stroke-width="5" stroke-linecap="round"/>
<line x1="124.8" y1="740.2" x2="124.8" y2="762.0" stroke="#444" stroke-opacity="0.4" stroke-width="5" stroke-linecap="round"/>
<path d="M198.9 747.0V773.0" stroke="#111" stroke-opacity="0.155" stroke-width="3.0" stroke-linecap="round" fill="none"/>
<path d="M203.7 750.7V778.2" stroke="#111" stroke-opacity="0.310" stroke-width="3.0" stroke-linecap="round" fill="none"/>
<path d="M208.6 756.4V788.6" stroke="#111" stroke-opacity="0.465" stroke-width="3.0" stroke-linecap="round" fill="none"/>
<path d="M213.4 753.4V795.3M218.3 760.7V801.3M223.1 765.5V808.8M228.0 772.8V811.3M232.8 774.9V820.6M237.7 785.5V829.0M242.6 789.4V834.0M247.4 791.5V842.8M252.3 799.7V849.5M257.1 804.1V853.5M262.0 807.8V852.6M266.8 813.4V857.9M271.7 816.6V862.2M276.5 816.3V863.5M281.4 822.8V863.7M286.2 821.9V864.0M291.1 828.1V860.6M296.0 828.1V865.6M300.8 828.4V863.9M305.7 830.2V864.5M310.5 829.7V862.9M315.4 827.9V862.7M320.2 829.5V862.8M325.1 829.7V862.1M329.9 828.5V865.0M334.8 823.6V864.1M339.6 824.2V860.0M344.5 819.5V852.5" stroke="#111" stroke-opacity="0.620" stroke-width="3.0" stroke-linecap="round" fill="none"/>
<path d="M200.5 751.2V780.7" stroke="#1a1a1a" stroke-opacity="0.113" stroke-width="2.6" stroke-linecap="round" fill="none"/>
<path d="M205.4 751.0V783.0" stroke="#1a1a1a" stroke-opacity="0.225" stroke-width="2.6" stroke-linecap="round" fill="none"/>
<path d="M210.2 748.7V786.2" stroke="#1a1a1a" stroke-opacity="0.338" stroke-width="2.6" stroke-linecap="round" fill="none"/>
<path d="M215.1 761.2V792.2M219.9 763.0V799.7M224.8 772.4V806.1M229.7 772.4V817.1M234.5 783.9V823.6M239.4 786.3V822.9M244.2 787.6V832.3M249.1 798.7V844.2M253.9 802.4V850.4M258.8 808.9V852.7M263.6 809.4V854.9M268.5 815.2V857.9M273.3 820.3V860.4M278.2 818.8V859.9M283.1 820.7V862.0M287.9 824.4V866.3M292.8 830.5V863.5M297.6 831.6V863.6M302.5 832.8V863.7M307.3 832.6V863.3M312.2 831.9V866.0M317.0 832.2V863.2M321.9 834.6V863.0M326.7 827.7V863.9M331.6 828.4V860.6M336.5 828.7V855.9M341.3 816.1V859.5" stroke="#1a1a1a" stroke-opacity="0.450" stroke-width="2.6" stroke-linecap="round" fill="none"/>
<path d="M201.9 739.5V775.3" stroke="#333" stroke-opacity="0.055" stroke-width="2.8" stroke-linecap="round" fill="none"/>
<path d="M206.8 744.2V783.7" stroke="#333" stroke-opacity="0.165" stroke-width="2.8" stroke-linecap="round" fill="none"/>
<path d="M211.6 748.2V787.5M216.5 756.0V796.8M221.3 761.5V803.5M226.2 765.0V808.8M231.1 776.4V815.7M235.9 776.8V821.7M240.8 780.1V832.1M245.6 788.3V835.6M250.5 792.9V845.0M255.3 801.6V847.9M260.2 803.2V853.5M265.0 806.8V852.7M269.9 810.3V860.0M274.7 814.1V858.7M279.6 818.4V856.6M284.5 817.0V858.8M289.3 822.8V857.7M294.2 825.7V860.9M299.0 825.5V862.4M303.9 824.6V856.8M308.7 825.0V859.7M313.6 825.7V858.5M318.4 825.3V862.2M323.3 825.5V857.9M328.1 825.8V858.4M333.0 823.6V855.1M337.9 819.5V854.7M342.7 817.2V849.3" stroke="#333" stroke-opacity="0.220" stroke-width="2.8" stroke-linecap="round" fill="none"/>
<path d="M454.4 738.2V760.2" stroke="#111" stroke-opacity="0.155" stroke-width="3.0" stroke-linecap="round" fill="none"/>
<path d="M459.2 740.3V764.0" stroke="#111" stroke-opacity="0.310" stroke-width="3.0" stroke-linecap="round" fill="none"/>
<path d="M464.1 741.6V766.5" stroke="#111" stroke-opacity="0.465" stroke-width="3.0" stroke-linecap="round" fill="none"/>
<path d="M468.9 748.9V777.1M473.8 757.6V784.3M478.6 757.7V794.1M483.5 756.9V805.2M488.3 767.9V808.2M493.2 771.6V818.0M498.1 779.1V818.2M502.9 783.6V825.9M507.8 790.1V834.6M512.6 795.6V837.8M517.5 794.7V843.3M522.3 802.0V848.3M527.2 805.2V854.6M532.0 807.6V852.3M536.9 806.9V858.4M541.7 815.5V855.3M546.6 813.7V858.1M551.5 815.5V861.2M556.3 815.9V859.2M561.2 816.6V863.7M566.0 817.9V862.9M570.9 820.5V861.6M575.7 820.5V858.0M580.6 818.8V861.7M585.4 820.2V861.8M590.3 821.3V861.1M595.1 820.3V860.7M600.0 825.2V862.8M604.9 822.8V864.4" stroke="#111" stroke-opacity="0.620" stroke-width="3.0" stroke-linecap="round" fill="none"/>
<path d="M456.0 739.6V758.4" stroke="#1a1a1a" stroke-opacity="0.113" stroke-width="2.6" stroke-linecap="round" fill="none"/>
<path d="M460.9 743.5V761.3" stroke="#1a1a1a" stroke-opacity="0.225" stroke-width="2.6" stroke-linecap="round" fill="none"/>
<path d="M465.7 749.4V766.3" stroke="#1a1a1a" stroke-opacity="0.338" stroke-width="2.6" stroke-linecap="round" fill="none"/>
<path d="M470.6 749.4V782.3M475.4 754.6V787.0M480.3 761.8V798.0M485.2 763.4V810.7M490.0 774.4V809.2M494.9 774.2V818.6M499.7 778.6V816.0M504.6 785.5V828.1M509.4 790.8V836.7M514.3 794.1V838.6M519.1 798.2V840.5M524.0 804.7V849.1M528.8 808.0V849.2M533.7 815.2V855.5M538.6 815.2V856.6M543.4 813.5V858.2M548.3 815.7V859.1M553.1 820.8V861.9M558.0 823.7V859.9M562.8 822.0V858.7M567.7 819.0V863.7M572.5 824.6V859.6M577.4 824.0V860.7M582.2 820.0V862.3M587.1 817.1V863.4M592.0 821.9V862.4M596.8 832.0V861.8M601.7 825.2V859.7" stroke="#1a1a1a" stroke-opacity="0.450" stroke-width="2.6" stroke-linecap="round" fill="none"/>
<path d="M457.4 736.3V757.9" stroke="#333" stroke-opacity="0.055" stroke-width="2.8" stroke-linecap="round" fill="none"/>
<path d="M462.3 740.0V761.4" stroke="#333" stroke-opacity="0.165" stroke-width="2.8" stroke-linecap="round" fill="none"/>
<path d="M467.1 742.2V771.4M472.0 745.6V778.9M476.8 752.9V786.8M481.7 760.0V796.2M486.6 763.3V802.9M491.4 764.7V809.1M496.3 772.2V812.7M501.1 778.4V822.6M506.0 780.3V825.9M510.8 789.5V832.4M515.7 790.1V838.2M520.5 796.9V842.9M525.4 800.3V849.7M530.2 802.6V854.6M535.1 806.6V849.3M540.0 810.7V854.7M544.8 815.2V857.6M549.7 814.7V856.9M554.5 814.6V854.1M559.4 816.4V858.0M564.2 815.4V857.2M569.1 814.6V861.4M573.9 812.2V859.1M578.8 817.5V861.6M583.6 817.0V861.8M588.5 816.5V859.7M593.4 817.3V860.0M598.2 818.8V854.5M603.1 817.1V858.3" stroke="#333" stroke-opacity="0.220" stroke-width="2.8" stroke-linecap="round" fill="none"/>
</g>
<line x1="89.00" y1="867.5" x2="89.00" y2="862.5" stroke="#262626" stroke-width="1.1"/>
<line x1="89.00" y1="703.8" x2="89.00" y2="708.8" stroke="#262626" stroke-width="1.1"/>
<line x1="216.75" y1="867.5" x2="216.75" y2="862.5" stroke="#262626" stroke-width="1.1"/>
<line x1="216.75" y1="703.8" x2="216.75" y2="708.8" stroke="#262626" stroke-width="1.1"/>
<line x1="344.50" y1="867.5" x2="344.50" y2="862.5" stroke="#262626" stroke-width="1.1"/>
<line x1="344.50" y1="703.8" x2="344.50" y2="708.8" stroke="#262626" stroke-width="1.1"/>
<line x1="472.25" y1="867.5" x2="472.25" y2="862.5" stroke="#262626" stroke-width="1.1"/>
<line x1="472.25" y1="703.8" x2="472.25" y2="708.8" stroke="#262626" stroke-width="1.1"/>
<line x1="600.00" y1="867.5" x2="600.00" y2="862.5" stroke="#262626" stroke-width="1.1"/>
<line x1="600.00" y1="703.8" x2="600.00" y2="708.8" stroke="#262626" stroke-width="1.1"/>
<line x1="89.3" y1="867.50" x2="94.0" y2="867.50" stroke="#262626" stroke-width="1.1"/>
<line x1="600.0" y1="867.50" x2="595.0" y2="867.50" stroke="#262626" stroke-width="1.1"/>
<line x1="89.3" y1="840.22" x2="94.0" y2="840.22" stroke="#262626" stroke-width="1.1"/>
<line x1="600.0" y1="840.22" x2="595.0" y2="840.22" stroke="#262626" stroke-width="1.1"/>
<line x1="89.3" y1="812.93" x2="94.0" y2="812.93" stroke="#262626" stroke-width="1.1"/>
<line x1="600.0" y1="812.93" x2="595.0" y2="812.93" stroke="#262626" stroke-width="1.1"/>
<line x1="89.3" y1="785.65" x2="94.0" y2="785.65" stroke="#262626" stroke-width="1.1"/>
<line x1="600.0" y1="785.65" x2="595.0" y2="785.65" stroke="#262626" stroke-width="1.1"/>
<line x1="89.3" y1="758.37" x2="94.0" y2="758.37" stroke="#262626" stroke-width="1.1"/>
<line x1="600.0" y1="758.37" x2="595.0" y2="758.37" stroke="#262626" stroke-width="1.1"/>
<line x1="89.3" y1="731.08" x2="94.0" y2="731.08" stroke="#262626" stroke-width="1.1"/>
<line x1="600.0" y1="731.08" x2="595.0" y2="731.08" stroke="#262626" stroke-width="1.1"/>
<line x1="89.3" y1="703.80" x2="94.0" y2="703.80" stroke="#262626" stroke-width="1.1"/>
<line x1="600.0" y1="703.80" x2="595.0" y2="703.80" stroke="#262626" stroke-width="1.1"/>
<polyline points="600.0,703.8 89.3,703.8 89.3,867.5" fill="none" stroke="#262626" stroke-width="1.2"/>
<line x1="89.3" y1="867.5" x2="600.0" y2="867.5" stroke="#262626" stroke-width="1.35"/>
<line x1="600.0" y1="703.1999999999999" x2="600.0" y2="868.1" stroke="#262626" stroke-width="1.6"/>
<text x="82.49" y="897.00" class="tk">0</text>
<text x="210.24" y="897.00" class="tk">5</text>
<path d="M640 0L815 0L815 1409L690 1409C670 1290 560 1190 380 1180L250 1175L250 1045L640 1045Z" transform="translate(331.17,897.00) scale(0.01196,-0.01196)" fill="#262626" stroke="#262626" stroke-width="25.1"/>
<text x="344.80" y="897.00" class="tk">0</text>
<path d="M640 0L815 0L815 1409L690 1409C670 1290 560 1190 380 1180L250 1175L250 1045L640 1045Z" transform="translate(458.92,897.00) scale(0.01196,-0.01196)" fill="#262626" stroke="#262626" stroke-width="25.1"/>
<text x="472.55" y="897.00" class="tk">5</text>
<text x="586.67" y="897.00" class="tk">2</text>
<text x="600.30" y="897.00" class="tk">0</text>
<text x="70.47" y="876.80" class="tk">0</text>
<path d="M640 0L815 0L815 1409L690 1409C670 1290 560 1190 380 1180L250 1175L250 1045L640 1045Z" transform="translate(56.85,849.52) scale(0.01196,-0.01196)" fill="#262626" stroke="#262626" stroke-width="25.1"/>
<text x="70.47" y="849.52" class="tk">5</text>
<text x="56.85" y="822.23" class="tk">3</text>
<text x="70.47" y="822.23" class="tk">0</text>
<text x="56.85" y="794.95" class="tk">4</text>
<text x="70.47" y="794.95" class="tk">5</text>
<text x="56.85" y="767.67" class="tk">6</text>
<text x="70.47" y="767.67" class="tk">0</text>
<text x="56.85" y="740.38" class="tk">7</text>
<text x="70.47" y="740.38" class="tk">5</text>
<text x="56.85" y="713.10" class="tk">9</text>
<text x="70.47" y="713.10" class="tk">0</text>
<text transform="translate(45.8,786.2) rotate(-90)" text-anchor="middle" class="lb">Angle [°]</text>
<text x="344.2" y="940.1" text-anchor="middle" class="lb">Time [s]</text>
</svg></body></html>
